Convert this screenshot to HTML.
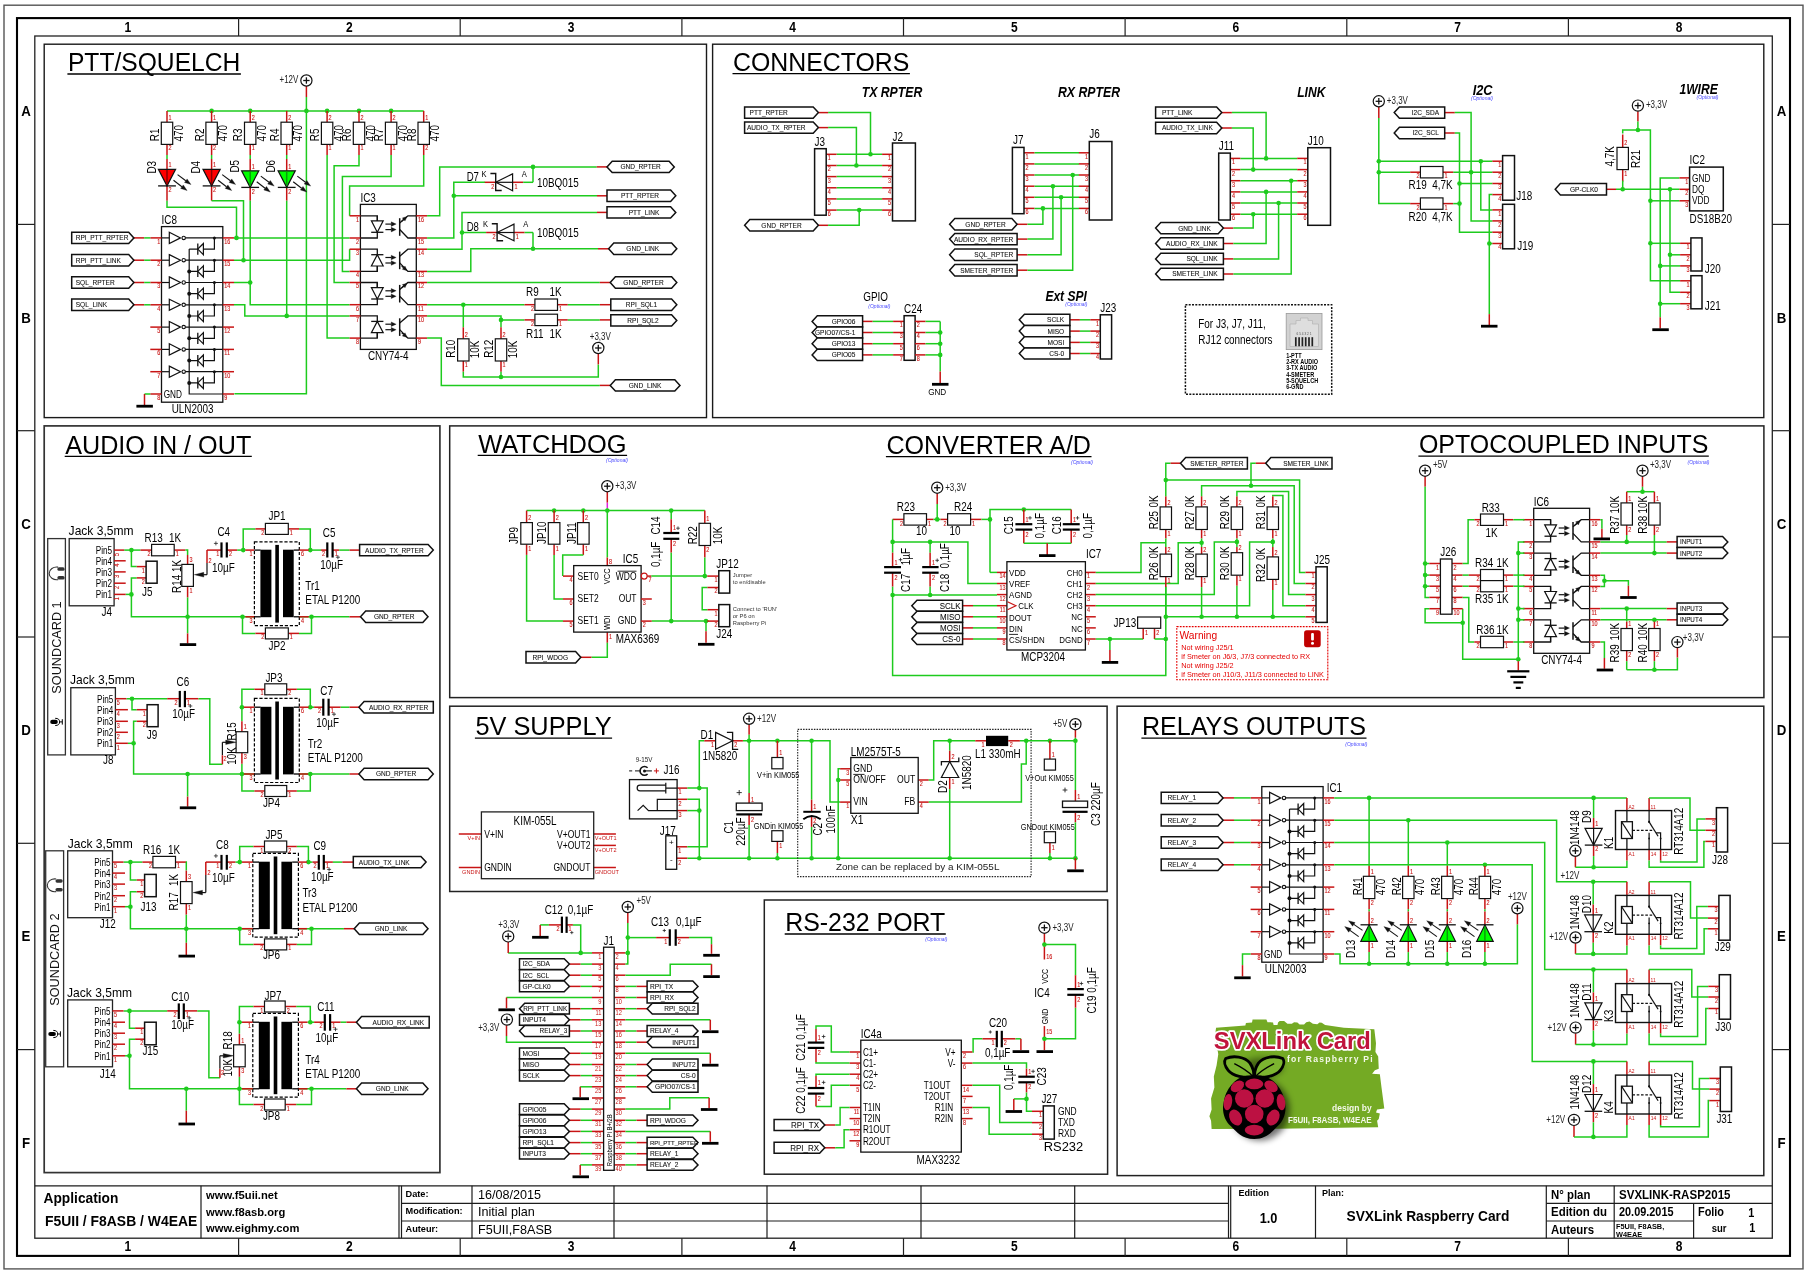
<!DOCTYPE html>
<html><head><meta charset="utf-8"><title>SVXLink Raspberry Card</title>
<style>
html,body{margin:0;padding:0;background:#fff}
body{width:1807px;height:1274px;overflow:hidden}
svg{display:block;will-change:transform}
svg text{font-family:"Liberation Sans",sans-serif;}
</style></head><body>
<svg width="1807" height="1274" viewBox="0 0 1807 1274" stroke-linecap="butt" stroke-linejoin="miter">
<rect x="4" y="5.2" width="1799" height="1263.7" stroke="#555" stroke-width="1.4" fill="none"/>
<rect x="17" y="18.1" width="1773" height="1237.8" stroke="#000" stroke-width="2.1" fill="none"/>
<rect x="34.8" y="36" width="1737.5" height="1202.2" stroke="#222" stroke-width="1.3" fill="none"/>
<path d="M238.6 18.1L238.6 36" stroke="#222" stroke-width="1.2"/>
<path d="M238.6 1238.2L238.6 1255.9" stroke="#222" stroke-width="1.2"/>
<path d="M460.2 18.1L460.2 36" stroke="#222" stroke-width="1.2"/>
<path d="M460.2 1238.2L460.2 1255.9" stroke="#222" stroke-width="1.2"/>
<path d="M681.9 18.1L681.9 36" stroke="#222" stroke-width="1.2"/>
<path d="M681.9 1238.2L681.9 1255.9" stroke="#222" stroke-width="1.2"/>
<path d="M903.5 18.1L903.5 36" stroke="#222" stroke-width="1.2"/>
<path d="M903.5 1238.2L903.5 1255.9" stroke="#222" stroke-width="1.2"/>
<path d="M1125.1 18.1L1125.1 36" stroke="#222" stroke-width="1.2"/>
<path d="M1125.1 1238.2L1125.1 1255.9" stroke="#222" stroke-width="1.2"/>
<path d="M1346.8 18.1L1346.8 36" stroke="#222" stroke-width="1.2"/>
<path d="M1346.8 1238.2L1346.8 1255.9" stroke="#222" stroke-width="1.2"/>
<path d="M1568.4 18.1L1568.4 36" stroke="#222" stroke-width="1.2"/>
<path d="M1568.4 1238.2L1568.4 1255.9" stroke="#222" stroke-width="1.2"/>
<text transform="translate(127.8 31.6) scale(0.8 1)" font-size="15" text-anchor="middle" font-weight="bold">1</text>
<text transform="translate(127.8 1250.8) scale(0.8 1)" font-size="15" text-anchor="middle" font-weight="bold">1</text>
<text transform="translate(349.4 31.6) scale(0.8 1)" font-size="15" text-anchor="middle" font-weight="bold">2</text>
<text transform="translate(349.4 1250.8) scale(0.8 1)" font-size="15" text-anchor="middle" font-weight="bold">2</text>
<text transform="translate(571.1 31.6) scale(0.8 1)" font-size="15" text-anchor="middle" font-weight="bold">3</text>
<text transform="translate(571.1 1250.8) scale(0.8 1)" font-size="15" text-anchor="middle" font-weight="bold">3</text>
<text transform="translate(792.7 31.6) scale(0.8 1)" font-size="15" text-anchor="middle" font-weight="bold">4</text>
<text transform="translate(792.7 1250.8) scale(0.8 1)" font-size="15" text-anchor="middle" font-weight="bold">4</text>
<text transform="translate(1014.3 31.6) scale(0.8 1)" font-size="15" text-anchor="middle" font-weight="bold">5</text>
<text transform="translate(1014.3 1250.8) scale(0.8 1)" font-size="15" text-anchor="middle" font-weight="bold">5</text>
<text transform="translate(1235.9 31.6) scale(0.8 1)" font-size="15" text-anchor="middle" font-weight="bold">6</text>
<text transform="translate(1235.9 1250.8) scale(0.8 1)" font-size="15" text-anchor="middle" font-weight="bold">6</text>
<text transform="translate(1457.6 31.6) scale(0.8 1)" font-size="15" text-anchor="middle" font-weight="bold">7</text>
<text transform="translate(1457.6 1250.8) scale(0.8 1)" font-size="15" text-anchor="middle" font-weight="bold">7</text>
<text transform="translate(1679.2 31.6) scale(0.8 1)" font-size="15" text-anchor="middle" font-weight="bold">8</text>
<text transform="translate(1679.2 1250.8) scale(0.8 1)" font-size="15" text-anchor="middle" font-weight="bold">8</text>
<path d="M17 224.4L34.8 224.4" stroke="#222" stroke-width="1.2"/>
<path d="M1772.2 224.4L1790 224.4" stroke="#222" stroke-width="1.2"/>
<path d="M17 430.7L34.8 430.7" stroke="#222" stroke-width="1.2"/>
<path d="M1772.2 430.7L1790 430.7" stroke="#222" stroke-width="1.2"/>
<path d="M17 637L34.8 637" stroke="#222" stroke-width="1.2"/>
<path d="M1772.2 637L1790 637" stroke="#222" stroke-width="1.2"/>
<path d="M17 843.3L34.8 843.3" stroke="#222" stroke-width="1.2"/>
<path d="M1772.2 843.3L1790 843.3" stroke="#222" stroke-width="1.2"/>
<path d="M17 1049.6L34.8 1049.6" stroke="#222" stroke-width="1.2"/>
<path d="M1772.2 1049.6L1790 1049.6" stroke="#222" stroke-width="1.2"/>
<text transform="translate(26 116.2) scale(0.95 1)" font-size="14" text-anchor="middle" font-weight="bold">A</text>
<text transform="translate(1781.5 116.2) scale(0.95 1)" font-size="14" text-anchor="middle" font-weight="bold">A</text>
<text transform="translate(26 322.5) scale(0.95 1)" font-size="14" text-anchor="middle" font-weight="bold">B</text>
<text transform="translate(1781.5 322.5) scale(0.95 1)" font-size="14" text-anchor="middle" font-weight="bold">B</text>
<text transform="translate(26 528.8) scale(0.95 1)" font-size="14" text-anchor="middle" font-weight="bold">C</text>
<text transform="translate(1781.5 528.8) scale(0.95 1)" font-size="14" text-anchor="middle" font-weight="bold">C</text>
<text transform="translate(26 735.1) scale(0.95 1)" font-size="14" text-anchor="middle" font-weight="bold">D</text>
<text transform="translate(1781.5 735.1) scale(0.95 1)" font-size="14" text-anchor="middle" font-weight="bold">D</text>
<text transform="translate(26 941.4) scale(0.95 1)" font-size="14" text-anchor="middle" font-weight="bold">E</text>
<text transform="translate(1781.5 941.4) scale(0.95 1)" font-size="14" text-anchor="middle" font-weight="bold">E</text>
<text transform="translate(26 1147.7) scale(0.95 1)" font-size="14" text-anchor="middle" font-weight="bold">F</text>
<text transform="translate(1781.5 1147.7) scale(0.95 1)" font-size="14" text-anchor="middle" font-weight="bold">F</text>
<rect x="44.2" y="44.2" width="662.3" height="373.4" stroke="#1a1a1a" stroke-width="1.4" fill="none"/>
<rect x="712.6" y="44.2" width="1051.2" height="373.4" stroke="#1a1a1a" stroke-width="1.4" fill="none"/>
<rect x="44.2" y="425.9" width="395.7" height="746.7" stroke="#333" stroke-width="1.7" fill="none"/>
<rect x="449.7" y="425.9" width="1314.2" height="271.7" stroke="#222" stroke-width="1.5" fill="none"/>
<rect x="449.7" y="706.2" width="657.4" height="185.3" stroke="#222" stroke-width="1.5" fill="none"/>
<rect x="764.3" y="900" width="343.3" height="274.2" stroke="#222" stroke-width="1.5" fill="none"/>
<rect x="1117.1" y="706.2" width="646.7" height="469.4" stroke="#222" stroke-width="1.5" fill="none"/>
<path d="M34.8 1185.8L1772.2 1185.8" stroke="#1c1c1c" stroke-width="1.2"/>
<path d="M201 1185.8L201 1238.2" stroke="#1c1c1c" stroke-width="1.2"/>
<path d="M399 1185.8L399 1238.2" stroke="#1c1c1c" stroke-width="1.2"/>
<path d="M401.5 1185.8L401.5 1238.2" stroke="#1c1c1c" stroke-width="1.2"/>
<path d="M472 1185.8L472 1238.2" stroke="#1c1c1c" stroke-width="1.2"/>
<path d="M614 1185.8L614 1238.2" stroke="#1c1c1c" stroke-width="1.2"/>
<path d="M767 1185.8L767 1238.2" stroke="#1c1c1c" stroke-width="1.2"/>
<path d="M921 1185.8L921 1238.2" stroke="#1c1c1c" stroke-width="1.2"/>
<path d="M1074.7 1185.8L1074.7 1238.2" stroke="#1c1c1c" stroke-width="1.2"/>
<path d="M401.5 1203.4L1228.5 1203.4" stroke="#1c1c1c" stroke-width="1.2"/>
<path d="M401.5 1221L1228.5 1221" stroke="#1c1c1c" stroke-width="1.2"/>
<path d="M1228.5 1185.8L1228.5 1238.2" stroke="#1c1c1c" stroke-width="1.2"/>
<path d="M1230.7 1185.8L1230.7 1238.2" stroke="#1c1c1c" stroke-width="1.2"/>
<path d="M1315.5 1185.8L1315.5 1238.2" stroke="#1c1c1c" stroke-width="1.2"/>
<path d="M1546.3 1185.8L1546.3 1238.2" stroke="#1c1c1c" stroke-width="1.2"/>
<path d="M1614.2 1185.8L1614.2 1238.2" stroke="#1c1c1c" stroke-width="1.2"/>
<path d="M1546.3 1203.4L1772.2 1203.4" stroke="#1c1c1c" stroke-width="1.2"/>
<path d="M1546.3 1221L1693.6 1221" stroke="#1c1c1c" stroke-width="1.2"/>
<path d="M1693.6 1203.4L1693.6 1238.2" stroke="#1c1c1c" stroke-width="1.2"/>
<text transform="translate(43.5 1203) scale(0.93 1)" font-size="14.8" font-weight="bold">Application</text>
<text transform="translate(45 1225.5) scale(0.94 1)" font-size="14.8" font-weight="bold">F5UII / F8ASB / W4EAE</text>
<text transform="translate(206 1199.3) scale(0.95 1)" font-size="11.8" font-weight="bold">www.f5uii.net</text>
<text transform="translate(206 1216) scale(0.95 1)" font-size="11.8" font-weight="bold">www.f8asb.org</text>
<text transform="translate(206 1232.2) scale(0.95 1)" font-size="11.8" font-weight="bold">www.eighmy.com</text>
<text transform="translate(405.5 1196.5)" font-size="9.2" font-weight="bold">Date:</text>
<text transform="translate(405.5 1214)" font-size="9.2" font-weight="bold">Modification:</text>
<text transform="translate(405.5 1231.5)" font-size="9.2" font-weight="bold">Auteur:</text>
<text transform="translate(478 1198.8)" font-size="12.6">16/08/2015</text>
<text transform="translate(478 1216)" font-size="12.6">Initial plan</text>
<text transform="translate(478 1233.6)" font-size="12.6">F5UII,F8ASB</text>
<text transform="translate(1238.5 1196.3)" font-size="9" font-weight="bold">Edition</text>
<text transform="translate(1268.5 1223) scale(0.88 1)" font-size="14.5" text-anchor="middle" font-weight="bold">1.0</text>
<text transform="translate(1322 1196.3)" font-size="9" font-weight="bold">Plan:</text>
<text transform="translate(1346.5 1221.2) scale(0.95 1)" font-size="14.5" font-weight="bold">SVXLink Raspberry Card</text>
<text transform="translate(1551 1198.8) scale(0.92 1)" font-size="12.4" font-weight="bold">N° plan</text>
<text transform="translate(1551 1216.3) scale(0.925 1)" font-size="12.4" font-weight="bold">Edition du</text>
<text transform="translate(1551 1233.7) scale(0.92 1)" font-size="12.4" font-weight="bold">Auteurs</text>
<text transform="translate(1619 1198.8) scale(0.93 1)" font-size="12.4" font-weight="bold">SVXLINK-RASP2015</text>
<text transform="translate(1619 1216.3) scale(0.88 1)" font-size="12.4" font-weight="bold">20.09.2015</text>
<text transform="translate(1616 1229) scale(0.97 1)" font-size="7.6" font-weight="bold">F5UII, F8ASB,</text>
<text transform="translate(1616 1236.6) scale(0.97 1)" font-size="7.6" font-weight="bold">W4EAE</text>
<text transform="translate(1698 1216.3) scale(0.88 1)" font-size="12.4" font-weight="bold">Folio</text>
<text transform="translate(1754.2 1216.6) scale(0.88 1)" font-size="12.4" text-anchor="end" font-weight="bold">1</text>
<text transform="translate(1711.7 1231.8) scale(0.88 1)" font-size="10.8" font-weight="bold">sur</text>
<text transform="translate(1755.4 1231.8) scale(0.88 1)" font-size="12.4" text-anchor="end" font-weight="bold">1</text>
<text x="67.9" y="71.2" font-size="26.2" textLength="172.5" lengthAdjust="spacingAndGlyphs">PTT/SQUELCH</text>
<path d="M67.4 74L240.9 74" stroke="#000" stroke-width="1.3"/>
<path d="M306.4 97L306.4 393.7L234.4 393.7" stroke="#1ecb1e" stroke-width="1.5" fill="none"/>
<path d="M306.4 86L306.4 97" stroke="#c81414" stroke-width="1.5"/>
<circle cx="306.4" cy="80.5" r="5.6" fill="#fff" stroke="#111" stroke-width="1.2"/>
<path d="M303.2 80.5L309.6 80.5" stroke="#111" stroke-width="1.3"/>
<path d="M306.4 77.3L306.4 83.7" stroke="#111" stroke-width="1.3"/>
<text transform="translate(298.4 83.3) scale(0.8 1)" font-size="10" text-anchor="end" fill="#222">+12V</text>
<path d="M167 110.9L423.7 110.9" stroke="#1ecb1e" stroke-width="1.5" fill="none"/>
<circle cx="211.6" cy="110.9" r="2.3" fill="#1ecb1e"/>
<circle cx="250.2" cy="110.9" r="2.3" fill="#1ecb1e"/>
<circle cx="306.4" cy="110.9" r="2.3" fill="#1ecb1e"/>
<circle cx="327.1" cy="110.9" r="2.3" fill="#1ecb1e"/>
<circle cx="359" cy="110.9" r="2.3" fill="#1ecb1e"/>
<circle cx="391.1" cy="110.9" r="2.3" fill="#1ecb1e"/>
<path d="M167 110.9L167 122.2" stroke="#c81414" stroke-width="1.5"/>
<path d="M167 144.4L167 155" stroke="#c81414" stroke-width="1.5"/>
<rect x="161.3" y="122.2" width="11.4" height="22.2" stroke="#111" stroke-width="1.2" fill="#fff"/>
<text transform="translate(168.5 120) scale(0.85 1)" font-size="6.4" fill="#c81414" stroke="#c81414" stroke-width="0.12">1</text>
<text transform="translate(168.5 150.4) scale(0.85 1)" font-size="6.4" fill="#c81414" stroke="#c81414" stroke-width="0.12">2</text>
<text transform="translate(159.1 141.2) rotate(-90) scale(0.78 1)" font-size="12.7">R1</text>
<text transform="translate(182.7 141.6) rotate(-90) scale(0.78 1)" font-size="12.7">470</text>
<path d="M211.6 110.9L211.6 122.2" stroke="#c81414" stroke-width="1.5"/>
<path d="M211.6 144.4L211.6 155" stroke="#c81414" stroke-width="1.5"/>
<rect x="205.9" y="122.2" width="11.4" height="22.2" stroke="#111" stroke-width="1.2" fill="#fff"/>
<text transform="translate(213.1 120) scale(0.85 1)" font-size="6.4" fill="#c81414" stroke="#c81414" stroke-width="0.12">1</text>
<text transform="translate(213.1 150.4) scale(0.85 1)" font-size="6.4" fill="#c81414" stroke="#c81414" stroke-width="0.12">2</text>
<text transform="translate(203.7 141.2) rotate(-90) scale(0.78 1)" font-size="12.7">R2</text>
<text transform="translate(227.3 141.6) rotate(-90) scale(0.78 1)" font-size="12.7">470</text>
<path d="M250.2 110.9L250.2 122.2" stroke="#c81414" stroke-width="1.5"/>
<path d="M250.2 144.4L250.2 155" stroke="#c81414" stroke-width="1.5"/>
<rect x="244.5" y="122.2" width="11.4" height="22.2" stroke="#111" stroke-width="1.2" fill="#fff"/>
<text transform="translate(251.7 120) scale(0.85 1)" font-size="6.4" fill="#c81414" stroke="#c81414" stroke-width="0.12">2</text>
<text transform="translate(251.7 150.4) scale(0.85 1)" font-size="6.4" fill="#c81414" stroke="#c81414" stroke-width="0.12">1</text>
<text transform="translate(242.3 141.2) rotate(-90) scale(0.78 1)" font-size="12.7">R3</text>
<text transform="translate(265.9 141.6) rotate(-90) scale(0.78 1)" font-size="12.7">470</text>
<path d="M286.7 110.9L286.7 122.2" stroke="#c81414" stroke-width="1.5"/>
<path d="M286.7 144.4L286.7 155" stroke="#c81414" stroke-width="1.5"/>
<rect x="281" y="122.2" width="11.4" height="22.2" stroke="#111" stroke-width="1.2" fill="#fff"/>
<text transform="translate(288.2 120) scale(0.85 1)" font-size="6.4" fill="#c81414" stroke="#c81414" stroke-width="0.12">2</text>
<text transform="translate(288.2 150.4) scale(0.85 1)" font-size="6.4" fill="#c81414" stroke="#c81414" stroke-width="0.12">1</text>
<text transform="translate(278.8 141.2) rotate(-90) scale(0.78 1)" font-size="12.7">R4</text>
<text transform="translate(302.4 141.6) rotate(-90) scale(0.78 1)" font-size="12.7">470</text>
<path d="M327.1 110.9L327.1 122.2" stroke="#c81414" stroke-width="1.5"/>
<path d="M327.1 144.4L327.1 155" stroke="#c81414" stroke-width="1.5"/>
<rect x="321.4" y="122.2" width="11.4" height="22.2" stroke="#111" stroke-width="1.2" fill="#fff"/>
<text transform="translate(328.6 120) scale(0.85 1)" font-size="6.4" fill="#c81414" stroke="#c81414" stroke-width="0.12">2</text>
<text transform="translate(328.6 150.4) scale(0.85 1)" font-size="6.4" fill="#c81414" stroke="#c81414" stroke-width="0.12">1</text>
<text transform="translate(319.2 141.2) rotate(-90) scale(0.78 1)" font-size="12.7">R5</text>
<text transform="translate(342.8 141.6) rotate(-90) scale(0.78 1)" font-size="12.7">470</text>
<path d="M359 110.9L359 122.2" stroke="#c81414" stroke-width="1.5"/>
<path d="M359 144.4L359 155" stroke="#c81414" stroke-width="1.5"/>
<rect x="353.3" y="122.2" width="11.4" height="22.2" stroke="#111" stroke-width="1.2" fill="#fff"/>
<text transform="translate(360.5 120) scale(0.85 1)" font-size="6.4" fill="#c81414" stroke="#c81414" stroke-width="0.12">2</text>
<text transform="translate(360.5 150.4) scale(0.85 1)" font-size="6.4" fill="#c81414" stroke="#c81414" stroke-width="0.12">1</text>
<text transform="translate(351.1 141.2) rotate(-90) scale(0.78 1)" font-size="12.7">R6</text>
<text transform="translate(374.7 141.6) rotate(-90) scale(0.78 1)" font-size="12.7">470</text>
<path d="M391.1 110.9L391.1 122.2" stroke="#c81414" stroke-width="1.5"/>
<path d="M391.1 144.4L391.1 155" stroke="#c81414" stroke-width="1.5"/>
<rect x="385.4" y="122.2" width="11.4" height="22.2" stroke="#111" stroke-width="1.2" fill="#fff"/>
<text transform="translate(392.6 120) scale(0.85 1)" font-size="6.4" fill="#c81414" stroke="#c81414" stroke-width="0.12">2</text>
<text transform="translate(392.6 150.4) scale(0.85 1)" font-size="6.4" fill="#c81414" stroke="#c81414" stroke-width="0.12">1</text>
<text transform="translate(383.2 141.2) rotate(-90) scale(0.78 1)" font-size="12.7">R7</text>
<text transform="translate(406.8 141.6) rotate(-90) scale(0.78 1)" font-size="12.7">470</text>
<path d="M423.7 110.9L423.7 122.2" stroke="#c81414" stroke-width="1.5"/>
<path d="M423.7 144.4L423.7 155" stroke="#c81414" stroke-width="1.5"/>
<rect x="418" y="122.2" width="11.4" height="22.2" stroke="#111" stroke-width="1.2" fill="#fff"/>
<text transform="translate(425.2 120) scale(0.85 1)" font-size="6.4" fill="#c81414" stroke="#c81414" stroke-width="0.12">1</text>
<text transform="translate(425.2 150.4) scale(0.85 1)" font-size="6.4" fill="#c81414" stroke="#c81414" stroke-width="0.12">2</text>
<text transform="translate(415.8 141.2) rotate(-90) scale(0.78 1)" font-size="12.7">R8</text>
<text transform="translate(439.4 141.6) rotate(-90) scale(0.78 1)" font-size="12.7">470</text>
<path d="M167 155L167 159" stroke="#1ecb1e" stroke-width="1.5" fill="none"/>
<path d="M167 159L167 169.3" stroke="#c81414" stroke-width="1.5"/>
<path d="M167 185.9L167 200.7" stroke="#c81414" stroke-width="1.5"/>
<path d="M158.4 169.3L175.6 169.3L167 185.9Z" stroke="#111" stroke-width="1.2" fill="#f00"/>
<path d="M167 169.9L167 184.4" stroke="#8a0000" stroke-width="1.5"/>
<path d="M158.1 185.9L175.9 185.9" stroke="#111" stroke-width="1.3"/>
<path d="M177.6 174.6L185.8 180.7" stroke="#111" stroke-width="1.1"/>
<path d="M191 184.6L184.5 182.5L187.1 178.9Z" stroke="#111" stroke-width="0.3" fill="#111"/>
<path d="M173.5 180.2L181.9 186.7" stroke="#111" stroke-width="1.1"/>
<path d="M187.1 190.6L180.6 188.4L183.3 184.9Z" stroke="#111" stroke-width="0.3" fill="#111"/>
<text transform="translate(168.5 167.1) scale(0.85 1)" font-size="6.4" fill="#c81414" stroke="#c81414" stroke-width="0.12">1</text>
<text transform="translate(168.5 192.3) scale(0.85 1)" font-size="6.4" fill="#c81414" stroke="#c81414" stroke-width="0.12">2</text>
<text transform="translate(155.5 167.3) rotate(-90) scale(0.78 1)" font-size="12.7" text-anchor="middle">D3</text>
<path d="M211.6 155L211.6 159" stroke="#1ecb1e" stroke-width="1.5" fill="none"/>
<path d="M211.6 159L211.6 169.3" stroke="#c81414" stroke-width="1.5"/>
<path d="M211.6 185.9L211.6 200.7" stroke="#c81414" stroke-width="1.5"/>
<path d="M203 169.3L220.2 169.3L211.6 185.9Z" stroke="#111" stroke-width="1.2" fill="#f00"/>
<path d="M211.6 169.9L211.6 184.4" stroke="#8a0000" stroke-width="1.5"/>
<path d="M202.7 185.9L220.5 185.9" stroke="#111" stroke-width="1.3"/>
<path d="M222.2 174.6L230.4 180.7" stroke="#111" stroke-width="1.1"/>
<path d="M235.6 184.6L229.1 182.5L231.7 178.9Z" stroke="#111" stroke-width="0.3" fill="#111"/>
<path d="M218.1 180.2L226.5 186.7" stroke="#111" stroke-width="1.1"/>
<path d="M231.7 190.6L225.2 188.4L227.9 184.9Z" stroke="#111" stroke-width="0.3" fill="#111"/>
<text transform="translate(213.1 167.1) scale(0.85 1)" font-size="6.4" fill="#c81414" stroke="#c81414" stroke-width="0.12">1</text>
<text transform="translate(213.1 192.3) scale(0.85 1)" font-size="6.4" fill="#c81414" stroke="#c81414" stroke-width="0.12">2</text>
<text transform="translate(200.1 167.3) rotate(-90) scale(0.78 1)" font-size="12.7" text-anchor="middle">D4</text>
<path d="M250.2 155L250.2 159" stroke="#1ecb1e" stroke-width="1.5" fill="none"/>
<path d="M250.2 159L250.2 170.8" stroke="#c81414" stroke-width="1.5"/>
<path d="M250.2 187.4L250.2 200.7" stroke="#c81414" stroke-width="1.5"/>
<path d="M241.6 170.8L258.8 170.8L250.2 187.4Z" stroke="#111" stroke-width="1.2" fill="#0f0"/>
<path d="M250.2 171.4L250.2 185.9" stroke="#0a9a0a" stroke-width="1.5"/>
<path d="M241.3 187.4L259.1 187.4" stroke="#111" stroke-width="1.3"/>
<path d="M260.8 176.1L269 182.2" stroke="#111" stroke-width="1.1"/>
<path d="M274.2 186.1L267.7 184L270.3 180.4Z" stroke="#111" stroke-width="0.3" fill="#111"/>
<path d="M256.7 181.7L265.1 188.2" stroke="#111" stroke-width="1.1"/>
<path d="M270.3 192.1L263.8 189.9L266.5 186.4Z" stroke="#111" stroke-width="0.3" fill="#111"/>
<text transform="translate(251.7 168.6) scale(0.85 1)" font-size="6.4" fill="#c81414" stroke="#c81414" stroke-width="0.12">1</text>
<text transform="translate(251.7 193.8) scale(0.85 1)" font-size="6.4" fill="#c81414" stroke="#c81414" stroke-width="0.12">2</text>
<text transform="translate(238.7 166.3) rotate(-90) scale(0.78 1)" font-size="12.7" text-anchor="middle">D5</text>
<path d="M286.7 155L286.7 159" stroke="#1ecb1e" stroke-width="1.5" fill="none"/>
<path d="M286.7 159L286.7 170.8" stroke="#c81414" stroke-width="1.5"/>
<path d="M286.7 187.4L286.7 200.7" stroke="#c81414" stroke-width="1.5"/>
<path d="M278.1 170.8L295.3 170.8L286.7 187.4Z" stroke="#111" stroke-width="1.2" fill="#0f0"/>
<path d="M286.7 171.4L286.7 185.9" stroke="#0a9a0a" stroke-width="1.5"/>
<path d="M277.8 187.4L295.6 187.4" stroke="#111" stroke-width="1.3"/>
<path d="M297.3 176.1L305.5 182.2" stroke="#111" stroke-width="1.1"/>
<path d="M310.7 186.1L304.2 184L306.8 180.4Z" stroke="#111" stroke-width="0.3" fill="#111"/>
<path d="M293.2 181.7L301.6 188.2" stroke="#111" stroke-width="1.1"/>
<path d="M306.8 192.1L300.3 189.9L303 186.4Z" stroke="#111" stroke-width="0.3" fill="#111"/>
<text transform="translate(288.2 168.6) scale(0.85 1)" font-size="6.4" fill="#c81414" stroke="#c81414" stroke-width="0.12">1</text>
<text transform="translate(288.2 193.8) scale(0.85 1)" font-size="6.4" fill="#c81414" stroke="#c81414" stroke-width="0.12">2</text>
<text transform="translate(275.2 166.3) rotate(-90) scale(0.78 1)" font-size="12.7" text-anchor="middle">D6</text>
<path d="M167 200.7L167 207.2L236.5 207.2L236.5 237.9" stroke="#1ecb1e" stroke-width="1.5" fill="none"/>
<path d="M211.6 200.7L243.5 200.7L243.5 260.2" stroke="#1ecb1e" stroke-width="1.5" fill="none"/>
<path d="M250.2 200.7L250.2 304.8L349.6 304.8" stroke="#1ecb1e" stroke-width="1.5" fill="none"/>
<path d="M286.7 200.7L286.7 315.9" stroke="#1ecb1e" stroke-width="1.5" fill="none"/>
<rect x="161.5" y="226.6" width="61.3" height="175.6" stroke="#111" stroke-width="1.3" fill="#fff"/>
<path d="M161.5 237.9L169.3 237.9" stroke="#111" stroke-width="1.2"/>
<path d="M169.3 232.3L180.5 237.9L169.3 243.5Z" stroke="#111" stroke-width="1.2" fill="#fff"/>
<circle cx="183.7" cy="237.9" r="1.7" fill="#fff" stroke="#111" stroke-width="1.1"/>
<path d="M185.4 237.9L222.8 237.9" stroke="#111" stroke-width="1.2"/>
<circle cx="214.4" cy="237.9" r="1.5" fill="#111"/>
<path d="M214.4 237.9L214.4 249.1L189.2 249.1" stroke="#111" stroke-width="1.2" fill="none"/>
<path d="M197.8 243.5L197.8 254.7" stroke="#111" stroke-width="1.3"/>
<path d="M203.4 243.5L197.8 249.1L203.4 254.7Z" stroke="#111" stroke-width="1.2" fill="#fff"/>
<path d="M161.5 260.2L169.3 260.2" stroke="#111" stroke-width="1.2"/>
<path d="M169.3 254.6L180.5 260.2L169.3 265.8Z" stroke="#111" stroke-width="1.2" fill="#fff"/>
<circle cx="183.7" cy="260.2" r="1.7" fill="#fff" stroke="#111" stroke-width="1.1"/>
<path d="M185.4 260.2L222.8 260.2" stroke="#111" stroke-width="1.2"/>
<circle cx="214.4" cy="260.2" r="1.5" fill="#111"/>
<path d="M214.4 260.2L214.4 271.4L189.2 271.4" stroke="#111" stroke-width="1.2" fill="none"/>
<path d="M197.8 265.8L197.8 277" stroke="#111" stroke-width="1.3"/>
<path d="M203.4 265.8L197.8 271.4L203.4 277Z" stroke="#111" stroke-width="1.2" fill="#fff"/>
<circle cx="189.2" cy="271.4" r="2.0" fill="#111"/>
<path d="M161.5 282.5L169.3 282.5" stroke="#111" stroke-width="1.2"/>
<path d="M169.3 276.9L180.5 282.5L169.3 288.1Z" stroke="#111" stroke-width="1.2" fill="#fff"/>
<circle cx="183.7" cy="282.5" r="1.7" fill="#fff" stroke="#111" stroke-width="1.1"/>
<path d="M185.4 282.5L222.8 282.5" stroke="#111" stroke-width="1.2"/>
<circle cx="214.4" cy="282.5" r="1.5" fill="#111"/>
<path d="M214.4 282.5L214.4 293.7L189.2 293.7" stroke="#111" stroke-width="1.2" fill="none"/>
<path d="M197.8 288.1L197.8 299.3" stroke="#111" stroke-width="1.3"/>
<path d="M203.4 288.1L197.8 293.7L203.4 299.3Z" stroke="#111" stroke-width="1.2" fill="#fff"/>
<circle cx="189.2" cy="293.7" r="2.0" fill="#111"/>
<path d="M161.5 304.8L169.3 304.8" stroke="#111" stroke-width="1.2"/>
<path d="M169.3 299.2L180.5 304.8L169.3 310.4Z" stroke="#111" stroke-width="1.2" fill="#fff"/>
<circle cx="183.7" cy="304.8" r="1.7" fill="#fff" stroke="#111" stroke-width="1.1"/>
<path d="M185.4 304.8L222.8 304.8" stroke="#111" stroke-width="1.2"/>
<circle cx="214.4" cy="304.8" r="1.5" fill="#111"/>
<path d="M214.4 304.8L214.4 316L189.2 316" stroke="#111" stroke-width="1.2" fill="none"/>
<path d="M197.8 310.4L197.8 321.6" stroke="#111" stroke-width="1.3"/>
<path d="M203.4 310.4L197.8 316L203.4 321.6Z" stroke="#111" stroke-width="1.2" fill="#fff"/>
<circle cx="189.2" cy="316" r="2.0" fill="#111"/>
<path d="M161.5 327.1L169.3 327.1" stroke="#111" stroke-width="1.2"/>
<path d="M169.3 321.5L180.5 327.1L169.3 332.7Z" stroke="#111" stroke-width="1.2" fill="#fff"/>
<circle cx="183.7" cy="327.1" r="1.7" fill="#fff" stroke="#111" stroke-width="1.1"/>
<path d="M185.4 327.1L222.8 327.1" stroke="#111" stroke-width="1.2"/>
<circle cx="214.4" cy="327.1" r="1.5" fill="#111"/>
<path d="M214.4 327.1L214.4 338.3L189.2 338.3" stroke="#111" stroke-width="1.2" fill="none"/>
<path d="M197.8 332.7L197.8 343.9" stroke="#111" stroke-width="1.3"/>
<path d="M203.4 332.7L197.8 338.3L203.4 343.9Z" stroke="#111" stroke-width="1.2" fill="#fff"/>
<circle cx="189.2" cy="338.3" r="2.0" fill="#111"/>
<path d="M161.5 349.4L169.3 349.4" stroke="#111" stroke-width="1.2"/>
<path d="M169.3 343.8L180.5 349.4L169.3 355Z" stroke="#111" stroke-width="1.2" fill="#fff"/>
<circle cx="183.7" cy="349.4" r="1.7" fill="#fff" stroke="#111" stroke-width="1.1"/>
<path d="M185.4 349.4L222.8 349.4" stroke="#111" stroke-width="1.2"/>
<circle cx="214.4" cy="349.4" r="1.5" fill="#111"/>
<path d="M214.4 349.4L214.4 360.6L189.2 360.6" stroke="#111" stroke-width="1.2" fill="none"/>
<path d="M197.8 355L197.8 366.2" stroke="#111" stroke-width="1.3"/>
<path d="M203.4 355L197.8 360.6L203.4 366.2Z" stroke="#111" stroke-width="1.2" fill="#fff"/>
<circle cx="189.2" cy="360.6" r="2.0" fill="#111"/>
<path d="M161.5 371.7L169.3 371.7" stroke="#111" stroke-width="1.2"/>
<path d="M169.3 366.1L180.5 371.7L169.3 377.3Z" stroke="#111" stroke-width="1.2" fill="#fff"/>
<circle cx="183.7" cy="371.7" r="1.7" fill="#fff" stroke="#111" stroke-width="1.1"/>
<path d="M185.4 371.7L222.8 371.7" stroke="#111" stroke-width="1.2"/>
<circle cx="214.4" cy="371.7" r="1.5" fill="#111"/>
<path d="M214.4 371.7L214.4 382.9L189.2 382.9" stroke="#111" stroke-width="1.2" fill="none"/>
<path d="M197.8 377.3L197.8 388.5" stroke="#111" stroke-width="1.3"/>
<path d="M203.4 377.3L197.8 382.9L203.4 388.5Z" stroke="#111" stroke-width="1.2" fill="#fff"/>
<circle cx="189.2" cy="382.9" r="2.0" fill="#111"/>
<path d="M189.2 249.1L189.2 394L222.8 394" stroke="#111" stroke-width="1.2" fill="none"/>
<path d="M150.3 237.9L161.5 237.9" stroke="#c81414" stroke-width="1.5"/>
<text transform="translate(160.3 243.7) scale(0.85 1)" font-size="6.4" text-anchor="end" fill="#c81414" stroke="#c81414" stroke-width="0.12">1</text>
<path d="M222.8 237.9L234 237.9" stroke="#c81414" stroke-width="1.5"/>
<text transform="translate(224.3 243.7) scale(0.85 1)" font-size="6.4" fill="#c81414" stroke="#c81414" stroke-width="0.12">16</text>
<path d="M150.3 260.2L161.5 260.2" stroke="#c81414" stroke-width="1.5"/>
<text transform="translate(160.3 266) scale(0.85 1)" font-size="6.4" text-anchor="end" fill="#c81414" stroke="#c81414" stroke-width="0.12">2</text>
<path d="M222.8 260.2L234 260.2" stroke="#c81414" stroke-width="1.5"/>
<text transform="translate(224.3 266) scale(0.85 1)" font-size="6.4" fill="#c81414" stroke="#c81414" stroke-width="0.12">15</text>
<path d="M150.3 282.5L161.5 282.5" stroke="#c81414" stroke-width="1.5"/>
<text transform="translate(160.3 288.3) scale(0.85 1)" font-size="6.4" text-anchor="end" fill="#c81414" stroke="#c81414" stroke-width="0.12">3</text>
<path d="M222.8 282.5L234 282.5" stroke="#c81414" stroke-width="1.5"/>
<text transform="translate(224.3 288.3) scale(0.85 1)" font-size="6.4" fill="#c81414" stroke="#c81414" stroke-width="0.12">14</text>
<path d="M150.3 304.8L161.5 304.8" stroke="#c81414" stroke-width="1.5"/>
<text transform="translate(160.3 310.6) scale(0.85 1)" font-size="6.4" text-anchor="end" fill="#c81414" stroke="#c81414" stroke-width="0.12">4</text>
<path d="M222.8 304.8L234 304.8" stroke="#c81414" stroke-width="1.5"/>
<text transform="translate(224.3 310.6) scale(0.85 1)" font-size="6.4" fill="#c81414" stroke="#c81414" stroke-width="0.12">13</text>
<path d="M150.3 327.1L161.5 327.1" stroke="#c81414" stroke-width="1.5"/>
<text transform="translate(160.3 332.9) scale(0.85 1)" font-size="6.4" text-anchor="end" fill="#c81414" stroke="#c81414" stroke-width="0.12">5</text>
<path d="M222.8 327.1L234 327.1" stroke="#c81414" stroke-width="1.5"/>
<text transform="translate(224.3 332.9) scale(0.85 1)" font-size="6.4" fill="#c81414" stroke="#c81414" stroke-width="0.12">12</text>
<path d="M150.3 349.4L161.5 349.4" stroke="#c81414" stroke-width="1.5"/>
<text transform="translate(160.3 355.2) scale(0.85 1)" font-size="6.4" text-anchor="end" fill="#c81414" stroke="#c81414" stroke-width="0.12">6</text>
<path d="M222.8 349.4L234 349.4" stroke="#c81414" stroke-width="1.5"/>
<text transform="translate(224.3 355.2) scale(0.85 1)" font-size="6.4" fill="#c81414" stroke="#c81414" stroke-width="0.12">11</text>
<path d="M150.3 371.7L161.5 371.7" stroke="#c81414" stroke-width="1.5"/>
<text transform="translate(160.3 377.5) scale(0.85 1)" font-size="6.4" text-anchor="end" fill="#c81414" stroke="#c81414" stroke-width="0.12">7</text>
<path d="M222.8 371.7L234 371.7" stroke="#c81414" stroke-width="1.5"/>
<text transform="translate(224.3 377.5) scale(0.85 1)" font-size="6.4" fill="#c81414" stroke="#c81414" stroke-width="0.12">10</text>
<path d="M150.3 394L161.5 394" stroke="#c81414" stroke-width="1.5"/>
<text transform="translate(160.3 399.8) scale(0.85 1)" font-size="6.4" text-anchor="end" fill="#c81414" stroke="#c81414" stroke-width="0.12">8</text>
<path d="M222.8 394L234 394" stroke="#c81414" stroke-width="1.5"/>
<text transform="translate(224.3 399.8) scale(0.85 1)" font-size="6.4" fill="#c81414" stroke="#c81414" stroke-width="0.12">9</text>
<text transform="translate(163.7 397.5) scale(0.8 1)" font-size="10.3">GND</text>
<text transform="translate(161.5 224) scale(0.78 1)" font-size="12.7">IC8</text>
<text transform="translate(171.7 413.2) scale(0.78 1)" font-size="12.7">ULN2003</text>
<path d="M133.9 237.9L144.2 237.9" stroke="#c81414" stroke-width="1.5"/>
<path d="M144.2 237.9L150.3 237.9" stroke="#1ecb1e" stroke-width="1.5" fill="none"/>
<path d="M71.7 232.2L128.7 232.2L133.9 237.9L128.7 243.6L71.7 243.6Z" stroke="#111" stroke-width="1.5" fill="#fff"/>
<text transform="translate(75.7 240.3)" font-size="6.55" fill="#111" stroke="#111" stroke-width="0.08">RPI_PTT_RPTER</text>
<path d="M133.9 260.2L144.2 260.2" stroke="#c81414" stroke-width="1.5"/>
<path d="M144.2 260.2L150.3 260.2" stroke="#1ecb1e" stroke-width="1.5" fill="none"/>
<path d="M71.7 254.5L128.7 254.5L133.9 260.2L128.7 265.9L71.7 265.9Z" stroke="#111" stroke-width="1.5" fill="#fff"/>
<text transform="translate(75.7 262.6)" font-size="6.55" fill="#111" stroke="#111" stroke-width="0.08">RPI_PTT_LINK</text>
<path d="M133.9 282.5L144.2 282.5" stroke="#c81414" stroke-width="1.5"/>
<path d="M144.2 282.5L150.3 282.5" stroke="#1ecb1e" stroke-width="1.5" fill="none"/>
<path d="M71.7 276.8L128.7 276.8L133.9 282.5L128.7 288.2L71.7 288.2Z" stroke="#111" stroke-width="1.5" fill="#fff"/>
<text transform="translate(75.7 284.9)" font-size="6.55" fill="#111" stroke="#111" stroke-width="0.08">SQL_RPTER</text>
<path d="M133.9 304.8L144.2 304.8" stroke="#c81414" stroke-width="1.5"/>
<path d="M144.2 304.8L150.3 304.8" stroke="#1ecb1e" stroke-width="1.5" fill="none"/>
<path d="M71.7 299.1L128.7 299.1L133.9 304.8L128.7 310.5L71.7 310.5Z" stroke="#111" stroke-width="1.5" fill="#fff"/>
<text transform="translate(75.7 307.2)" font-size="6.55" fill="#111" stroke="#111" stroke-width="0.08">SQL_LINK</text>
<path d="M144.5 394L150.3 394" stroke="#1ecb1e" stroke-width="1.5" fill="none"/>
<path d="M144.5 394L144.5 405.5" stroke="#c81414" stroke-width="1.5"/>
<path d="M136.4 406.2L152.9 406.2" stroke="#000" stroke-width="2.8"/>
<path d="M234 237.9L349.6 237.9" stroke="#1ecb1e" stroke-width="1.5" fill="none"/>
<circle cx="236.5" cy="237.9" r="2.3" fill="#1ecb1e"/>
<path d="M234 260.2L349.6 260.2L349.6 249.2" stroke="#1ecb1e" stroke-width="1.5" fill="none"/>
<circle cx="243.5" cy="260.2" r="2.3" fill="#1ecb1e"/>
<path d="M234 282.5L250.2 282.5" stroke="#1ecb1e" stroke-width="1.5" fill="none"/>
<circle cx="250.2" cy="282.5" r="2.3" fill="#1ecb1e"/>
<path d="M234 304.8L244.8 304.8L244.8 315.9L349.6 315.9" stroke="#1ecb1e" stroke-width="1.5" fill="none"/>
<circle cx="286.7" cy="315.9" r="2.3" fill="#1ecb1e"/>
<path d="M327.1 155L327.1 338.1L349.6 338.1" stroke="#1ecb1e" stroke-width="1.5" fill="none"/>
<path d="M359 155L359 165.8L334.1 165.8L334.1 282.5L349.6 282.5" stroke="#1ecb1e" stroke-width="1.5" fill="none"/>
<path d="M391.1 155L391.1 176.6L342.4 176.6L342.4 271.4L349.6 271.4" stroke="#1ecb1e" stroke-width="1.5" fill="none"/>
<path d="M423.7 155L423.7 186L349.6 186L349.6 215.8" stroke="#1ecb1e" stroke-width="1.5" fill="none"/>
<rect x="360.4" y="204.4" width="55.9" height="145" stroke="#111" stroke-width="1.3" fill="#fff"/>
<path d="M360.4 215.8L377.3 215.8L377.3 238L360.4 238" stroke="#111" stroke-width="1.3" fill="none"/>
<path d="M371.4 220.9L383.2 220.9L377.3 232.3Z" stroke="#111" stroke-width="1.2" fill="#fff"/>
<path d="M371.2 232.3L383.4 232.3" stroke="#111" stroke-width="1.3"/>
<path d="M377.3 215.8L377.3 220.9" stroke="#111" stroke-width="1.3"/>
<path d="M385.4 224.1L391.2 224.1" stroke="#111" stroke-width="1.2"/>
<path d="M396.2 224.1L391.2 226.4L391.2 221.8Z" stroke="#111" stroke-width="0.3" fill="#111"/>
<path d="M385.4 229.6L391.2 229.6" stroke="#111" stroke-width="1.2"/>
<path d="M396.2 229.6L391.2 231.9L391.2 227.3Z" stroke="#111" stroke-width="0.3" fill="#111"/>
<path d="M399.7 218.2L399.7 235.8" stroke="#111" stroke-width="1.5"/>
<path d="M399.7 222.9L407.9 215.8L416.3 215.8" stroke="#111" stroke-width="1.3" fill="none"/>
<path d="M399.7 229.5L407.9 238L416.3 238" stroke="#111" stroke-width="1.3" fill="none"/>
<path d="M401.7 221.2L403.6 219.5" stroke="#111" stroke-width="1.2"/>
<path d="M407.1 216.5L405 221.1L402.3 217.9Z" stroke="#111" stroke-width="0.3" fill="#111"/>
<path d="M360.4 249.2L377.3 249.2L377.3 271.4L360.4 271.4" stroke="#111" stroke-width="1.3" fill="none"/>
<path d="M371.4 266L383.2 266L377.3 254.7Z" stroke="#111" stroke-width="1.2" fill="#fff"/>
<path d="M371.2 254.7L383.4 254.7" stroke="#111" stroke-width="1.3"/>
<path d="M377.3 266L377.3 271.4" stroke="#111" stroke-width="1.3"/>
<path d="M385.4 257.5L391.2 257.5" stroke="#111" stroke-width="1.2"/>
<path d="M396.2 257.5L391.2 259.8L391.2 255.2Z" stroke="#111" stroke-width="0.3" fill="#111"/>
<path d="M385.4 263L391.2 263" stroke="#111" stroke-width="1.2"/>
<path d="M396.2 263L391.2 265.3L391.2 260.7Z" stroke="#111" stroke-width="0.3" fill="#111"/>
<path d="M399.7 251.6L399.7 269.2" stroke="#111" stroke-width="1.5"/>
<path d="M399.7 256.3L407.9 249.2L416.3 249.2" stroke="#111" stroke-width="1.3" fill="none"/>
<path d="M399.7 262.9L407.9 271.4L416.3 271.4" stroke="#111" stroke-width="1.3" fill="none"/>
<path d="M401.7 266L403.6 267.7" stroke="#111" stroke-width="1.2"/>
<path d="M407.1 270.7L402.3 269.3L405 266.1Z" stroke="#111" stroke-width="0.3" fill="#111"/>
<path d="M360.4 282.5L377.3 282.5L377.3 304.7L360.4 304.7" stroke="#111" stroke-width="1.3" fill="none"/>
<path d="M371.4 287.6L383.2 287.6L377.3 299Z" stroke="#111" stroke-width="1.2" fill="#fff"/>
<path d="M371.2 299L383.4 299" stroke="#111" stroke-width="1.3"/>
<path d="M377.3 282.5L377.3 287.6" stroke="#111" stroke-width="1.3"/>
<path d="M385.4 290.8L391.2 290.8" stroke="#111" stroke-width="1.2"/>
<path d="M396.2 290.8L391.2 293.1L391.2 288.5Z" stroke="#111" stroke-width="0.3" fill="#111"/>
<path d="M385.4 296.3L391.2 296.3" stroke="#111" stroke-width="1.2"/>
<path d="M396.2 296.3L391.2 298.6L391.2 294Z" stroke="#111" stroke-width="0.3" fill="#111"/>
<path d="M399.7 284.9L399.7 302.5" stroke="#111" stroke-width="1.5"/>
<path d="M399.7 289.6L407.9 282.5L416.3 282.5" stroke="#111" stroke-width="1.3" fill="none"/>
<path d="M399.7 296.2L407.9 304.7L416.3 304.7" stroke="#111" stroke-width="1.3" fill="none"/>
<path d="M401.7 287.9L403.6 286.2" stroke="#111" stroke-width="1.2"/>
<path d="M407.1 283.2L405 287.8L402.3 284.6Z" stroke="#111" stroke-width="0.3" fill="#111"/>
<path d="M360.4 315.9L377.3 315.9L377.3 338.1L360.4 338.1" stroke="#111" stroke-width="1.3" fill="none"/>
<path d="M371.4 332.7L383.2 332.7L377.3 321.4Z" stroke="#111" stroke-width="1.2" fill="#fff"/>
<path d="M371.2 321.4L383.4 321.4" stroke="#111" stroke-width="1.3"/>
<path d="M377.3 332.7L377.3 338.1" stroke="#111" stroke-width="1.3"/>
<path d="M385.4 324.2L391.2 324.2" stroke="#111" stroke-width="1.2"/>
<path d="M396.2 324.2L391.2 326.5L391.2 321.9Z" stroke="#111" stroke-width="0.3" fill="#111"/>
<path d="M385.4 329.7L391.2 329.7" stroke="#111" stroke-width="1.2"/>
<path d="M396.2 329.7L391.2 332L391.2 327.4Z" stroke="#111" stroke-width="0.3" fill="#111"/>
<path d="M399.7 318.3L399.7 335.9" stroke="#111" stroke-width="1.5"/>
<path d="M399.7 323L407.9 315.9L416.3 315.9" stroke="#111" stroke-width="1.3" fill="none"/>
<path d="M399.7 329.6L407.9 338.1L416.3 338.1" stroke="#111" stroke-width="1.3" fill="none"/>
<path d="M401.7 332.7L403.6 334.4" stroke="#111" stroke-width="1.2"/>
<path d="M407.1 337.4L402.3 336L405 332.8Z" stroke="#111" stroke-width="0.3" fill="#111"/>
<path d="M349.6 215.8L360.4 215.8" stroke="#c81414" stroke-width="1.5"/>
<text transform="translate(358.9 221.7) scale(0.85 1)" font-size="6.4" text-anchor="end" fill="#c81414" stroke="#c81414" stroke-width="0.12">1</text>
<path d="M416.3 215.8L427.1 215.8" stroke="#c81414" stroke-width="1.5"/>
<text transform="translate(418.1 221.7) scale(0.85 1)" font-size="6.4" fill="#c81414" stroke="#c81414" stroke-width="0.12">16</text>
<path d="M349.6 238L360.4 238" stroke="#c81414" stroke-width="1.5"/>
<text transform="translate(358.9 243.9) scale(0.85 1)" font-size="6.4" text-anchor="end" fill="#c81414" stroke="#c81414" stroke-width="0.12">2</text>
<path d="M416.3 238L427.1 238" stroke="#c81414" stroke-width="1.5"/>
<text transform="translate(418.1 243.9) scale(0.85 1)" font-size="6.4" fill="#c81414" stroke="#c81414" stroke-width="0.12">15</text>
<path d="M349.6 249.2L360.4 249.2" stroke="#c81414" stroke-width="1.5"/>
<text transform="translate(358.9 255.1) scale(0.85 1)" font-size="6.4" text-anchor="end" fill="#c81414" stroke="#c81414" stroke-width="0.12">3</text>
<path d="M416.3 249.2L427.1 249.2" stroke="#c81414" stroke-width="1.5"/>
<text transform="translate(418.1 255.1) scale(0.85 1)" font-size="6.4" fill="#c81414" stroke="#c81414" stroke-width="0.12">14</text>
<path d="M349.6 271.4L360.4 271.4" stroke="#c81414" stroke-width="1.5"/>
<text transform="translate(358.9 277.3) scale(0.85 1)" font-size="6.4" text-anchor="end" fill="#c81414" stroke="#c81414" stroke-width="0.12">4</text>
<path d="M416.3 271.4L427.1 271.4" stroke="#c81414" stroke-width="1.5"/>
<text transform="translate(418.1 277.3) scale(0.85 1)" font-size="6.4" fill="#c81414" stroke="#c81414" stroke-width="0.12">13</text>
<path d="M349.6 282.5L360.4 282.5" stroke="#c81414" stroke-width="1.5"/>
<text transform="translate(358.9 288.4) scale(0.85 1)" font-size="6.4" text-anchor="end" fill="#c81414" stroke="#c81414" stroke-width="0.12">5</text>
<path d="M416.3 282.5L427.1 282.5" stroke="#c81414" stroke-width="1.5"/>
<text transform="translate(418.1 288.4) scale(0.85 1)" font-size="6.4" fill="#c81414" stroke="#c81414" stroke-width="0.12">12</text>
<path d="M349.6 304.7L360.4 304.7" stroke="#c81414" stroke-width="1.5"/>
<text transform="translate(358.9 310.6) scale(0.85 1)" font-size="6.4" text-anchor="end" fill="#c81414" stroke="#c81414" stroke-width="0.12">6</text>
<path d="M416.3 304.7L427.1 304.7" stroke="#c81414" stroke-width="1.5"/>
<text transform="translate(418.1 310.6) scale(0.85 1)" font-size="6.4" fill="#c81414" stroke="#c81414" stroke-width="0.12">11</text>
<path d="M349.6 315.9L360.4 315.9" stroke="#c81414" stroke-width="1.5"/>
<text transform="translate(358.9 321.8) scale(0.85 1)" font-size="6.4" text-anchor="end" fill="#c81414" stroke="#c81414" stroke-width="0.12">7</text>
<path d="M416.3 315.9L427.1 315.9" stroke="#c81414" stroke-width="1.5"/>
<text transform="translate(418.1 321.8) scale(0.85 1)" font-size="6.4" fill="#c81414" stroke="#c81414" stroke-width="0.12">10</text>
<path d="M349.6 338.1L360.4 338.1" stroke="#c81414" stroke-width="1.5"/>
<text transform="translate(358.9 344) scale(0.85 1)" font-size="6.4" text-anchor="end" fill="#c81414" stroke="#c81414" stroke-width="0.12">8</text>
<path d="M416.3 338.1L427.1 338.1" stroke="#c81414" stroke-width="1.5"/>
<text transform="translate(418.1 344) scale(0.85 1)" font-size="6.4" fill="#c81414" stroke="#c81414" stroke-width="0.12">9</text>
<text transform="translate(360.4 201.6) scale(0.78 1)" font-size="12.7">IC3</text>
<text transform="translate(367.9 360.4) scale(0.78 1)" font-size="12.7">CNY74-4</text>
<path d="M427.1 215.8L439.7 215.8L439.7 166.9L596.7 166.9" stroke="#1ecb1e" stroke-width="1.5" fill="none"/>
<path d="M596.7 166.9L607 166.9" stroke="#c81414" stroke-width="1.5"/>
<path d="M612.2 161.2L669.1 161.2L674.3 166.9L669.1 172.6L612.2 172.6L607 166.9Z" stroke="#111" stroke-width="1.5" fill="#fff"/>
<text transform="translate(640.6 169.3)" font-size="6.55" text-anchor="middle" fill="#111" stroke="#111" stroke-width="0.08">GND_RPTER</text>
<path d="M427.1 238L453.8 238L453.8 182.3L485 182.3" stroke="#1ecb1e" stroke-width="1.5" fill="none"/>
<path d="M453.8 195.8L597 195.8" stroke="#1ecb1e" stroke-width="1.5" fill="none"/>
<circle cx="453.8" cy="195.8" r="2.3" fill="#1ecb1e"/>
<path d="M597 195.8L607 195.8" stroke="#c81414" stroke-width="1.5"/>
<path d="M607 190.1L670.6 190.1L675.8 195.8L670.6 201.5L607 201.5Z" stroke="#111" stroke-width="1.5" fill="#fff"/>
<text transform="translate(640 198.2)" font-size="6.55" text-anchor="middle" fill="#111" stroke="#111" stroke-width="0.08">PTT_RPTER</text>
<path d="M427.1 249.2L462 249.2L462 212.4L597 212.4" stroke="#1ecb1e" stroke-width="1.5" fill="none"/>
<path d="M597 212.4L607 212.4" stroke="#c81414" stroke-width="1.5"/>
<path d="M607 206.7L670.6 206.7L675.8 212.4L670.6 218.1L607 218.1Z" stroke="#111" stroke-width="1.5" fill="#fff"/>
<text transform="translate(644 214.8)" font-size="6.55" text-anchor="middle" fill="#111" stroke="#111" stroke-width="0.08">PTT_LINK</text>
<path d="M462 232.5L486.1 232.5" stroke="#1ecb1e" stroke-width="1.5" fill="none"/>
<circle cx="462" cy="232.5" r="2.3" fill="#1ecb1e"/>
<path d="M427.1 271.4L470.8 271.4L470.8 248.8L598 248.8" stroke="#1ecb1e" stroke-width="1.5" fill="none"/>
<path d="M598 248.8L608.6 248.8" stroke="#c81414" stroke-width="1.5"/>
<path d="M613.8 243.1L671.6 243.1L676.8 248.8L671.6 254.5L613.8 254.5L608.6 248.8Z" stroke="#111" stroke-width="1.5" fill="#fff"/>
<text transform="translate(642.7 251.2)" font-size="6.55" text-anchor="middle" fill="#111" stroke="#111" stroke-width="0.08">GND_LINK</text>
<path d="M427.1 282.5L599.8 282.5" stroke="#1ecb1e" stroke-width="1.5" fill="none"/>
<path d="M599.8 282.5L610.2 282.5" stroke="#c81414" stroke-width="1.5"/>
<path d="M615.4 276.8L671.6 276.8L676.8 282.5L671.6 288.2L615.4 288.2L610.2 282.5Z" stroke="#111" stroke-width="1.5" fill="#fff"/>
<text transform="translate(643.5 284.9)" font-size="6.55" text-anchor="middle" fill="#111" stroke="#111" stroke-width="0.08">GND_RPTER</text>
<path d="M484.7 182.3L495.7 182.3" stroke="#c81414" stroke-width="1.5"/>
<path d="M512.6 182.3L523.2 182.3" stroke="#c81414" stroke-width="1.5"/>
<path d="M523.2 182.3L533 182.3" stroke="#1ecb1e" stroke-width="1.5" fill="none"/>
<path d="M512.6 173.9L495.7 182.3L512.6 190.7Z" stroke="#111" stroke-width="1.2" fill="#fff"/>
<path d="M495.7 182.3L512.6 182.3" stroke="#111" stroke-width="1.2"/>
<path d="M490.4 173.5L495.7 173.5L495.7 190.5L501.7 190.5" stroke="#111" stroke-width="1.4" fill="none"/>
<text transform="translate(494.2 188.6) scale(0.85 1)" font-size="6.4" text-anchor="end" fill="#c81414" stroke="#c81414" stroke-width="0.12">2</text>
<text transform="translate(514.4 188.6) scale(0.85 1)" font-size="6.4" fill="#c81414" stroke="#c81414" stroke-width="0.12">1</text>
<text transform="translate(466.7 180.9) scale(0.78 1)" font-size="12.3">D7</text>
<text transform="translate(481.5 176.9) scale(0.8 1)" font-size="9.4">K</text>
<text transform="translate(521.8 176.9) scale(0.8 1)" font-size="9.4">A</text>
<text transform="translate(537 186.9) scale(0.78 1)" font-size="12.7">10BQ015</text>
<path d="M486.1 232.5L497.1 232.5" stroke="#c81414" stroke-width="1.5"/>
<path d="M514 232.5L524.6 232.5" stroke="#c81414" stroke-width="1.5"/>
<path d="M524.6 232.5L533 232.5" stroke="#1ecb1e" stroke-width="1.5" fill="none"/>
<path d="M514 224.1L497.1 232.5L514 240.9Z" stroke="#111" stroke-width="1.2" fill="#fff"/>
<path d="M497.1 232.5L514 232.5" stroke="#111" stroke-width="1.2"/>
<path d="M491.8 223.7L497.1 223.7L497.1 240.7L503.1 240.7" stroke="#111" stroke-width="1.4" fill="none"/>
<text transform="translate(495.6 238.8) scale(0.85 1)" font-size="6.4" text-anchor="end" fill="#c81414" stroke="#c81414" stroke-width="0.12">2</text>
<text transform="translate(515.8 238.8) scale(0.85 1)" font-size="6.4" fill="#c81414" stroke="#c81414" stroke-width="0.12">1</text>
<text transform="translate(466.7 231.1) scale(0.78 1)" font-size="12.3">D8</text>
<text transform="translate(482.9 227.1) scale(0.8 1)" font-size="9.4">K</text>
<text transform="translate(523.2 227.1) scale(0.8 1)" font-size="9.4">A</text>
<text transform="translate(537 237.1) scale(0.78 1)" font-size="12.7">10BQ015</text>
<path d="M533 182.3L533 166.9" stroke="#1ecb1e" stroke-width="1.5" fill="none"/>
<circle cx="533" cy="166.9" r="2.3" fill="#1ecb1e"/>
<path d="M533 232.5L533 248.8" stroke="#1ecb1e" stroke-width="1.5" fill="none"/>
<circle cx="533" cy="248.8" r="2.3" fill="#1ecb1e"/>
<path d="M427.1 304.7L524.5 304.7" stroke="#1ecb1e" stroke-width="1.5" fill="none"/>
<circle cx="463.3" cy="304.7" r="2.3" fill="#1ecb1e"/>
<path d="M524.5 304.7L534.9 304.7" stroke="#c81414" stroke-width="1.5"/>
<path d="M557.5 304.7L567.8 304.7" stroke="#c81414" stroke-width="1.5"/>
<rect x="534.9" y="299" width="22.6" height="11.4" stroke="#111" stroke-width="1.2" fill="#fff"/>
<text transform="translate(533.9 310.9) scale(0.85 1)" font-size="6.4" text-anchor="end" fill="#c81414" stroke="#c81414" stroke-width="0.12">2</text>
<text transform="translate(559 310.9) scale(0.85 1)" font-size="6.4" fill="#c81414" stroke="#c81414" stroke-width="0.12">1</text>
<path d="M567.8 304.7L599.8 304.7" stroke="#1ecb1e" stroke-width="1.5" fill="none"/>
<path d="M599.8 304.7L610.8 304.7" stroke="#c81414" stroke-width="1.5"/>
<path d="M610.8 299L671.6 299L676.8 304.7L671.6 310.4L610.8 310.4Z" stroke="#111" stroke-width="1.5" fill="#fff"/>
<text transform="translate(641.5 307.1)" font-size="6.55" text-anchor="middle" fill="#111" stroke="#111" stroke-width="0.08">RPI_SQL1</text>
<text transform="translate(526 296) scale(0.78 1)" font-size="12.7">R9</text>
<text transform="translate(549.5 296) scale(0.78 1)" font-size="12.7">1K</text>
<path d="M427.1 315.9L501 315.9L501 319.9L524.5 319.9" stroke="#1ecb1e" stroke-width="1.5" fill="none"/>
<circle cx="501" cy="319.9" r="2.3" fill="#1ecb1e"/>
<path d="M524.5 319.9L534.9 319.9" stroke="#c81414" stroke-width="1.5"/>
<path d="M557.5 319.9L567.8 319.9" stroke="#c81414" stroke-width="1.5"/>
<rect x="534.9" y="314.2" width="22.6" height="11.4" stroke="#111" stroke-width="1.2" fill="#fff"/>
<text transform="translate(533.9 326.1) scale(0.85 1)" font-size="6.4" text-anchor="end" fill="#c81414" stroke="#c81414" stroke-width="0.12">2</text>
<text transform="translate(559 326.1) scale(0.85 1)" font-size="6.4" fill="#c81414" stroke="#c81414" stroke-width="0.12">1</text>
<path d="M567.8 319.9L599.8 319.9" stroke="#1ecb1e" stroke-width="1.5" fill="none"/>
<path d="M599.8 319.9L610.8 319.9" stroke="#c81414" stroke-width="1.5"/>
<path d="M610.8 314.7L671.6 314.7L676.8 320.4L671.6 326.1L610.8 326.1Z" stroke="#111" stroke-width="1.5" fill="#fff"/>
<text transform="translate(643 322.8)" font-size="6.55" text-anchor="middle" fill="#111" stroke="#111" stroke-width="0.08">RPI_SQL2</text>
<text transform="translate(526 337.5) scale(0.78 1)" font-size="12.7">R11</text>
<text transform="translate(549.5 337.5) scale(0.78 1)" font-size="12.7">1K</text>
<path d="M463.3 304.7L463.3 327.3" stroke="#1ecb1e" stroke-width="1.5" fill="none"/>
<path d="M501 319.9L501 327.3" stroke="#1ecb1e" stroke-width="1.5" fill="none"/>
<path d="M463.3 327.3L463.3 338.8" stroke="#c81414" stroke-width="1.5"/>
<path d="M463.3 361L463.3 371.7" stroke="#c81414" stroke-width="1.5"/>
<rect x="457.6" y="338.8" width="11.4" height="22.2" stroke="#111" stroke-width="1.2" fill="#fff"/>
<text transform="translate(464.8 336.6) scale(0.85 1)" font-size="6.4" fill="#c81414" stroke="#c81414" stroke-width="0.12">2</text>
<text transform="translate(464.8 367) scale(0.85 1)" font-size="6.4" fill="#c81414" stroke="#c81414" stroke-width="0.12">1</text>
<text transform="translate(455.4 357.8) rotate(-90) scale(0.78 1)" font-size="12.7">R10</text>
<text transform="translate(479 358.2) rotate(-90) scale(0.78 1)" font-size="12.7">10K</text>
<path d="M501 327.3L501 338.8" stroke="#c81414" stroke-width="1.5"/>
<path d="M501 361L501 371.7" stroke="#c81414" stroke-width="1.5"/>
<rect x="495.3" y="338.8" width="11.4" height="22.2" stroke="#111" stroke-width="1.2" fill="#fff"/>
<text transform="translate(502.5 336.6) scale(0.85 1)" font-size="6.4" fill="#c81414" stroke="#c81414" stroke-width="0.12">2</text>
<text transform="translate(502.5 367) scale(0.85 1)" font-size="6.4" fill="#c81414" stroke="#c81414" stroke-width="0.12">1</text>
<text transform="translate(493.1 357.8) rotate(-90) scale(0.78 1)" font-size="12.7">R12</text>
<text transform="translate(516.7 358.2) rotate(-90) scale(0.78 1)" font-size="12.7">10K</text>
<path d="M463.3 371.7L463.3 377L598.3 377L598.3 364.4" stroke="#1ecb1e" stroke-width="1.5" fill="none"/>
<circle cx="501" cy="377" r="2.3" fill="#1ecb1e"/>
<path d="M501 371.7L501 377" stroke="#1ecb1e" stroke-width="1.5" fill="none"/>
<path d="M598.3 353.6L598.3 364.4" stroke="#c81414" stroke-width="1.5"/>
<circle cx="598.3" cy="348" r="5.6" fill="#fff" stroke="#111" stroke-width="1.2"/>
<path d="M595.1 348L601.5 348" stroke="#111" stroke-width="1.3"/>
<path d="M598.3 344.8L598.3 351.2" stroke="#111" stroke-width="1.3"/>
<text transform="translate(600.3 339.5) scale(0.8 1)" font-size="10" text-anchor="middle" fill="#222">+3,3V</text>
<path d="M427.1 338.1L441.3 338.1L441.3 385.4L599.8 385.4" stroke="#1ecb1e" stroke-width="1.5" fill="none"/>
<path d="M599.8 385.4L610.2 385.4" stroke="#c81414" stroke-width="1.5"/>
<path d="M615.4 379.7L674.8 379.7L680 385.4L674.8 391.1L615.4 391.1L610.2 385.4Z" stroke="#111" stroke-width="1.5" fill="#fff"/>
<text transform="translate(645.1 387.8)" font-size="6.55" text-anchor="middle" fill="#111" stroke="#111" stroke-width="0.08">GND_LINK</text>
<text x="733" y="70.8" font-size="26.2" textLength="176.4" lengthAdjust="spacingAndGlyphs">CONNECTORS</text>
<path d="M732.5 73.6L909.9 73.6" stroke="#000" stroke-width="1.3"/>
<text x="861.7" y="96.6" font-size="14.2" font-weight="bold" font-style="italic" textLength="60.6" lengthAdjust="spacingAndGlyphs">TX RPTER</text>
<text x="1057.9" y="96.6" font-size="14.2" font-weight="bold" font-style="italic" textLength="62.2" lengthAdjust="spacingAndGlyphs">RX RPTER</text>
<text x="1297.2" y="96.6" font-size="14.2" font-weight="bold" font-style="italic" textLength="28.2" lengthAdjust="spacingAndGlyphs">LINK</text>
<text x="1472.7" y="95" font-size="14.2" font-weight="bold" font-style="italic" textLength="19.8" lengthAdjust="spacingAndGlyphs">I2C</text>
<text transform="translate(1493 99.8) scale(0.85 1)" font-size="5.9" text-anchor="end" fill="#4a4aff" font-style="italic">(Optional)</text>
<text x="1679.4" y="93.5" font-size="14.2" font-weight="bold" font-style="italic" textLength="38.5" lengthAdjust="spacingAndGlyphs">1WIRE</text>
<text transform="translate(1718.5 98.6) scale(0.85 1)" font-size="5.9" text-anchor="end" fill="#4a4aff" font-style="italic">(Optional)</text>
<path d="M836.6 154.3L882.1 154.3" stroke="#1ecb1e" stroke-width="1.5" fill="none"/>
<path d="M836.6 165.5L882.1 165.5" stroke="#1ecb1e" stroke-width="1.5" fill="none"/>
<path d="M836.6 176.6L882.1 176.6" stroke="#1ecb1e" stroke-width="1.5" fill="none"/>
<path d="M836.6 187.8L882.1 187.8" stroke="#1ecb1e" stroke-width="1.5" fill="none"/>
<path d="M836.6 198.9L882.1 198.9" stroke="#1ecb1e" stroke-width="1.5" fill="none"/>
<path d="M836.6 210.1L882.1 210.1" stroke="#1ecb1e" stroke-width="1.5" fill="none"/>
<path d="M828.1 112.6L870.5 112.6L870.5 154.3" stroke="#1ecb1e" stroke-width="1.5" fill="none"/>
<circle cx="870.5" cy="154.3" r="2.3" fill="#1ecb1e"/>
<path d="M828.1 127.6L856.4 127.6L856.4 165.5" stroke="#1ecb1e" stroke-width="1.5" fill="none"/>
<circle cx="856.4" cy="165.5" r="2.3" fill="#1ecb1e"/>
<path d="M818.4 112.6L828.1 112.6" stroke="#c81414" stroke-width="1.5"/>
<path d="M818.4 127.6L828.1 127.6" stroke="#c81414" stroke-width="1.5"/>
<path d="M744.6 106.9L813.2 106.9L818.4 112.6L813.2 118.3L744.6 118.3Z" stroke="#111" stroke-width="1.5" fill="#fff"/>
<text transform="translate(749.6 115)" font-size="6.55" fill="#111" stroke="#111" stroke-width="0.08">PTT_RPTER</text>
<path d="M744.6 121.9L813.2 121.9L818.4 127.6L813.2 133.3L744.6 133.3Z" stroke="#111" stroke-width="1.5" fill="#fff"/>
<text transform="translate(747 130)" font-size="6.55" fill="#111" stroke="#111" stroke-width="0.08">AUDIO_TX_RPTER</text>
<path d="M826.2 154.3L836.6 154.3" stroke="#c81414" stroke-width="1.5"/>
<text transform="translate(827.8 160.2) scale(0.85 1)" font-size="6.4" fill="#c81414" stroke="#c81414" stroke-width="0.12">1</text>
<path d="M826.2 165.5L836.6 165.5" stroke="#c81414" stroke-width="1.5"/>
<text transform="translate(827.8 171.4) scale(0.85 1)" font-size="6.4" fill="#c81414" stroke="#c81414" stroke-width="0.12">2</text>
<path d="M826.2 176.6L836.6 176.6" stroke="#c81414" stroke-width="1.5"/>
<text transform="translate(827.8 182.5) scale(0.85 1)" font-size="6.4" fill="#c81414" stroke="#c81414" stroke-width="0.12">3</text>
<path d="M826.2 187.8L836.6 187.8" stroke="#c81414" stroke-width="1.5"/>
<text transform="translate(827.8 193.7) scale(0.85 1)" font-size="6.4" fill="#c81414" stroke="#c81414" stroke-width="0.12">4</text>
<path d="M826.2 198.9L836.6 198.9" stroke="#c81414" stroke-width="1.5"/>
<text transform="translate(827.8 204.8) scale(0.85 1)" font-size="6.4" fill="#c81414" stroke="#c81414" stroke-width="0.12">5</text>
<path d="M826.2 210.1L836.6 210.1" stroke="#c81414" stroke-width="1.5"/>
<text transform="translate(827.8 216) scale(0.85 1)" font-size="6.4" fill="#c81414" stroke="#c81414" stroke-width="0.12">6</text>
<rect x="814.6" y="148.7" width="11.6" height="66.5" stroke="#111" stroke-width="1.5" fill="#fff"/>
<path d="M882.1 154.3L892.5 154.3" stroke="#c81414" stroke-width="1.5"/>
<text transform="translate(891.1 160.2) scale(0.85 1)" font-size="6.4" text-anchor="end" fill="#c81414" stroke="#c81414" stroke-width="0.12">1</text>
<path d="M882.1 165.5L892.5 165.5" stroke="#c81414" stroke-width="1.5"/>
<text transform="translate(891.1 171.4) scale(0.85 1)" font-size="6.4" text-anchor="end" fill="#c81414" stroke="#c81414" stroke-width="0.12">2</text>
<path d="M882.1 176.6L892.5 176.6" stroke="#c81414" stroke-width="1.5"/>
<text transform="translate(891.1 182.5) scale(0.85 1)" font-size="6.4" text-anchor="end" fill="#c81414" stroke="#c81414" stroke-width="0.12">3</text>
<path d="M882.1 187.8L892.5 187.8" stroke="#c81414" stroke-width="1.5"/>
<text transform="translate(891.1 193.7) scale(0.85 1)" font-size="6.4" text-anchor="end" fill="#c81414" stroke="#c81414" stroke-width="0.12">4</text>
<path d="M882.1 198.9L892.5 198.9" stroke="#c81414" stroke-width="1.5"/>
<text transform="translate(891.1 204.8) scale(0.85 1)" font-size="6.4" text-anchor="end" fill="#c81414" stroke="#c81414" stroke-width="0.12">5</text>
<path d="M882.1 210.1L892.5 210.1" stroke="#c81414" stroke-width="1.5"/>
<text transform="translate(891.1 216) scale(0.85 1)" font-size="6.4" text-anchor="end" fill="#c81414" stroke="#c81414" stroke-width="0.12">6</text>
<rect x="892.5" y="143" width="22.9" height="77.9" stroke="#111" stroke-width="1.5" fill="#fff"/>
<text transform="translate(814.6 145.5) scale(0.78 1)" font-size="12.7">J3</text>
<text transform="translate(892.5 140.5) scale(0.78 1)" font-size="12.7">J2</text>
<path d="M818.4 225.3L828.1 225.3" stroke="#c81414" stroke-width="1.5"/>
<path d="M828.1 225.3L859.2 225.3L859.2 210.1" stroke="#1ecb1e" stroke-width="1.5" fill="none"/>
<circle cx="859.2" cy="210.1" r="2.3" fill="#1ecb1e"/>
<path d="M749.8 219.6L813.2 219.6L818.4 225.3L813.2 231L749.8 231L744.6 225.3Z" stroke="#111" stroke-width="1.5" fill="#fff"/>
<text transform="translate(781.5 227.7)" font-size="6.55" text-anchor="middle" fill="#111" stroke="#111" stroke-width="0.08">GND_RPTER</text>
<path d="M1034.4 152.8L1079 152.8" stroke="#1ecb1e" stroke-width="1.5" fill="none"/>
<path d="M1034.4 163.9L1079 163.9" stroke="#1ecb1e" stroke-width="1.5" fill="none"/>
<path d="M1034.4 175L1079 175" stroke="#1ecb1e" stroke-width="1.5" fill="none"/>
<path d="M1034.4 186.2L1079 186.2" stroke="#1ecb1e" stroke-width="1.5" fill="none"/>
<path d="M1034.4 197.3L1079 197.3" stroke="#1ecb1e" stroke-width="1.5" fill="none"/>
<path d="M1034.4 208.4L1079 208.4" stroke="#1ecb1e" stroke-width="1.5" fill="none"/>
<path d="M1024 152.8L1034.4 152.8" stroke="#c81414" stroke-width="1.5"/>
<text transform="translate(1025.6 158.7) scale(0.85 1)" font-size="6.4" fill="#c81414" stroke="#c81414" stroke-width="0.12">1</text>
<path d="M1024 163.9L1034.4 163.9" stroke="#c81414" stroke-width="1.5"/>
<text transform="translate(1025.6 169.8) scale(0.85 1)" font-size="6.4" fill="#c81414" stroke="#c81414" stroke-width="0.12">2</text>
<path d="M1024 175L1034.4 175" stroke="#c81414" stroke-width="1.5"/>
<text transform="translate(1025.6 180.9) scale(0.85 1)" font-size="6.4" fill="#c81414" stroke="#c81414" stroke-width="0.12">3</text>
<path d="M1024 186.2L1034.4 186.2" stroke="#c81414" stroke-width="1.5"/>
<text transform="translate(1025.6 192.1) scale(0.85 1)" font-size="6.4" fill="#c81414" stroke="#c81414" stroke-width="0.12">4</text>
<path d="M1024 197.3L1034.4 197.3" stroke="#c81414" stroke-width="1.5"/>
<text transform="translate(1025.6 203.2) scale(0.85 1)" font-size="6.4" fill="#c81414" stroke="#c81414" stroke-width="0.12">5</text>
<path d="M1024 208.4L1034.4 208.4" stroke="#c81414" stroke-width="1.5"/>
<text transform="translate(1025.6 214.3) scale(0.85 1)" font-size="6.4" fill="#c81414" stroke="#c81414" stroke-width="0.12">6</text>
<rect x="1012.4" y="147.4" width="11.6" height="66.3" stroke="#111" stroke-width="1.5" fill="#fff"/>
<path d="M1078.9 152.8L1089.3 152.8" stroke="#c81414" stroke-width="1.5"/>
<text transform="translate(1087.9 158.7) scale(0.85 1)" font-size="6.4" text-anchor="end" fill="#c81414" stroke="#c81414" stroke-width="0.12">1</text>
<path d="M1078.9 163.9L1089.3 163.9" stroke="#c81414" stroke-width="1.5"/>
<text transform="translate(1087.9 169.8) scale(0.85 1)" font-size="6.4" text-anchor="end" fill="#c81414" stroke="#c81414" stroke-width="0.12">2</text>
<path d="M1078.9 175L1089.3 175" stroke="#c81414" stroke-width="1.5"/>
<text transform="translate(1087.9 180.9) scale(0.85 1)" font-size="6.4" text-anchor="end" fill="#c81414" stroke="#c81414" stroke-width="0.12">3</text>
<path d="M1078.9 186.2L1089.3 186.2" stroke="#c81414" stroke-width="1.5"/>
<text transform="translate(1087.9 192.1) scale(0.85 1)" font-size="6.4" text-anchor="end" fill="#c81414" stroke="#c81414" stroke-width="0.12">4</text>
<path d="M1078.9 197.3L1089.3 197.3" stroke="#c81414" stroke-width="1.5"/>
<text transform="translate(1087.9 203.2) scale(0.85 1)" font-size="6.4" text-anchor="end" fill="#c81414" stroke="#c81414" stroke-width="0.12">5</text>
<path d="M1078.9 208.4L1089.3 208.4" stroke="#c81414" stroke-width="1.5"/>
<text transform="translate(1087.9 214.3) scale(0.85 1)" font-size="6.4" text-anchor="end" fill="#c81414" stroke="#c81414" stroke-width="0.12">6</text>
<rect x="1089.3" y="141.5" width="22.6" height="78.5" stroke="#111" stroke-width="1.5" fill="#fff"/>
<text transform="translate(1013 143.7) scale(0.78 1)" font-size="12.7">J7</text>
<text transform="translate(1089.3 138.3) scale(0.78 1)" font-size="12.7">J6</text>
<path d="M1017.1 224.3L1027.5 224.3" stroke="#c81414" stroke-width="1.5"/>
<path d="M1027.5 224.3L1042.9 224.3L1042.9 208.4" stroke="#1ecb1e" stroke-width="1.5" fill="none"/>
<circle cx="1042.9" cy="208.4" r="2.3" fill="#1ecb1e"/>
<path d="M954.8 218.6L1011.9 218.6L1017.1 224.3L1011.9 230L954.8 230L949.6 224.3Z" stroke="#111" stroke-width="1.5" fill="#fff"/>
<text transform="translate(985.5 226.7)" font-size="6.55" text-anchor="middle" fill="#111" stroke="#111" stroke-width="0.08">GND_RPTER</text>
<path d="M1017.1 239.1L1027.5 239.1" stroke="#c81414" stroke-width="1.5"/>
<path d="M1027.5 239.1L1052.9 239.1L1052.9 186.2" stroke="#1ecb1e" stroke-width="1.5" fill="none"/>
<circle cx="1052.9" cy="186.2" r="2.3" fill="#1ecb1e"/>
<path d="M1017.1 233.4L954.8 233.4L949.6 239.1L954.8 244.8L1017.1 244.8Z" stroke="#111" stroke-width="1.5" fill="#fff"/>
<text transform="translate(1013.3 241.5)" font-size="6.55" text-anchor="end" fill="#111" stroke="#111" stroke-width="0.08">AUDIO_RX_RPTER</text>
<path d="M1017.1 254.8L1027.5 254.8" stroke="#c81414" stroke-width="1.5"/>
<path d="M1027.5 254.8L1061.1 254.8L1061.1 197.3" stroke="#1ecb1e" stroke-width="1.5" fill="none"/>
<circle cx="1061.1" cy="197.3" r="2.3" fill="#1ecb1e"/>
<path d="M1017.1 249.1L954.8 249.1L949.6 254.8L954.8 260.5L1017.1 260.5Z" stroke="#111" stroke-width="1.5" fill="#fff"/>
<text transform="translate(1013.3 257.2)" font-size="6.55" text-anchor="end" fill="#111" stroke="#111" stroke-width="0.08">SQL_RPTER</text>
<path d="M1017.1 270.2L1027.5 270.2" stroke="#c81414" stroke-width="1.5"/>
<path d="M1027.5 270.2L1072.7 270.2L1072.7 175" stroke="#1ecb1e" stroke-width="1.5" fill="none"/>
<circle cx="1072.7" cy="175" r="2.3" fill="#1ecb1e"/>
<path d="M1017.1 264.5L954.8 264.5L949.6 270.2L954.8 275.9L1017.1 275.9Z" stroke="#111" stroke-width="1.5" fill="#fff"/>
<text transform="translate(1013.3 272.6)" font-size="6.55" text-anchor="end" fill="#111" stroke="#111" stroke-width="0.08">SMETER_RPTER</text>
<text transform="translate(863.3 300.6) scale(0.78 1)" font-size="12.7">GPIO</text>
<text transform="translate(890.3 308) scale(0.85 1)" font-size="5.9" text-anchor="end" fill="#4a4aff" font-style="italic">(Optional)</text>
<text transform="translate(904 312.6) scale(0.78 1)" font-size="12.7">C24</text>
<path d="M862.6 321.4L872.7 321.4" stroke="#c81414" stroke-width="1.5"/>
<path d="M872.7 321.4L893.1 321.4" stroke="#1ecb1e" stroke-width="1.5" fill="none"/>
<path d="M925.4 321.4L940.2 321.4" stroke="#1ecb1e" stroke-width="1.5" fill="none"/>
<path d="M862.6 315.8L817.3 315.8L812.1 321.4L817.3 326.9L862.6 326.9Z" stroke="#111" stroke-width="1.5" fill="#fff"/>
<text transform="translate(855.4 323.8)" font-size="6.55" text-anchor="end" fill="#111" stroke="#111" stroke-width="0.08">GPIO06</text>
<path d="M862.6 332.5L872.7 332.5" stroke="#c81414" stroke-width="1.5"/>
<path d="M872.7 332.5L893.1 332.5" stroke="#1ecb1e" stroke-width="1.5" fill="none"/>
<path d="M925.4 332.5L940.2 332.5" stroke="#1ecb1e" stroke-width="1.5" fill="none"/>
<path d="M862.6 326.9L817.3 326.9L812.1 332.5L817.3 338.1L862.6 338.1Z" stroke="#111" stroke-width="1.5" fill="#fff"/>
<text transform="translate(855.4 334.9)" font-size="6.55" text-anchor="end" fill="#111" stroke="#111" stroke-width="0.08">GPIO07/CS-1</text>
<path d="M862.6 343.7L872.7 343.7" stroke="#c81414" stroke-width="1.5"/>
<path d="M872.7 343.7L893.1 343.7" stroke="#1ecb1e" stroke-width="1.5" fill="none"/>
<path d="M925.4 343.7L940.2 343.7" stroke="#1ecb1e" stroke-width="1.5" fill="none"/>
<path d="M862.6 338.1L817.3 338.1L812.1 343.7L817.3 349.2L862.6 349.2Z" stroke="#111" stroke-width="1.5" fill="#fff"/>
<text transform="translate(855.4 346.1)" font-size="6.55" text-anchor="end" fill="#111" stroke="#111" stroke-width="0.08">GPIO13</text>
<path d="M862.6 354.9L872.7 354.9" stroke="#c81414" stroke-width="1.5"/>
<path d="M872.7 354.9L893.1 354.9" stroke="#1ecb1e" stroke-width="1.5" fill="none"/>
<path d="M925.4 354.9L940.2 354.9" stroke="#1ecb1e" stroke-width="1.5" fill="none"/>
<path d="M862.6 349.3L817.3 349.3L812.1 354.9L817.3 360.4L862.6 360.4Z" stroke="#111" stroke-width="1.5" fill="#fff"/>
<text transform="translate(855.4 357.3)" font-size="6.55" text-anchor="end" fill="#111" stroke="#111" stroke-width="0.08">GPIO05</text>
<path d="M893.1 321.4L904.1 321.4" stroke="#c81414" stroke-width="1.5"/>
<text transform="translate(902.7 327.3) scale(0.85 1)" font-size="6.4" text-anchor="end" fill="#c81414" stroke="#c81414" stroke-width="0.12">1</text>
<path d="M893.1 332.5L904.1 332.5" stroke="#c81414" stroke-width="1.5"/>
<text transform="translate(902.7 338.4) scale(0.85 1)" font-size="6.4" text-anchor="end" fill="#c81414" stroke="#c81414" stroke-width="0.12">3</text>
<path d="M893.1 343.7L904.1 343.7" stroke="#c81414" stroke-width="1.5"/>
<text transform="translate(902.7 349.6) scale(0.85 1)" font-size="6.4" text-anchor="end" fill="#c81414" stroke="#c81414" stroke-width="0.12">5</text>
<path d="M893.1 354.9L904.1 354.9" stroke="#c81414" stroke-width="1.5"/>
<text transform="translate(902.7 360.8) scale(0.85 1)" font-size="6.4" text-anchor="end" fill="#c81414" stroke="#c81414" stroke-width="0.12">7</text>
<rect x="904.1" y="315.7" width="11" height="44.6" stroke="#111" stroke-width="1.5" fill="#fff"/>
<path d="M915.1 321.4L925.4 321.4" stroke="#c81414" stroke-width="1.5"/>
<text transform="translate(916.8 327.3) scale(0.85 1)" font-size="6.4" fill="#c81414" stroke="#c81414" stroke-width="0.12">2</text>
<path d="M915.1 332.5L925.4 332.5" stroke="#c81414" stroke-width="1.5"/>
<text transform="translate(916.8 338.4) scale(0.85 1)" font-size="6.4" fill="#c81414" stroke="#c81414" stroke-width="0.12">4</text>
<path d="M915.1 343.7L925.4 343.7" stroke="#c81414" stroke-width="1.5"/>
<text transform="translate(916.8 349.6) scale(0.85 1)" font-size="6.4" fill="#c81414" stroke="#c81414" stroke-width="0.12">6</text>
<path d="M915.1 354.9L925.4 354.9" stroke="#c81414" stroke-width="1.5"/>
<text transform="translate(916.8 360.8) scale(0.85 1)" font-size="6.4" fill="#c81414" stroke="#c81414" stroke-width="0.12">8</text>
<path d="M940.2 321.4L940.2 371.6" stroke="#1ecb1e" stroke-width="1.5" fill="none"/>
<path d="M940.2 371.6L940.2 383.2" stroke="#c81414" stroke-width="1.5"/>
<path d="M932 384.3L948.5 384.3" stroke="#000" stroke-width="2.8"/>
<circle cx="940.2" cy="332.5" r="2.3" fill="#1ecb1e"/>
<circle cx="940.2" cy="343.7" r="2.3" fill="#1ecb1e"/>
<circle cx="940.2" cy="354.9" r="2.3" fill="#1ecb1e"/>
<text transform="translate(937.2 394.8) scale(0.85 1)" font-size="9.6" text-anchor="middle">GND</text>
<text x="1045.4" y="300.6" font-size="14.2" font-weight="bold" font-style="italic" textLength="41.4" lengthAdjust="spacingAndGlyphs">Ext SPI</text>
<text transform="translate(1087.3 306.4) scale(0.85 1)" font-size="5.9" text-anchor="end" fill="#4a4aff" font-style="italic">(Optional)</text>
<text transform="translate(1100.3 311.6) scale(0.78 1)" font-size="12.7">J23</text>
<path d="M1069.9 319.8L1079.9 319.8" stroke="#c81414" stroke-width="1.5"/>
<path d="M1079.9 319.8L1090.3 319.8" stroke="#1ecb1e" stroke-width="1.5" fill="none"/>
<path d="M1069.9 314.2L1024.5 314.2L1019.3 319.8L1024.5 325.4L1069.9 325.4Z" stroke="#111" stroke-width="1.5" fill="#fff"/>
<text transform="translate(1064.2 322.2)" font-size="6.55" text-anchor="end" fill="#111" stroke="#111" stroke-width="0.08">SCLK</text>
<path d="M1069.9 331.1L1079.9 331.1" stroke="#c81414" stroke-width="1.5"/>
<path d="M1079.9 331.1L1090.3 331.1" stroke="#1ecb1e" stroke-width="1.5" fill="none"/>
<path d="M1069.9 325.6L1024.5 325.6L1019.3 331.1L1024.5 336.7L1069.9 336.7Z" stroke="#111" stroke-width="1.5" fill="#fff"/>
<text transform="translate(1064.2 333.5)" font-size="6.55" text-anchor="end" fill="#111" stroke="#111" stroke-width="0.08">MISO</text>
<path d="M1069.9 342.4L1079.9 342.4" stroke="#c81414" stroke-width="1.5"/>
<path d="M1079.9 342.4L1090.3 342.4" stroke="#1ecb1e" stroke-width="1.5" fill="none"/>
<path d="M1069.9 336.8L1024.5 336.8L1019.3 342.4L1024.5 347.9L1069.9 347.9Z" stroke="#111" stroke-width="1.5" fill="#fff"/>
<text transform="translate(1064.2 344.8)" font-size="6.55" text-anchor="end" fill="#111" stroke="#111" stroke-width="0.08">MOSI</text>
<path d="M1069.9 353.5L1079.9 353.5" stroke="#c81414" stroke-width="1.5"/>
<path d="M1079.9 353.5L1090.3 353.5" stroke="#1ecb1e" stroke-width="1.5" fill="none"/>
<path d="M1069.9 347.9L1024.5 347.9L1019.3 353.5L1024.5 359.1L1069.9 359.1Z" stroke="#111" stroke-width="1.5" fill="#fff"/>
<text transform="translate(1064.2 355.9)" font-size="6.55" text-anchor="end" fill="#111" stroke="#111" stroke-width="0.08">CS-0</text>
<path d="M1090.3 319.8L1100.3 319.8" stroke="#c81414" stroke-width="1.5"/>
<text transform="translate(1098.9 325.7) scale(0.85 1)" font-size="6.4" text-anchor="end" fill="#c81414" stroke="#c81414" stroke-width="0.12">1</text>
<path d="M1090.3 331.1L1100.3 331.1" stroke="#c81414" stroke-width="1.5"/>
<text transform="translate(1098.9 337) scale(0.85 1)" font-size="6.4" text-anchor="end" fill="#c81414" stroke="#c81414" stroke-width="0.12">2</text>
<path d="M1090.3 342.4L1100.3 342.4" stroke="#c81414" stroke-width="1.5"/>
<text transform="translate(1098.9 348.3) scale(0.85 1)" font-size="6.4" text-anchor="end" fill="#c81414" stroke="#c81414" stroke-width="0.12">3</text>
<path d="M1090.3 353.5L1100.3 353.5" stroke="#c81414" stroke-width="1.5"/>
<text transform="translate(1098.9 359.4) scale(0.85 1)" font-size="6.4" text-anchor="end" fill="#c81414" stroke="#c81414" stroke-width="0.12">4</text>
<rect x="1100.3" y="314.8" width="11.3" height="44.2" stroke="#111" stroke-width="1.5" fill="#fff"/>
<path d="M1240.3 158.4L1297.2 158.4" stroke="#1ecb1e" stroke-width="1.5" fill="none"/>
<path d="M1240.3 169.6L1297.2 169.6" stroke="#1ecb1e" stroke-width="1.5" fill="none"/>
<path d="M1240.3 180.7L1297.2 180.7" stroke="#1ecb1e" stroke-width="1.5" fill="none"/>
<path d="M1240.3 191.9L1297.2 191.9" stroke="#1ecb1e" stroke-width="1.5" fill="none"/>
<path d="M1240.3 203L1297.2 203" stroke="#1ecb1e" stroke-width="1.5" fill="none"/>
<path d="M1240.3 214.2L1297.2 214.2" stroke="#1ecb1e" stroke-width="1.5" fill="none"/>
<path d="M1221.8 112.6L1231.9 112.6" stroke="#c81414" stroke-width="1.5"/>
<path d="M1221.8 128L1231.9 128" stroke="#c81414" stroke-width="1.5"/>
<path d="M1231.9 112.6L1266.1 112.6L1266.1 158.4" stroke="#1ecb1e" stroke-width="1.5" fill="none"/>
<circle cx="1266.1" cy="158.4" r="2.3" fill="#1ecb1e"/>
<path d="M1231.9 128L1253.2 128L1253.2 169.6" stroke="#1ecb1e" stroke-width="1.5" fill="none"/>
<circle cx="1253.2" cy="169.6" r="2.3" fill="#1ecb1e"/>
<path d="M1155.6 106.9L1216.6 106.9L1221.8 112.6L1216.6 118.3L1155.6 118.3Z" stroke="#111" stroke-width="1.5" fill="#fff"/>
<text transform="translate(1161.9 115)" font-size="6.55" fill="#111" stroke="#111" stroke-width="0.08">PTT_LINK</text>
<path d="M1155.6 122.3L1216.6 122.3L1221.8 128L1216.6 133.7L1155.6 133.7Z" stroke="#111" stroke-width="1.5" fill="#fff"/>
<text transform="translate(1161.9 130.4)" font-size="6.55" fill="#111" stroke="#111" stroke-width="0.08">AUDIO_TX_LINK</text>
<path d="M1230.3 158.4L1240.3 158.4" stroke="#c81414" stroke-width="1.5"/>
<text transform="translate(1231.9 164.3) scale(0.85 1)" font-size="6.4" fill="#c81414" stroke="#c81414" stroke-width="0.12">1</text>
<path d="M1230.3 169.6L1240.3 169.6" stroke="#c81414" stroke-width="1.5"/>
<text transform="translate(1231.9 175.5) scale(0.85 1)" font-size="6.4" fill="#c81414" stroke="#c81414" stroke-width="0.12">2</text>
<path d="M1230.3 180.7L1240.3 180.7" stroke="#c81414" stroke-width="1.5"/>
<text transform="translate(1231.9 186.6) scale(0.85 1)" font-size="6.4" fill="#c81414" stroke="#c81414" stroke-width="0.12">3</text>
<path d="M1230.3 191.9L1240.3 191.9" stroke="#c81414" stroke-width="1.5"/>
<text transform="translate(1231.9 197.8) scale(0.85 1)" font-size="6.4" fill="#c81414" stroke="#c81414" stroke-width="0.12">4</text>
<path d="M1230.3 203L1240.3 203" stroke="#c81414" stroke-width="1.5"/>
<text transform="translate(1231.9 208.9) scale(0.85 1)" font-size="6.4" fill="#c81414" stroke="#c81414" stroke-width="0.12">5</text>
<path d="M1230.3 214.2L1240.3 214.2" stroke="#c81414" stroke-width="1.5"/>
<text transform="translate(1231.9 220.1) scale(0.85 1)" font-size="6.4" fill="#c81414" stroke="#c81414" stroke-width="0.12">6</text>
<rect x="1218.7" y="153.1" width="11.6" height="66.9" stroke="#111" stroke-width="1.5" fill="#fff"/>
<path d="M1297.2 158.4L1307.8 158.4" stroke="#c81414" stroke-width="1.5"/>
<text transform="translate(1306.4 164.3) scale(0.85 1)" font-size="6.4" text-anchor="end" fill="#c81414" stroke="#c81414" stroke-width="0.12">1</text>
<path d="M1297.2 169.6L1307.8 169.6" stroke="#c81414" stroke-width="1.5"/>
<text transform="translate(1306.4 175.5) scale(0.85 1)" font-size="6.4" text-anchor="end" fill="#c81414" stroke="#c81414" stroke-width="0.12">2</text>
<path d="M1297.2 180.7L1307.8 180.7" stroke="#c81414" stroke-width="1.5"/>
<text transform="translate(1306.4 186.6) scale(0.85 1)" font-size="6.4" text-anchor="end" fill="#c81414" stroke="#c81414" stroke-width="0.12">3</text>
<path d="M1297.2 191.9L1307.8 191.9" stroke="#c81414" stroke-width="1.5"/>
<text transform="translate(1306.4 197.8) scale(0.85 1)" font-size="6.4" text-anchor="end" fill="#c81414" stroke="#c81414" stroke-width="0.12">4</text>
<path d="M1297.2 203L1307.8 203" stroke="#c81414" stroke-width="1.5"/>
<text transform="translate(1306.4 208.9) scale(0.85 1)" font-size="6.4" text-anchor="end" fill="#c81414" stroke="#c81414" stroke-width="0.12">5</text>
<path d="M1297.2 214.2L1307.8 214.2" stroke="#c81414" stroke-width="1.5"/>
<text transform="translate(1306.4 220.1) scale(0.85 1)" font-size="6.4" text-anchor="end" fill="#c81414" stroke="#c81414" stroke-width="0.12">6</text>
<rect x="1307.8" y="147.7" width="22.7" height="77.6" stroke="#111" stroke-width="1.5" fill="#fff"/>
<text transform="translate(1218.7 150.3) scale(0.78 1)" font-size="12.7">J11</text>
<text transform="translate(1307.8 144.6) scale(0.78 1)" font-size="12.7">J10</text>
<path d="M1223.4 228.1L1233.4 228.1" stroke="#c81414" stroke-width="1.5"/>
<path d="M1233.4 228.1L1253.2 228.1L1253.2 214.2" stroke="#1ecb1e" stroke-width="1.5" fill="none"/>
<circle cx="1253.2" cy="214.2" r="2.3" fill="#1ecb1e"/>
<path d="M1160.8 222.4L1218.2 222.4L1223.4 228.1L1218.2 233.8L1160.8 233.8L1155.6 228.1Z" stroke="#111" stroke-width="1.5" fill="#fff"/>
<text transform="translate(1194.5 230.5)" font-size="6.55" text-anchor="middle" fill="#111" stroke="#111" stroke-width="0.08">GND_LINK</text>
<path d="M1223.4 243.5L1233.4 243.5" stroke="#c81414" stroke-width="1.5"/>
<path d="M1233.4 243.5L1266.1 243.5L1266.1 191.9" stroke="#1ecb1e" stroke-width="1.5" fill="none"/>
<circle cx="1266.1" cy="191.9" r="2.3" fill="#1ecb1e"/>
<path d="M1223.4 237.8L1160.8 237.8L1155.6 243.5L1160.8 249.2L1223.4 249.2Z" stroke="#111" stroke-width="1.5" fill="#fff"/>
<text transform="translate(1217.7 245.9)" font-size="6.55" text-anchor="end" fill="#111" stroke="#111" stroke-width="0.08">AUDIO_RX_LINK</text>
<path d="M1223.4 258.9L1233.4 258.9" stroke="#c81414" stroke-width="1.5"/>
<path d="M1233.4 258.9L1278.6 258.9L1278.6 203" stroke="#1ecb1e" stroke-width="1.5" fill="none"/>
<circle cx="1278.6" cy="203" r="2.3" fill="#1ecb1e"/>
<path d="M1223.4 253.2L1160.8 253.2L1155.6 258.9L1160.8 264.6L1223.4 264.6Z" stroke="#111" stroke-width="1.5" fill="#fff"/>
<text transform="translate(1217.7 261.3)" font-size="6.55" text-anchor="end" fill="#111" stroke="#111" stroke-width="0.08">SQL_LINK</text>
<path d="M1223.4 274L1233.4 274" stroke="#c81414" stroke-width="1.5"/>
<path d="M1233.4 274L1291.2 274L1291.2 180.7" stroke="#1ecb1e" stroke-width="1.5" fill="none"/>
<circle cx="1291.2" cy="180.7" r="2.3" fill="#1ecb1e"/>
<path d="M1223.4 268.3L1160.8 268.3L1155.6 274L1160.8 279.7L1223.4 279.7Z" stroke="#111" stroke-width="1.5" fill="#fff"/>
<text transform="translate(1217.7 276.4)" font-size="6.55" text-anchor="end" fill="#111" stroke="#111" stroke-width="0.08">SMETER_LINK</text>
<rect x="1185.4" y="304.7" width="146.3" height="89.5" stroke="#111" stroke-width="1.5" fill="none" stroke-dasharray="2 1.3"/>
<text transform="translate(1198.3 327.7) scale(0.78 1)" font-size="12.7">For J3, J7, J11,</text>
<text transform="translate(1198.3 344) scale(0.78 1)" font-size="12.7">RJ12 connectors</text>
<rect x="1286.2" y="313.5" width="35.8" height="36.1" stroke="#9a9a9a" stroke-width="0.8" fill="#d2d2d2"/>
<path d="M1290 346.5L1290 324L1296 324L1296 320.5L1300.5 320.5L1300.5 318L1308 318L1308 320.5L1312.5 320.5L1312.5 324L1318.5 324L1318.5 346.5Z" stroke="#b4b4b4" stroke-width="0.7" fill="#dedede"/>
<path d="M1295.8 337.2L1295.8 346.2" stroke="#222" stroke-width="1.7"/>
<path d="M1299.1 337.2L1299.1 346.2" stroke="#222" stroke-width="1.7"/>
<path d="M1302.4 337.2L1302.4 346.2" stroke="#222" stroke-width="1.7"/>
<path d="M1305.7 337.2L1305.7 346.2" stroke="#222" stroke-width="1.7"/>
<path d="M1309 337.2L1309 346.2" stroke="#222" stroke-width="1.7"/>
<path d="M1312.3 337.2L1312.3 346.2" stroke="#222" stroke-width="1.7"/>
<text transform="translate(1304 334.6)" font-size="3.2" text-anchor="middle" fill="#555">6 5 4 3 2 1</text>
<text transform="translate(1286.2 357.7) scale(0.76 1)" font-size="7.3" font-weight="bold">1-PTT</text>
<text transform="translate(1286.2 364) scale(0.76 1)" font-size="7.3" font-weight="bold">2-RX AUDIO</text>
<text transform="translate(1286.2 370.3) scale(0.76 1)" font-size="7.3" font-weight="bold">3-TX AUDIO</text>
<text transform="translate(1286.2 376.6) scale(0.76 1)" font-size="7.3" font-weight="bold">4-SMETER</text>
<text transform="translate(1286.2 382.9) scale(0.76 1)" font-size="7.3" font-weight="bold">5-SQUELCH</text>
<text transform="translate(1286.2 389.2) scale(0.76 1)" font-size="7.3" font-weight="bold">6-GND</text>
<path d="M1378.8 107L1378.8 117.9" stroke="#c81414" stroke-width="1.5"/>
<path d="M1378.8 117.9L1378.8 203.6L1410.2 203.6" stroke="#1ecb1e" stroke-width="1.5" fill="none"/>
<circle cx="1378.8" cy="101.3" r="5.6" fill="#fff" stroke="#111" stroke-width="1.2"/>
<path d="M1375.6 101.3L1382 101.3" stroke="#111" stroke-width="1.3"/>
<path d="M1378.8 98.1L1378.8 104.5" stroke="#111" stroke-width="1.3"/>
<text transform="translate(1386.8 104.1) scale(0.8 1)" font-size="10" fill="#222">+3,3V</text>
<path d="M1378.8 161.2L1492.5 161.2" stroke="#1ecb1e" stroke-width="1.5" fill="none"/>
<circle cx="1378.8" cy="161.2" r="2.3" fill="#1ecb1e"/>
<circle cx="1378.8" cy="172.2" r="2.3" fill="#1ecb1e"/>
<path d="M1378.8 172.2L1410.2 172.2" stroke="#1ecb1e" stroke-width="1.5" fill="none"/>
<path d="M1453.2 172.2L1492.5 172.2" stroke="#1ecb1e" stroke-width="1.5" fill="none"/>
<path d="M1410.2 172.2L1420.4 172.2" stroke="#c81414" stroke-width="1.5"/>
<path d="M1443 172.2L1453.2 172.2" stroke="#c81414" stroke-width="1.5"/>
<rect x="1420.4" y="166.5" width="22.6" height="11.4" stroke="#111" stroke-width="1.2" fill="#fff"/>
<text transform="translate(1419.4 178.4) scale(0.85 1)" font-size="6.4" text-anchor="end" fill="#c81414" stroke="#c81414" stroke-width="0.12">2</text>
<text transform="translate(1444.5 178.4) scale(0.85 1)" font-size="6.4" fill="#c81414" stroke="#c81414" stroke-width="0.12">1</text>
<path d="M1410.2 203.6L1420.4 203.6" stroke="#c81414" stroke-width="1.5"/>
<path d="M1443 203.6L1453.2 203.6" stroke="#c81414" stroke-width="1.5"/>
<rect x="1420.4" y="197.9" width="22.6" height="11.4" stroke="#111" stroke-width="1.2" fill="#fff"/>
<text transform="translate(1419.4 209.8) scale(0.85 1)" font-size="6.4" text-anchor="end" fill="#c81414" stroke="#c81414" stroke-width="0.12">2</text>
<text transform="translate(1444.5 209.8) scale(0.85 1)" font-size="6.4" fill="#c81414" stroke="#c81414" stroke-width="0.12">1</text>
<text transform="translate(1408.6 188.6) scale(0.78 1)" font-size="12.7">R19</text>
<text transform="translate(1432.2 188.6) scale(0.78 1)" font-size="12.7">4,7K</text>
<text transform="translate(1408.6 220.9) scale(0.78 1)" font-size="12.7">R20</text>
<text transform="translate(1432.2 220.9) scale(0.78 1)" font-size="12.7">4,7K</text>
<path d="M1453.2 203.6L1459.5 203.6" stroke="#1ecb1e" stroke-width="1.5" fill="none"/>
<path d="M1444.7 112.6L1454.8 112.6" stroke="#c81414" stroke-width="1.5"/>
<path d="M1444.7 133L1454.8 133" stroke="#c81414" stroke-width="1.5"/>
<path d="M1454.8 112.6L1471.1 112.6L1471.1 220.9L1492.5 220.9" stroke="#1ecb1e" stroke-width="1.5" fill="none"/>
<circle cx="1471.1" cy="172.2" r="2.3" fill="#1ecb1e"/>
<path d="M1454.8 133L1459.5 133L1459.5 232.2L1492.5 232.2" stroke="#1ecb1e" stroke-width="1.5" fill="none"/>
<circle cx="1459.5" cy="183.5" r="2.3" fill="#1ecb1e"/>
<circle cx="1459.5" cy="203.6" r="2.3" fill="#1ecb1e"/>
<path d="M1459.5 183.5L1492.5 183.5" stroke="#1ecb1e" stroke-width="1.5" fill="none"/>
<path d="M1480.8 161.2L1480.8 209.9L1492.5 209.9" stroke="#1ecb1e" stroke-width="1.5" fill="none"/>
<circle cx="1480.8" cy="161.2" r="2.3" fill="#1ecb1e"/>
<path d="M1492.5 194.6L1489.3 194.6L1489.3 314.1" stroke="#1ecb1e" stroke-width="1.5" fill="none"/>
<path d="M1489.3 314.1L1489.3 325.2" stroke="#c81414" stroke-width="1.5"/>
<path d="M1481 326.2L1497.5 326.2" stroke="#000" stroke-width="2.8"/>
<path d="M1489.3 243.5L1492.5 243.5" stroke="#1ecb1e" stroke-width="1.5" fill="none"/>
<circle cx="1489.3" cy="243.5" r="2.3" fill="#1ecb1e"/>
<path d="M1444.7 106.9L1399.4 106.9L1394.2 112.6L1399.4 118.3L1444.7 118.3Z" stroke="#111" stroke-width="1.5" fill="#fff"/>
<text transform="translate(1439 115)" font-size="6.55" text-anchor="end" fill="#111" stroke="#111" stroke-width="0.08">I2C_SDA</text>
<path d="M1444.7 127.3L1399.4 127.3L1394.2 133L1399.4 138.7L1444.7 138.7Z" stroke="#111" stroke-width="1.5" fill="#fff"/>
<text transform="translate(1439 135.4)" font-size="6.55" text-anchor="end" fill="#111" stroke="#111" stroke-width="0.08">I2C_SCL</text>
<path d="M1492.4 161.2L1502.6 161.2" stroke="#c81414" stroke-width="1.5"/>
<text transform="translate(1501.2 167.1) scale(0.85 1)" font-size="6.4" text-anchor="end" fill="#c81414" stroke="#c81414" stroke-width="0.12">1</text>
<path d="M1492.4 172.2L1502.6 172.2" stroke="#c81414" stroke-width="1.5"/>
<text transform="translate(1501.2 178.1) scale(0.85 1)" font-size="6.4" text-anchor="end" fill="#c81414" stroke="#c81414" stroke-width="0.12">2</text>
<path d="M1492.4 183.5L1502.6 183.5" stroke="#c81414" stroke-width="1.5"/>
<text transform="translate(1501.2 189.4) scale(0.85 1)" font-size="6.4" text-anchor="end" fill="#c81414" stroke="#c81414" stroke-width="0.12">3</text>
<path d="M1492.4 194.6L1502.6 194.6" stroke="#c81414" stroke-width="1.5"/>
<text transform="translate(1501.2 200.5) scale(0.85 1)" font-size="6.4" text-anchor="end" fill="#c81414" stroke="#c81414" stroke-width="0.12">4</text>
<rect x="1502.6" y="155.6" width="11.9" height="44.6" stroke="#111" stroke-width="1.5" fill="#fff"/>
<path d="M1492.4 209.9L1502.6 209.9" stroke="#c81414" stroke-width="1.5"/>
<text transform="translate(1501.2 215.8) scale(0.85 1)" font-size="6.4" text-anchor="end" fill="#c81414" stroke="#c81414" stroke-width="0.12">1</text>
<path d="M1492.4 220.9L1502.6 220.9" stroke="#c81414" stroke-width="1.5"/>
<text transform="translate(1501.2 226.8) scale(0.85 1)" font-size="6.4" text-anchor="end" fill="#c81414" stroke="#c81414" stroke-width="0.12">2</text>
<path d="M1492.4 232.2L1502.6 232.2" stroke="#c81414" stroke-width="1.5"/>
<text transform="translate(1501.2 238.1) scale(0.85 1)" font-size="6.4" text-anchor="end" fill="#c81414" stroke="#c81414" stroke-width="0.12">3</text>
<path d="M1492.4 243.5L1502.6 243.5" stroke="#c81414" stroke-width="1.5"/>
<text transform="translate(1501.2 249.4) scale(0.85 1)" font-size="6.4" text-anchor="end" fill="#c81414" stroke="#c81414" stroke-width="0.12">4</text>
<rect x="1502.6" y="204.3" width="11.9" height="44.5" stroke="#111" stroke-width="1.5" fill="#fff"/>
<text transform="translate(1516.3 200.2) scale(0.78 1)" font-size="12.7">J18</text>
<text transform="translate(1517.3 249.8) scale(0.78 1)" font-size="12.7">J19</text>
<path d="M1637.9 111.3L1637.9 121.5" stroke="#c81414" stroke-width="1.5"/>
<path d="M1637.9 121.5L1637.9 130" stroke="#1ecb1e" stroke-width="1.5" fill="none"/>
<circle cx="1637.9" cy="105.6" r="5.6" fill="#fff" stroke="#111" stroke-width="1.2"/>
<path d="M1634.7 105.6L1641.1 105.6" stroke="#111" stroke-width="1.3"/>
<path d="M1637.9 102.4L1637.9 108.8" stroke="#111" stroke-width="1.3"/>
<text transform="translate(1645.9 108.4) scale(0.8 1)" font-size="10" fill="#222">+3,3V</text>
<path d="M1622.7 133.5L1622.7 130L1650.4 130L1650.4 280.8L1680 280.8" stroke="#1ecb1e" stroke-width="1.5" fill="none"/>
<circle cx="1637.9" cy="130" r="2.3" fill="#1ecb1e"/>
<path d="M1622.7 134.5L1622.7 147.4" stroke="#c81414" stroke-width="1.5"/>
<path d="M1622.7 169.6L1622.7 181.6" stroke="#c81414" stroke-width="1.5"/>
<rect x="1617" y="147.4" width="11.4" height="22.2" stroke="#111" stroke-width="1.2" fill="#fff"/>
<text transform="translate(1624.2 145.2) scale(0.85 1)" font-size="6.4" fill="#c81414" stroke="#c81414" stroke-width="0.12">2</text>
<text transform="translate(1624.2 175.6) scale(0.85 1)" font-size="6.4" fill="#c81414" stroke="#c81414" stroke-width="0.12">1</text>
<text transform="translate(1614.3 166.5) rotate(-90) scale(0.78 1)" font-size="12.7">4,7K</text>
<text transform="translate(1639.8 168) rotate(-90) scale(0.78 1)" font-size="12.7">R21</text>
<path d="M1622.7 180.6L1622.7 189.3" stroke="#1ecb1e" stroke-width="1.5" fill="none"/>
<circle cx="1622.7" cy="189.3" r="2.3" fill="#1ecb1e"/>
<path d="M1606.5 189.3L1616 189.3" stroke="#c81414" stroke-width="1.5"/>
<path d="M1616 189.3L1679.4 189.3" stroke="#1ecb1e" stroke-width="1.5" fill="none"/>
<path d="M1606.5 183.6L1560.4 183.6L1555.2 189.3L1560.4 195L1606.5 195Z" stroke="#111" stroke-width="1.5" fill="#fff"/>
<text transform="translate(1584 191.7)" font-size="6.55" text-anchor="middle" fill="#111" stroke="#111" stroke-width="0.08">GP-CLK0</text>
<path d="M1679.4 177.9L1660.2 177.9L1660.2 317.2" stroke="#1ecb1e" stroke-width="1.5" fill="none"/>
<path d="M1660.2 317.2L1660.2 328.5" stroke="#c81414" stroke-width="1.5"/>
<path d="M1652.3 329.7L1668.8 329.7" stroke="#000" stroke-width="2.8"/>
<path d="M1650.4 200.8L1679.4 200.8" stroke="#1ecb1e" stroke-width="1.5" fill="none"/>
<circle cx="1650.4" cy="200.8" r="2.3" fill="#1ecb1e"/>
<path d="M1650.4 243.3L1680 243.3" stroke="#1ecb1e" stroke-width="1.5" fill="none"/>
<circle cx="1650.4" cy="243.3" r="2.3" fill="#1ecb1e"/>
<path d="M1670 189.3L1670 292.3L1680 292.3" stroke="#1ecb1e" stroke-width="1.5" fill="none"/>
<circle cx="1670" cy="189.3" r="2.3" fill="#1ecb1e"/>
<path d="M1670 254.8L1680 254.8" stroke="#1ecb1e" stroke-width="1.5" fill="none"/>
<circle cx="1670" cy="254.8" r="2.3" fill="#1ecb1e"/>
<path d="M1660.2 265.9L1680 265.9" stroke="#1ecb1e" stroke-width="1.5" fill="none"/>
<circle cx="1660.2" cy="265.9" r="2.3" fill="#1ecb1e"/>
<path d="M1660.2 303.7L1680 303.7" stroke="#1ecb1e" stroke-width="1.5" fill="none"/>
<circle cx="1660.2" cy="303.7" r="2.3" fill="#1ecb1e"/>
<path d="M1679.4 177.9L1689.6 177.9" stroke="#c81414" stroke-width="1.5"/>
<text transform="translate(1688.2 183.8) scale(0.85 1)" font-size="6.4" text-anchor="end" fill="#c81414" stroke="#c81414" stroke-width="0.12">1</text>
<path d="M1679.4 189.3L1689.6 189.3" stroke="#c81414" stroke-width="1.5"/>
<text transform="translate(1688.2 195.2) scale(0.85 1)" font-size="6.4" text-anchor="end" fill="#c81414" stroke="#c81414" stroke-width="0.12">2</text>
<path d="M1679.4 200.8L1689.6 200.8" stroke="#c81414" stroke-width="1.5"/>
<text transform="translate(1688.2 206.7) scale(0.85 1)" font-size="6.4" text-anchor="end" fill="#c81414" stroke="#c81414" stroke-width="0.12">3</text>
<rect x="1689.6" y="167.1" width="33.7" height="43.8" stroke="#111" stroke-width="1.5" fill="#fff"/>
<text transform="translate(1692 181.5) scale(0.8 1)" font-size="10.4">GND</text>
<text transform="translate(1692 192.9) scale(0.8 1)" font-size="10.4">DQ</text>
<text transform="translate(1692 204.4) scale(0.8 1)" font-size="10.4">VDD</text>
<text transform="translate(1689.6 163.7) scale(0.78 1)" font-size="12.7">IC2</text>
<text transform="translate(1689.6 222.7) scale(0.78 1)" font-size="12.7">DS18B20</text>
<path d="M1680.1 243.3L1690.9 243.3" stroke="#c81414" stroke-width="1.5"/>
<text transform="translate(1689.5 249.2) scale(0.85 1)" font-size="6.4" text-anchor="end" fill="#c81414" stroke="#c81414" stroke-width="0.12">1</text>
<path d="M1680.1 254.8L1690.9 254.8" stroke="#c81414" stroke-width="1.5"/>
<text transform="translate(1689.5 260.7) scale(0.85 1)" font-size="6.4" text-anchor="end" fill="#c81414" stroke="#c81414" stroke-width="0.12">2</text>
<path d="M1680.1 265.9L1690.9 265.9" stroke="#c81414" stroke-width="1.5"/>
<text transform="translate(1689.5 271.8) scale(0.85 1)" font-size="6.4" text-anchor="end" fill="#c81414" stroke="#c81414" stroke-width="0.12">3</text>
<rect x="1690.9" y="237.9" width="11.1" height="33.1" stroke="#111" stroke-width="1.5" fill="#fff"/>
<path d="M1680.1 280.8L1690.9 280.8" stroke="#c81414" stroke-width="1.5"/>
<text transform="translate(1689.5 286.7) scale(0.85 1)" font-size="6.4" text-anchor="end" fill="#c81414" stroke="#c81414" stroke-width="0.12">1</text>
<path d="M1680.1 292.3L1690.9 292.3" stroke="#c81414" stroke-width="1.5"/>
<text transform="translate(1689.5 298.2) scale(0.85 1)" font-size="6.4" text-anchor="end" fill="#c81414" stroke="#c81414" stroke-width="0.12">2</text>
<path d="M1680.1 303.7L1690.9 303.7" stroke="#c81414" stroke-width="1.5"/>
<text transform="translate(1689.5 309.6) scale(0.85 1)" font-size="6.4" text-anchor="end" fill="#c81414" stroke="#c81414" stroke-width="0.12">3</text>
<rect x="1690.9" y="275.7" width="11.1" height="33.1" stroke="#111" stroke-width="1.5" fill="#fff"/>
<text transform="translate(1704.8 272.7) scale(0.78 1)" font-size="12.7">J20</text>
<text transform="translate(1704.8 309.8) scale(0.78 1)" font-size="12.7">J21</text>
<text x="65.2" y="453.6" font-size="26.2" textLength="186.1" lengthAdjust="spacingAndGlyphs">AUDIO IN / OUT</text>
<path d="M64.7 456.4L251.8 456.4" stroke="#000" stroke-width="1.3"/>
<rect x="47.7" y="538.6" width="17.7" height="216.3" stroke="#333" stroke-width="1.3" fill="#fff"/>
<text transform="translate(61.2 647.5) rotate(-90)" font-size="12.7" text-anchor="middle" fill="#111">SOUNDCARD 1</text>
<path d="M58.1 567.1A7.6 6.4 0 1 0 58.1 579.7" stroke="#333" stroke-width="1.1" fill="none"/>
<rect x="57.4" y="567.3" width="7.2" height="3.5" rx="1.6" fill="#333"/>
<rect x="57.4" y="576" width="7.2" height="3.5" rx="1.6" fill="#333"/>
<rect x="50.2" y="719.8" width="7.6" height="4.2" rx="2.1" fill="#000"/>
<path d="M55.2 718.3A4.4 3.6 0 0 1 55.2 725.5M59.6 721.9h2.6M62.3 719.2v5.4" stroke="#000" stroke-width="1" fill="none"/>
<rect x="45.7" y="850.8" width="17.9" height="216" stroke="#333" stroke-width="1.3" fill="#fff"/>
<text transform="translate(59.3 959.6) rotate(-90)" font-size="12.7" text-anchor="middle" fill="#111">SOUNDCARD 2</text>
<path d="M56.2 879A7.6 6.4 0 1 0 56.2 891.6" stroke="#333" stroke-width="1.1" fill="none"/>
<rect x="55.5" y="879.2" width="7.2" height="3.5" rx="1.6" fill="#333"/>
<rect x="55.5" y="887.9" width="7.2" height="3.5" rx="1.6" fill="#333"/>
<rect x="48.3" y="1031.9" width="7.6" height="4.2" rx="2.1" fill="#000"/>
<path d="M53.3 1030.4A4.4 3.6 0 0 1 53.3 1037.6M57.7 1034h2.6M60.4 1031.3v5.4" stroke="#000" stroke-width="1" fill="none"/>
<path d="M124.2 550.1L140.5 550.1" stroke="#1ecb1e" stroke-width="1.5" fill="none"/>
<circle cx="131.4" cy="550.1" r="2.3" fill="#1ecb1e"/>
<path d="M131.4 550.1L131.4 566.6L136.7 566.6" stroke="#1ecb1e" stroke-width="1.5" fill="none"/>
<path d="M136.7 577.9L131.4 577.9L131.4 616.8L349.5 616.8" stroke="#1ecb1e" stroke-width="1.5" fill="none"/>
<path d="M125.7 594.4L131.4 594.4" stroke="#1ecb1e" stroke-width="1.5" fill="none"/>
<circle cx="131.4" cy="594.4" r="2.3" fill="#1ecb1e"/>
<path d="M349.5 616.8L360.5 616.8" stroke="#c81414" stroke-width="1.5"/>
<path d="M365.7 611.1L422.8 611.1L428 616.8L422.8 622.5L365.7 622.5L360.5 616.8Z" stroke="#111" stroke-width="1.5" fill="#fff"/>
<text transform="translate(394.2 619.2)" font-size="6.55" text-anchor="middle" fill="#111" stroke="#111" stroke-width="0.08">GND_RPTER</text>
<rect x="69.2" y="538.6" width="44.9" height="67.2" stroke="#222" stroke-width="1.3" fill="#fff"/>
<text transform="translate(68.6 535.1) scale(0.95 1)" font-size="12.7">Jack 3,5mm</text>
<path d="M114.1 550.1L124.2 550.1" stroke="#c81414" stroke-width="1.5"/>
<text transform="translate(112.1 553.9) scale(0.8 1)" font-size="10.2" text-anchor="end">Pin5</text>
<text transform="translate(118.5 555.9) rotate(-90) scale(0.85 1)" font-size="6.4" fill="#c81414" stroke="#c81414" stroke-width="0.12">5</text>
<path d="M114.1 560.8L125.7 560.8" stroke="#c81414" stroke-width="1.5"/>
<text transform="translate(112.1 564.6) scale(0.8 1)" font-size="10.2" text-anchor="end">Pin4</text>
<text transform="translate(118.5 566.6) rotate(-90) scale(0.85 1)" font-size="6.4" fill="#c81414" stroke="#c81414" stroke-width="0.12">4</text>
<path d="M114.1 571.9L125.7 571.9" stroke="#c81414" stroke-width="1.5"/>
<text transform="translate(112.1 575.7) scale(0.8 1)" font-size="10.2" text-anchor="end">Pin3</text>
<text transform="translate(118.5 577.7) rotate(-90) scale(0.85 1)" font-size="6.4" fill="#c81414" stroke="#c81414" stroke-width="0.12">3</text>
<path d="M114.1 583.2L125.7 583.2" stroke="#c81414" stroke-width="1.5"/>
<text transform="translate(112.1 587) scale(0.8 1)" font-size="10.2" text-anchor="end">Pin2</text>
<text transform="translate(118.5 589) rotate(-90) scale(0.85 1)" font-size="6.4" fill="#c81414" stroke="#c81414" stroke-width="0.12">2</text>
<path d="M114.1 594.4L125.7 594.4" stroke="#c81414" stroke-width="1.5"/>
<text transform="translate(112.1 598.2) scale(0.8 1)" font-size="10.2" text-anchor="end">Pin1</text>
<text transform="translate(118.5 600.2) rotate(-90) scale(0.85 1)" font-size="6.4" fill="#c81414" stroke="#c81414" stroke-width="0.12">1</text>
<text transform="translate(101.6 616.2) scale(0.78 1)" font-size="12.7">J4</text>
<path d="M136.7 566.6L146.1 566.6" stroke="#c81414" stroke-width="1.5"/>
<text transform="translate(144.7 572.5) scale(0.85 1)" font-size="6.4" text-anchor="end" fill="#c81414" stroke="#c81414" stroke-width="0.12">1</text>
<path d="M136.7 577.9L146.1 577.9" stroke="#c81414" stroke-width="1.5"/>
<text transform="translate(144.7 583.8) scale(0.85 1)" font-size="6.4" text-anchor="end" fill="#c81414" stroke="#c81414" stroke-width="0.12">2</text>
<rect x="146.1" y="561.2" width="11" height="22" stroke="#111" stroke-width="1.5" fill="#fff"/>
<text transform="translate(142 595.8) scale(0.78 1)" font-size="12.7">J5</text>
<path d="M140.5 550.1L151.6 550.1" stroke="#c81414" stroke-width="1.5"/>
<path d="M174.2 550.1L185.4 550.1" stroke="#c81414" stroke-width="1.5"/>
<rect x="151.6" y="544.4" width="22.6" height="11.4" stroke="#111" stroke-width="1.2" fill="#fff"/>
<text transform="translate(150.6 556.3) scale(0.85 1)" font-size="6.4" text-anchor="end" fill="#c81414" stroke="#c81414" stroke-width="0.12">2</text>
<text transform="translate(175.7 556.3) scale(0.85 1)" font-size="6.4" fill="#c81414" stroke="#c81414" stroke-width="0.12">1</text>
<text transform="translate(144.6 541.8) scale(0.78 1)" font-size="12.7">R13</text>
<text transform="translate(169 541.8) scale(0.78 1)" font-size="12.7">1K</text>
<path d="M185.4 550.1L187.6 550.1L187.6 555" stroke="#1ecb1e" stroke-width="1.5" fill="none"/>
<path d="M187.6 597.3L187.6 633.4" stroke="#1ecb1e" stroke-width="1.5" fill="none"/>
<circle cx="187.6" cy="616.8" r="2.3" fill="#1ecb1e"/>
<path d="M187.6 633.4L187.6 643.5" stroke="#c81414" stroke-width="1.5"/>
<path d="M179.8 644.6L196.2 644.6" stroke="#000" stroke-width="2.8"/>
<path d="M187.6 555L187.6 564.4" stroke="#c81414" stroke-width="1.5"/>
<path d="M187.6 586.4L187.6 597.3" stroke="#c81414" stroke-width="1.5"/>
<rect x="181.8" y="564.4" width="11.6" height="22" stroke="#111" stroke-width="1.2" fill="#fff"/>
<text transform="translate(189.4 562.1) scale(0.85 1)" font-size="6.4" fill="#c81414" stroke="#c81414" stroke-width="0.12">3</text>
<text transform="translate(189.4 592.6) scale(0.85 1)" font-size="6.4" fill="#c81414" stroke="#c81414" stroke-width="0.12">1</text>
<path d="M194.2 574.7L203.8 572.3L203.8 577.1Z" stroke="#111" stroke-width="0.3" fill="#111"/>
<path d="M203.3 574.7L207 574.7" stroke="#111" stroke-width="1.2"/>
<text transform="translate(181.2 593) rotate(-90) scale(0.78 1)" font-size="12.7">R14 1K</text>
<path d="M207 574.7L207 563.1" stroke="#111" stroke-width="1.2"/>
<path d="M207 563.1L207 550.1" stroke="#c81414" stroke-width="1.5"/>
<text transform="translate(208.6 562.7) scale(0.85 1)" font-size="6.4" fill="#c81414" stroke="#c81414" stroke-width="0.12">2</text>
<path d="M207 550.1L221.5 550.1" stroke="#c81414" stroke-width="1.5"/>
<path d="M226.8 550.1L237.2 550.1" stroke="#c81414" stroke-width="1.5"/>
<path d="M221.5 542.4L221.5 557.5" stroke="#000" stroke-width="2.2"/>
<path d="M226.8 542.4L226.8 557.5" stroke="#000" stroke-width="2.2"/>
<text transform="translate(219.3 556.3) scale(0.85 1)" font-size="6.4" text-anchor="end" fill="#c81414" stroke="#c81414" stroke-width="0.12">1</text>
<text transform="translate(229 556.3) scale(0.85 1)" font-size="6.4" fill="#c81414" stroke="#c81414" stroke-width="0.12">2</text>
<path d="M213.9 543.4L217.9 543.4" stroke="#222" stroke-width="0.8"/>
<path d="M215.9 541.4L215.9 545.4" stroke="#222" stroke-width="0.8"/>
<text transform="translate(217.4 536.1) scale(0.78 1)" font-size="12.7">C4</text>
<text transform="translate(212 571.6) scale(0.78 1)" font-size="12.7">10µF</text>
<path d="M237.2 550.1L245.4 550.1" stroke="#1ecb1e" stroke-width="1.5" fill="none"/>
<circle cx="243.2" cy="550.1" r="2.3" fill="#1ecb1e"/>
<path d="M243.2 550.1L243.2 528.9L255.4 528.9" stroke="#1ecb1e" stroke-width="1.5" fill="none"/>
<path d="M299 528.9L310.3 528.9L310.3 550.1" stroke="#1ecb1e" stroke-width="1.5" fill="none"/>
<path d="M308.7 550.1L321 550.1" stroke="#1ecb1e" stroke-width="1.5" fill="none"/>
<circle cx="310.3" cy="550.1" r="2.3" fill="#1ecb1e"/>
<path d="M255.4 528.9L265.4 528.9" stroke="#c81414" stroke-width="1.5"/>
<path d="M288.3 528.9L299 528.9" stroke="#c81414" stroke-width="1.5"/>
<rect x="265.4" y="523.4" width="22.9" height="11" stroke="#111" stroke-width="1.2" fill="#fff"/>
<text transform="translate(264.2 534.9) scale(0.85 1)" font-size="6.4" text-anchor="end" fill="#c81414" stroke="#c81414" stroke-width="0.12">2</text>
<text transform="translate(289.8 534.9) scale(0.85 1)" font-size="6.4" fill="#c81414" stroke="#c81414" stroke-width="0.12">1</text>
<text transform="translate(268.5 520.4) scale(0.78 1)" font-size="12.7">JP1</text>
<rect x="254.4" y="541.8" width="44.9" height="83.8" stroke="#000" stroke-width="1.2" fill="#fff" stroke-dasharray="3.2 1.8"/>
<rect x="260.4" y="549.7" width="11" height="67.5" fill="#000"/>
<rect x="283" y="549.7" width="10.7" height="67.5" fill="#000"/>
<rect x="275.3" y="544.9" width="3.6" height="77.7" fill="#000"/>
<text transform="translate(305.3 589.5) scale(0.78 1)" font-size="12.7">Tr1</text>
<text transform="translate(305.3 603.8) scale(0.78 1)" font-size="12.7">ETAL P1200</text>
<path d="M245.4 550.1L254.4 550.1" stroke="#c81414" stroke-width="1.5"/>
<path d="M299.3 550.1L308.7 550.1" stroke="#c81414" stroke-width="1.5"/>
<path d="M254.4 550.1L260.6 550.1" stroke="#000" stroke-width="1.3"/>
<path d="M293.8 550.1L299.3 550.1" stroke="#000" stroke-width="1.3"/>
<path d="M245.4 616.8L254.4 616.8" stroke="#c81414" stroke-width="1.5"/>
<path d="M299.3 616.8L308.7 616.8" stroke="#c81414" stroke-width="1.5"/>
<path d="M254.4 616.8L260.6 616.8" stroke="#000" stroke-width="1.3"/>
<path d="M293.8 616.8L299.3 616.8" stroke="#000" stroke-width="1.3"/>
<text transform="translate(252.6 556.3) scale(0.85 1)" font-size="6.4" text-anchor="end" fill="#c81414" stroke="#c81414" stroke-width="0.12">1</text>
<text transform="translate(301.1 556.3) scale(0.85 1)" font-size="6.4" fill="#c81414" stroke="#c81414" stroke-width="0.12">6</text>
<text transform="translate(252.6 623) scale(0.85 1)" font-size="6.4" text-anchor="end" fill="#c81414" stroke="#c81414" stroke-width="0.12">3</text>
<text transform="translate(301.1 623) scale(0.85 1)" font-size="6.4" fill="#c81414" stroke="#c81414" stroke-width="0.12">4</text>
<circle cx="242.5" cy="616.8" r="2.3" fill="#1ecb1e"/>
<circle cx="311.5" cy="616.8" r="2.3" fill="#1ecb1e"/>
<path d="M242.5 616.8L242.5 633.4L255.4 633.4" stroke="#1ecb1e" stroke-width="1.5" fill="none"/>
<path d="M299 633.4L311.5 633.4L311.5 616.8" stroke="#1ecb1e" stroke-width="1.5" fill="none"/>
<path d="M255.4 633.4L265.4 633.4" stroke="#c81414" stroke-width="1.5"/>
<path d="M288.3 633.4L299 633.4" stroke="#c81414" stroke-width="1.5"/>
<rect x="265.4" y="627.9" width="22.9" height="11" stroke="#111" stroke-width="1.2" fill="#fff"/>
<text transform="translate(264.2 639.4) scale(0.85 1)" font-size="6.4" text-anchor="end" fill="#c81414" stroke="#c81414" stroke-width="0.12">2</text>
<text transform="translate(289.8 639.4) scale(0.85 1)" font-size="6.4" fill="#c81414" stroke="#c81414" stroke-width="0.12">1</text>
<text transform="translate(268.5 650.1) scale(0.78 1)" font-size="12.7">JP2</text>
<path d="M321 550.1L327.3 550.1" stroke="#c81414" stroke-width="1.5"/>
<path d="M332.6 550.1L339.2 550.1" stroke="#c81414" stroke-width="1.5"/>
<path d="M327.3 542.4L327.3 557.5" stroke="#000" stroke-width="2.2"/>
<path d="M332.6 542.4L332.6 557.5" stroke="#000" stroke-width="2.2"/>
<text transform="translate(325.1 556.3) scale(0.85 1)" font-size="6.4" text-anchor="end" fill="#c81414" stroke="#c81414" stroke-width="0.12">2</text>
<text transform="translate(334.8 556.3) scale(0.85 1)" font-size="6.4" fill="#c81414" stroke="#c81414" stroke-width="0.12">1</text>
<path d="M335.9 557.2L339.9 557.2" stroke="#222" stroke-width="0.8"/>
<path d="M337.9 555.2L337.9 559.2" stroke="#222" stroke-width="0.8"/>
<text transform="translate(322.8 536.8) scale(0.78 1)" font-size="12.7">C5</text>
<text transform="translate(320.3 569.1) scale(0.78 1)" font-size="12.7">10µF</text>
<path d="M339.2 550.1L349.5 550.1" stroke="#1ecb1e" stroke-width="1.5" fill="none"/>
<path d="M349.5 550.1L359.6 550.1" stroke="#c81414" stroke-width="1.5"/>
<path d="M359.6 544.4L428.1 544.4L433.3 550.1L428.1 555.8L359.6 555.8Z" stroke="#111" stroke-width="1.5" fill="#fff"/>
<text transform="translate(365.1 552.5)" font-size="6.55" fill="#111" stroke="#111" stroke-width="0.08">AUDIO_TX_RPTER</text>
<path d="M123.5 862.1L142.4 862.1" stroke="#1ecb1e" stroke-width="1.5" fill="none"/>
<circle cx="130.4" cy="862.1" r="2.3" fill="#1ecb1e"/>
<path d="M130.4 862.1L130.4 880L136.7 880" stroke="#1ecb1e" stroke-width="1.5" fill="none"/>
<path d="M136.7 891.7L130.4 891.7L130.4 928.7L343.9 928.7" stroke="#1ecb1e" stroke-width="1.5" fill="none"/>
<path d="M125 906.7L130.4 906.7" stroke="#1ecb1e" stroke-width="1.5" fill="none"/>
<circle cx="130.4" cy="906.7" r="2.3" fill="#1ecb1e"/>
<path d="M343.9 928.7L354.2 928.7" stroke="#c81414" stroke-width="1.5"/>
<path d="M359.4 923L422.8 923L428 928.7L422.8 934.4L359.4 934.4L354.2 928.7Z" stroke="#111" stroke-width="1.5" fill="#fff"/>
<text transform="translate(391.1 931.1)" font-size="6.55" text-anchor="middle" fill="#111" stroke="#111" stroke-width="0.08">GND_LINK</text>
<rect x="67.7" y="850.8" width="44.8" height="66.9" stroke="#222" stroke-width="1.3" fill="#fff"/>
<text transform="translate(67.7 847.6) scale(0.95 1)" font-size="12.7">Jack 3,5mm</text>
<path d="M112.5 862.1L123.5 862.1" stroke="#c81414" stroke-width="1.5"/>
<text transform="translate(110.5 865.9) scale(0.8 1)" font-size="10.2" text-anchor="end">Pin5</text>
<text transform="translate(113.9 868.3) scale(0.85 1)" font-size="6.4" fill="#c81414" stroke="#c81414" stroke-width="0.12">5</text>
<path d="M112.5 873.1L125 873.1" stroke="#c81414" stroke-width="1.5"/>
<text transform="translate(110.5 876.9) scale(0.8 1)" font-size="10.2" text-anchor="end">Pin4</text>
<text transform="translate(113.9 879.3) scale(0.85 1)" font-size="6.4" fill="#c81414" stroke="#c81414" stroke-width="0.12">4</text>
<path d="M112.5 884.1L125 884.1" stroke="#c81414" stroke-width="1.5"/>
<text transform="translate(110.5 887.9) scale(0.8 1)" font-size="10.2" text-anchor="end">Pin3</text>
<text transform="translate(113.9 890.3) scale(0.85 1)" font-size="6.4" fill="#c81414" stroke="#c81414" stroke-width="0.12">3</text>
<path d="M112.5 895.7L125 895.7" stroke="#c81414" stroke-width="1.5"/>
<text transform="translate(110.5 899.5) scale(0.8 1)" font-size="10.2" text-anchor="end">Pin2</text>
<text transform="translate(113.9 901.9) scale(0.85 1)" font-size="6.4" fill="#c81414" stroke="#c81414" stroke-width="0.12">2</text>
<path d="M112.5 906.7L125 906.7" stroke="#c81414" stroke-width="1.5"/>
<text transform="translate(110.5 910.5) scale(0.8 1)" font-size="10.2" text-anchor="end">Pin1</text>
<text transform="translate(113.9 912.9) scale(0.85 1)" font-size="6.4" fill="#c81414" stroke="#c81414" stroke-width="0.12">1</text>
<text transform="translate(99.7 928.1) scale(0.78 1)" font-size="12.7">J12</text>
<path d="M136.7 880L144.6 880" stroke="#c81414" stroke-width="1.5"/>
<text transform="translate(143.2 885.9) scale(0.85 1)" font-size="6.4" text-anchor="end" fill="#c81414" stroke="#c81414" stroke-width="0.12">1</text>
<path d="M136.7 891.7L144.6 891.7" stroke="#c81414" stroke-width="1.5"/>
<text transform="translate(143.2 897.6) scale(0.85 1)" font-size="6.4" text-anchor="end" fill="#c81414" stroke="#c81414" stroke-width="0.12">2</text>
<rect x="144.6" y="874.4" width="11.6" height="22.3" stroke="#111" stroke-width="1.5" fill="#fff"/>
<text transform="translate(140.5 910.5) scale(0.78 1)" font-size="12.7">J13</text>
<path d="M142.4 862.1L152.9 862.1" stroke="#c81414" stroke-width="1.5"/>
<path d="M175.5 862.1L186 862.1" stroke="#c81414" stroke-width="1.5"/>
<rect x="152.9" y="856.4" width="22.6" height="11.4" stroke="#111" stroke-width="1.2" fill="#fff"/>
<text transform="translate(151.9 868.3) scale(0.85 1)" font-size="6.4" text-anchor="end" fill="#c81414" stroke="#c81414" stroke-width="0.12">2</text>
<text transform="translate(177 868.3) scale(0.85 1)" font-size="6.4" fill="#c81414" stroke="#c81414" stroke-width="0.12">1</text>
<text transform="translate(143 854) scale(0.78 1)" font-size="12.7">R16</text>
<text transform="translate(168.1 854) scale(0.78 1)" font-size="12.7">1K</text>
<path d="M186 862.1L186.3 862.1L186.3 870.6" stroke="#1ecb1e" stroke-width="1.5" fill="none"/>
<path d="M186.3 914.6L186.3 942.8" stroke="#1ecb1e" stroke-width="1.5" fill="none"/>
<circle cx="186.3" cy="928.7" r="2.3" fill="#1ecb1e"/>
<path d="M186.3 942.8L186.3 955" stroke="#c81414" stroke-width="1.5"/>
<path d="M178.5 956.1L195 956.1" stroke="#000" stroke-width="2.8"/>
<path d="M186.3 870.6L186.3 881.6" stroke="#c81414" stroke-width="1.5"/>
<path d="M186.3 903.6L186.3 914.6" stroke="#c81414" stroke-width="1.5"/>
<rect x="180.5" y="881.6" width="11.6" height="22" stroke="#111" stroke-width="1.2" fill="#fff"/>
<text transform="translate(188.1 879.3) scale(0.85 1)" font-size="6.4" fill="#c81414" stroke="#c81414" stroke-width="0.12">3</text>
<text transform="translate(188.1 909.8) scale(0.85 1)" font-size="6.4" fill="#c81414" stroke="#c81414" stroke-width="0.12">1</text>
<path d="M192.9 892.6L202.5 890.2L202.5 895Z" stroke="#111" stroke-width="0.3" fill="#111"/>
<path d="M202 892.6L205.8 892.6" stroke="#111" stroke-width="1.2"/>
<text transform="translate(177.5 910.5) rotate(-90) scale(0.78 1)" font-size="12.7">R17</text>
<text transform="translate(177.5 886) rotate(-90) scale(0.78 1)" font-size="12.7">1K</text>
<path d="M205.8 892.6L205.8 875.1" stroke="#111" stroke-width="1.2"/>
<path d="M205.8 875.1L205.8 862.1" stroke="#c81414" stroke-width="1.5"/>
<text transform="translate(207.4 874.7) scale(0.85 1)" font-size="6.4" fill="#c81414" stroke="#c81414" stroke-width="0.12">2</text>
<path d="M205.8 862.1L221.5 862.1" stroke="#c81414" stroke-width="1.5"/>
<path d="M226.8 862.1L235.6 862.1" stroke="#c81414" stroke-width="1.5"/>
<path d="M221.5 854.9L221.5 869.7" stroke="#000" stroke-width="2.2"/>
<path d="M226.8 854.9L226.8 869.7" stroke="#000" stroke-width="2.2"/>
<text transform="translate(219.3 868.3) scale(0.85 1)" font-size="6.4" text-anchor="end" fill="#c81414" stroke="#c81414" stroke-width="0.12">1</text>
<text transform="translate(229 868.3) scale(0.85 1)" font-size="6.4" fill="#c81414" stroke="#c81414" stroke-width="0.12">2</text>
<path d="M213.9 855.9L217.9 855.9" stroke="#222" stroke-width="0.8"/>
<path d="M215.9 853.9L215.9 857.9" stroke="#222" stroke-width="0.8"/>
<text transform="translate(216.1 849.3) scale(0.78 1)" font-size="12.7">C8</text>
<text transform="translate(212 882.2) scale(0.78 1)" font-size="12.7">10µF</text>
<path d="M235.6 862.1L242 862.1" stroke="#1ecb1e" stroke-width="1.5" fill="none"/>
<circle cx="239.7" cy="862.1" r="2.3" fill="#1ecb1e"/>
<path d="M239.7 862.1L239.7 846.5L253.5 846.5" stroke="#1ecb1e" stroke-width="1.5" fill="none"/>
<path d="M296.8 846.5L308.4 846.5L308.4 862.1" stroke="#1ecb1e" stroke-width="1.5" fill="none"/>
<path d="M306.9 862.1L312.5 862.1" stroke="#1ecb1e" stroke-width="1.5" fill="none"/>
<circle cx="308.4" cy="862.1" r="2.3" fill="#1ecb1e"/>
<path d="M253.5 846.5L264.5 846.5" stroke="#c81414" stroke-width="1.5"/>
<path d="M286.7 846.5L296.8 846.5" stroke="#c81414" stroke-width="1.5"/>
<rect x="264.5" y="841" width="22.2" height="11" stroke="#111" stroke-width="1.2" fill="#fff"/>
<text transform="translate(263.3 852.5) scale(0.85 1)" font-size="6.4" text-anchor="end" fill="#c81414" stroke="#c81414" stroke-width="0.12">1</text>
<text transform="translate(288.2 852.5) scale(0.85 1)" font-size="6.4" fill="#c81414" stroke="#c81414" stroke-width="0.12">2</text>
<text transform="translate(265.4 839.2) scale(0.78 1)" font-size="12.7">JP5</text>
<rect x="252.8" y="853.4" width="45.6" height="83.8" stroke="#000" stroke-width="1.2" fill="#fff" stroke-dasharray="3.2 1.8"/>
<rect x="258.8" y="861.7" width="11" height="67.4" fill="#000"/>
<rect x="281.4" y="861.7" width="10.7" height="67.4" fill="#000"/>
<rect x="273.7" y="856.5" width="3.6" height="77.7" fill="#000"/>
<text transform="translate(302.4 897.3) scale(0.78 1)" font-size="12.7">Tr3</text>
<text transform="translate(302.4 911.6) scale(0.78 1)" font-size="12.7">ETAL P1200</text>
<path d="M242 862.1L252.8 862.1" stroke="#c81414" stroke-width="1.5"/>
<path d="M298.4 862.1L306.9 862.1" stroke="#c81414" stroke-width="1.5"/>
<path d="M252.8 862.1L259 862.1" stroke="#000" stroke-width="1.3"/>
<path d="M292.2 862.1L298.4 862.1" stroke="#000" stroke-width="1.3"/>
<path d="M242 928.7L252.8 928.7" stroke="#c81414" stroke-width="1.5"/>
<path d="M298.4 928.7L306.9 928.7" stroke="#c81414" stroke-width="1.5"/>
<path d="M252.8 928.7L259 928.7" stroke="#000" stroke-width="1.3"/>
<path d="M292.2 928.7L298.4 928.7" stroke="#000" stroke-width="1.3"/>
<text transform="translate(251 868.3) scale(0.85 1)" font-size="6.4" text-anchor="end" fill="#c81414" stroke="#c81414" stroke-width="0.12">1</text>
<text transform="translate(300.2 868.3) scale(0.85 1)" font-size="6.4" fill="#c81414" stroke="#c81414" stroke-width="0.12">6</text>
<text transform="translate(251 934.9) scale(0.85 1)" font-size="6.4" text-anchor="end" fill="#c81414" stroke="#c81414" stroke-width="0.12">3</text>
<text transform="translate(300.2 934.9) scale(0.85 1)" font-size="6.4" fill="#c81414" stroke="#c81414" stroke-width="0.12">4</text>
<circle cx="239.7" cy="928.7" r="2.3" fill="#1ecb1e"/>
<circle cx="311.5" cy="928.7" r="2.3" fill="#1ecb1e"/>
<path d="M239.7 928.7L239.7 944.4L253.5 944.4" stroke="#1ecb1e" stroke-width="1.5" fill="none"/>
<path d="M296.8 944.4L311.5 944.4L311.5 928.7" stroke="#1ecb1e" stroke-width="1.5" fill="none"/>
<path d="M253.5 944.4L264.5 944.4" stroke="#c81414" stroke-width="1.5"/>
<path d="M286.7 944.4L296.8 944.4" stroke="#c81414" stroke-width="1.5"/>
<rect x="264.5" y="938.9" width="22.2" height="11" stroke="#111" stroke-width="1.2" fill="#fff"/>
<text transform="translate(263.3 950.4) scale(0.85 1)" font-size="6.4" text-anchor="end" fill="#c81414" stroke="#c81414" stroke-width="0.12">2</text>
<text transform="translate(288.2 950.4) scale(0.85 1)" font-size="6.4" fill="#c81414" stroke="#c81414" stroke-width="0.12">1</text>
<text transform="translate(262.9 959.4) scale(0.78 1)" font-size="12.7">JP6</text>
<path d="M312.5 862.1L318.8 862.1" stroke="#c81414" stroke-width="1.5"/>
<path d="M323.8 862.1L332.9 862.1" stroke="#c81414" stroke-width="1.5"/>
<path d="M318.8 854.9L318.8 869.7" stroke="#000" stroke-width="2.2"/>
<path d="M323.8 854.9L323.8 869.7" stroke="#000" stroke-width="2.2"/>
<text transform="translate(316.6 868.3) scale(0.85 1)" font-size="6.4" text-anchor="end" fill="#c81414" stroke="#c81414" stroke-width="0.12">2</text>
<text transform="translate(326 868.3) scale(0.85 1)" font-size="6.4" fill="#c81414" stroke="#c81414" stroke-width="0.12">1</text>
<path d="M327.1 869.4L331.1 869.4" stroke="#222" stroke-width="0.8"/>
<path d="M329.1 867.4L329.1 871.4" stroke="#222" stroke-width="0.8"/>
<text transform="translate(313.4 850.2) scale(0.78 1)" font-size="12.7">C9</text>
<text transform="translate(310.9 881) scale(0.78 1)" font-size="12.7">10µF</text>
<path d="M332.9 862.1L342.3 862.1" stroke="#1ecb1e" stroke-width="1.5" fill="none"/>
<path d="M342.3 862.1L353.3 862.1" stroke="#c81414" stroke-width="1.5"/>
<path d="M353.3 856.4L420.9 856.4L426.1 862.1L420.9 867.8L353.3 867.8Z" stroke="#111" stroke-width="1.5" fill="#fff"/>
<text transform="translate(358.8 864.5)" font-size="6.55" fill="#111" stroke="#111" stroke-width="0.08">AUDIO_TX_LINK</text>
<path d="M126.4 698.7L167.2 698.7" stroke="#1ecb1e" stroke-width="1.5" fill="none"/>
<circle cx="132" cy="698.7" r="2.3" fill="#1ecb1e"/>
<path d="M132 698.7L132 709.7L136.7 709.7" stroke="#1ecb1e" stroke-width="1.5" fill="none"/>
<path d="M136.7 721.3L133.6 721.3L133.6 774L349.5 774" stroke="#1ecb1e" stroke-width="1.5" fill="none"/>
<path d="M127.9 743.3L133.6 743.3" stroke="#1ecb1e" stroke-width="1.5" fill="none"/>
<circle cx="133.6" cy="743.3" r="2.3" fill="#1ecb1e"/>
<path d="M349.5 774L358.9 774" stroke="#c81414" stroke-width="1.5"/>
<path d="M364.1 768.3L428.1 768.3L433.3 774L428.1 779.7L364.1 779.7L358.9 774Z" stroke="#111" stroke-width="1.5" fill="#fff"/>
<text transform="translate(396.1 776.4)" font-size="6.55" text-anchor="middle" fill="#111" stroke="#111" stroke-width="0.08">GND_RPTER</text>
<rect x="70.8" y="687.7" width="44.6" height="67.2" stroke="#222" stroke-width="1.3" fill="#fff"/>
<text transform="translate(69.9 684.2) scale(0.95 1)" font-size="12.7">Jack 3,5mm</text>
<path d="M115.4 698.7L126.4 698.7" stroke="#c81414" stroke-width="1.5"/>
<text transform="translate(113.4 702.5) scale(0.8 1)" font-size="10.2" text-anchor="end">Pin5</text>
<text transform="translate(116.8 704.9) scale(0.85 1)" font-size="6.4" fill="#c81414" stroke="#c81414" stroke-width="0.12">5</text>
<path d="M115.4 709.7L127.9 709.7" stroke="#c81414" stroke-width="1.5"/>
<text transform="translate(113.4 713.5) scale(0.8 1)" font-size="10.2" text-anchor="end">Pin4</text>
<text transform="translate(116.8 715.9) scale(0.85 1)" font-size="6.4" fill="#c81414" stroke="#c81414" stroke-width="0.12">4</text>
<path d="M115.4 721.3L127.9 721.3" stroke="#c81414" stroke-width="1.5"/>
<text transform="translate(113.4 725.1) scale(0.8 1)" font-size="10.2" text-anchor="end">Pin3</text>
<text transform="translate(116.8 727.5) scale(0.85 1)" font-size="6.4" fill="#c81414" stroke="#c81414" stroke-width="0.12">3</text>
<path d="M115.4 732.3L127.9 732.3" stroke="#c81414" stroke-width="1.5"/>
<text transform="translate(113.4 736.1) scale(0.8 1)" font-size="10.2" text-anchor="end">Pin2</text>
<text transform="translate(116.8 738.5) scale(0.85 1)" font-size="6.4" fill="#c81414" stroke="#c81414" stroke-width="0.12">2</text>
<path d="M115.4 743.3L127.9 743.3" stroke="#c81414" stroke-width="1.5"/>
<text transform="translate(113.4 747.1) scale(0.8 1)" font-size="10.2" text-anchor="end">Pin1</text>
<text transform="translate(116.8 749.5) scale(0.85 1)" font-size="6.4" fill="#c81414" stroke="#c81414" stroke-width="0.12">1</text>
<text transform="translate(103.1 764.3) scale(0.78 1)" font-size="12.7">J8</text>
<path d="M136.7 709.7L147.1 709.7" stroke="#c81414" stroke-width="1.5"/>
<text transform="translate(145.7 715.6) scale(0.85 1)" font-size="6.4" text-anchor="end" fill="#c81414" stroke="#c81414" stroke-width="0.12">1</text>
<path d="M136.7 721.3L147.1 721.3" stroke="#c81414" stroke-width="1.5"/>
<text transform="translate(145.7 727.2) scale(0.85 1)" font-size="6.4" text-anchor="end" fill="#c81414" stroke="#c81414" stroke-width="0.12">2</text>
<rect x="147.1" y="704.7" width="11" height="22" stroke="#111" stroke-width="1.5" fill="#fff"/>
<text transform="translate(146.8 738.6) scale(0.78 1)" font-size="12.7">J9</text>
<path d="M167.2 698.7L179.8 698.7" stroke="#c81414" stroke-width="1.5"/>
<path d="M184.9 698.7L198.5 698.7" stroke="#c81414" stroke-width="1.5"/>
<path d="M179.8 690.9L179.8 707.2" stroke="#000" stroke-width="2.2"/>
<path d="M184.9 690.9L184.9 707.2" stroke="#000" stroke-width="2.2"/>
<text transform="translate(177.6 704.9) scale(0.85 1)" font-size="6.4" text-anchor="end" fill="#c81414" stroke="#c81414" stroke-width="0.12">2</text>
<text transform="translate(187.1 704.9) scale(0.85 1)" font-size="6.4" fill="#c81414" stroke="#c81414" stroke-width="0.12">1</text>
<path d="M188.3 706L192.3 706" stroke="#222" stroke-width="0.8"/>
<path d="M190.3 704L190.3 708" stroke="#222" stroke-width="0.8"/>
<text transform="translate(176.6 685.9) scale(0.78 1)" font-size="12.7">C6</text>
<text transform="translate(172.2 718.2) scale(0.78 1)" font-size="12.7">10µF</text>
<path d="M198.5 698.7L209.8 698.7L209.8 764.3L222.4 764.3" stroke="#1ecb1e" stroke-width="1.5" fill="none"/>
<path d="M241.9 721.3L241.9 689.3L254.4 689.3" stroke="#1ecb1e" stroke-width="1.5" fill="none"/>
<circle cx="241.9" cy="707.2" r="2.3" fill="#1ecb1e"/>
<path d="M241.9 763.7L241.9 791L254.4 791" stroke="#1ecb1e" stroke-width="1.5" fill="none"/>
<circle cx="241.9" cy="774" r="2.3" fill="#1ecb1e"/>
<path d="M241.9 707.2L243.8 707.2" stroke="#1ecb1e" stroke-width="1.5" fill="none"/>
<path d="M241.9 721.3L241.9 731.7" stroke="#c81414" stroke-width="1.5"/>
<path d="M241.9 752.7L241.9 763.7" stroke="#c81414" stroke-width="1.5"/>
<rect x="236.1" y="731.7" width="11.6" height="21" stroke="#111" stroke-width="1.2" fill="#fff"/>
<text transform="translate(243.7 729.4) scale(0.85 1)" font-size="6.4" fill="#c81414" stroke="#c81414" stroke-width="0.12">1</text>
<text transform="translate(243.7 758.9) scale(0.85 1)" font-size="6.4" fill="#c81414" stroke="#c81414" stroke-width="0.12">3</text>
<path d="M236.3 742.3L225.7 740L225.7 744.6Z" stroke="#111" stroke-width="0.3" fill="#111"/>
<path d="M226.2 742.3L222.4 742.3" stroke="#111" stroke-width="1.2"/>
<path d="M222.4 742.3L222.4 755.3" stroke="#111" stroke-width="1.2"/>
<path d="M222.4 755.3L222.4 764.3" stroke="#c81414" stroke-width="1.5"/>
<text transform="translate(223.6 761.3) scale(0.85 1)" font-size="6.4" fill="#c81414" stroke="#c81414" stroke-width="0.12">2</text>
<text transform="translate(235.9 740.4) rotate(-90) scale(0.78 1)" font-size="12.7">R15</text>
<text transform="translate(235.9 764.7) rotate(-90) scale(0.78 1)" font-size="12.7">10K</text>
<path d="M296.8 689.3L310.3 689.3L310.3 707.2" stroke="#1ecb1e" stroke-width="1.5" fill="none"/>
<path d="M308.7 707.2L314.1 707.2" stroke="#1ecb1e" stroke-width="1.5" fill="none"/>
<circle cx="310.3" cy="707.2" r="2.3" fill="#1ecb1e"/>
<path d="M254.4 689.3L264.8 689.3" stroke="#c81414" stroke-width="1.5"/>
<path d="M286.7 689.3L296.8 689.3" stroke="#c81414" stroke-width="1.5"/>
<rect x="264.8" y="683.8" width="21.9" height="11" stroke="#111" stroke-width="1.2" fill="#fff"/>
<text transform="translate(263.6 695.3) scale(0.85 1)" font-size="6.4" text-anchor="end" fill="#c81414" stroke="#c81414" stroke-width="0.12">1</text>
<text transform="translate(288.2 695.3) scale(0.85 1)" font-size="6.4" fill="#c81414" stroke="#c81414" stroke-width="0.12">2</text>
<text transform="translate(265.4 682.1) scale(0.78 1)" font-size="12.7">JP3</text>
<rect x="254.4" y="698.4" width="44.9" height="84.1" stroke="#000" stroke-width="1.2" fill="#fff" stroke-dasharray="3.2 1.8"/>
<rect x="260.4" y="706.8" width="11" height="67.6" fill="#000"/>
<rect x="283" y="706.8" width="10.7" height="67.6" fill="#000"/>
<rect x="275.3" y="701.5" width="3.6" height="78" fill="#000"/>
<text transform="translate(307.8 748) scale(0.78 1)" font-size="12.7">Tr2</text>
<text transform="translate(307.8 762.3) scale(0.78 1)" font-size="12.7">ETAL P1200</text>
<path d="M243.8 707.2L254.4 707.2" stroke="#c81414" stroke-width="1.5"/>
<path d="M299.3 707.2L308.7 707.2" stroke="#c81414" stroke-width="1.5"/>
<path d="M254.4 707.2L260.6 707.2" stroke="#000" stroke-width="1.3"/>
<path d="M293.8 707.2L299.3 707.2" stroke="#000" stroke-width="1.3"/>
<path d="M243.8 774L254.4 774" stroke="#c81414" stroke-width="1.5"/>
<path d="M299.3 774L308.7 774" stroke="#c81414" stroke-width="1.5"/>
<path d="M254.4 774L260.6 774" stroke="#000" stroke-width="1.3"/>
<path d="M293.8 774L299.3 774" stroke="#000" stroke-width="1.3"/>
<text transform="translate(252.6 713.4) scale(0.85 1)" font-size="6.4" text-anchor="end" fill="#c81414" stroke="#c81414" stroke-width="0.12">1</text>
<text transform="translate(301.1 713.4) scale(0.85 1)" font-size="6.4" fill="#c81414" stroke="#c81414" stroke-width="0.12">6</text>
<text transform="translate(252.6 780.2) scale(0.85 1)" font-size="6.4" text-anchor="end" fill="#c81414" stroke="#c81414" stroke-width="0.12">3</text>
<text transform="translate(301.1 780.2) scale(0.85 1)" font-size="6.4" fill="#c81414" stroke="#c81414" stroke-width="0.12">4</text>
<circle cx="310.3" cy="774" r="2.3" fill="#1ecb1e"/>
<path d="M296.8 791L310.3 791L310.3 774" stroke="#1ecb1e" stroke-width="1.5" fill="none"/>
<path d="M254.4 791L264.8 791" stroke="#c81414" stroke-width="1.5"/>
<path d="M286.7 791L296.8 791" stroke="#c81414" stroke-width="1.5"/>
<rect x="264.8" y="785.5" width="21.9" height="11" stroke="#111" stroke-width="1.2" fill="#fff"/>
<text transform="translate(263.6 797) scale(0.85 1)" font-size="6.4" text-anchor="end" fill="#c81414" stroke="#c81414" stroke-width="0.12">2</text>
<text transform="translate(288.2 797) scale(0.85 1)" font-size="6.4" fill="#c81414" stroke="#c81414" stroke-width="0.12">1</text>
<text transform="translate(262.9 806.7) scale(0.78 1)" font-size="12.7">JP4</text>
<path d="M314.1 707.2L323.3 707.2" stroke="#c81414" stroke-width="1.5"/>
<path d="M328.6 707.2L340.7 707.2" stroke="#c81414" stroke-width="1.5"/>
<path d="M323.3 698.7L323.3 715.7" stroke="#000" stroke-width="2.2"/>
<path d="M328.6 698.7L328.6 715.7" stroke="#000" stroke-width="2.2"/>
<text transform="translate(321.1 713.4) scale(0.85 1)" font-size="6.4" text-anchor="end" fill="#c81414" stroke="#c81414" stroke-width="0.12">2</text>
<text transform="translate(330.8 713.4) scale(0.85 1)" font-size="6.4" fill="#c81414" stroke="#c81414" stroke-width="0.12">1</text>
<path d="M332 714.2L336 714.2" stroke="#222" stroke-width="0.8"/>
<path d="M334 712.2L334 716.2" stroke="#222" stroke-width="0.8"/>
<text transform="translate(320.3 694.6) scale(0.78 1)" font-size="12.7">C7</text>
<text transform="translate(316.3 727) scale(0.78 1)" font-size="12.7">10µF</text>
<path d="M340.7 707.2L349.5 707.2" stroke="#1ecb1e" stroke-width="1.5" fill="none"/>
<path d="M349.5 707.2L358.9 707.2" stroke="#c81414" stroke-width="1.5"/>
<path d="M433.3 701.5L364.1 701.5L358.9 707.2L364.1 712.9L433.3 712.9Z" stroke="#111" stroke-width="1.5" fill="#fff"/>
<text transform="translate(428.3 709.6)" font-size="6.55" text-anchor="end" fill="#111" stroke="#111" stroke-width="0.08">AUDIO_RX_RPTER</text>
<circle cx="187.6" cy="774" r="2.3" fill="#1ecb1e"/>
<path d="M187.6 774L187.6 796.6" stroke="#1ecb1e" stroke-width="1.5" fill="none"/>
<path d="M187.6 796.6L187.6 806.7" stroke="#c81414" stroke-width="1.5"/>
<path d="M179.8 807.8L196.2 807.8" stroke="#000" stroke-width="2.8"/>
<path d="M123.5 1010.9L167.2 1010.9" stroke="#1ecb1e" stroke-width="1.5" fill="none"/>
<circle cx="129.5" cy="1010.9" r="2.3" fill="#1ecb1e"/>
<path d="M129.5 1010.9L129.5 1028.2L135.1 1028.2" stroke="#1ecb1e" stroke-width="1.5" fill="none"/>
<path d="M135.1 1039.2L129.5 1039.2L129.5 1088.8L346.4 1088.8" stroke="#1ecb1e" stroke-width="1.5" fill="none"/>
<path d="M125 1055.8L129.5 1055.8" stroke="#1ecb1e" stroke-width="1.5" fill="none"/>
<circle cx="129.5" cy="1055.8" r="2.3" fill="#1ecb1e"/>
<path d="M346.4 1088.8L356.4 1088.8" stroke="#c81414" stroke-width="1.5"/>
<path d="M361.6 1083.1L422.8 1083.1L428 1088.8L422.8 1094.5L361.6 1094.5L356.4 1088.8Z" stroke="#111" stroke-width="1.5" fill="#fff"/>
<text transform="translate(392.2 1091.2)" font-size="6.55" text-anchor="middle" fill="#111" stroke="#111" stroke-width="0.08">GND_LINK</text>
<rect x="67.7" y="999.9" width="44.8" height="66.9" stroke="#222" stroke-width="1.3" fill="#fff"/>
<text transform="translate(67 996.7) scale(0.95 1)" font-size="12.7">Jack 3,5mm</text>
<path d="M112.5 1010.9L123.5 1010.9" stroke="#c81414" stroke-width="1.5"/>
<text transform="translate(110.5 1014.7) scale(0.8 1)" font-size="10.2" text-anchor="end">Pin5</text>
<text transform="translate(113.9 1017.1) scale(0.85 1)" font-size="6.4" fill="#c81414" stroke="#c81414" stroke-width="0.12">5</text>
<path d="M112.5 1022.2L125 1022.2" stroke="#c81414" stroke-width="1.5"/>
<text transform="translate(110.5 1026) scale(0.8 1)" font-size="10.2" text-anchor="end">Pin4</text>
<text transform="translate(113.9 1028.4) scale(0.85 1)" font-size="6.4" fill="#c81414" stroke="#c81414" stroke-width="0.12">4</text>
<path d="M112.5 1033.2L125 1033.2" stroke="#c81414" stroke-width="1.5"/>
<text transform="translate(110.5 1037) scale(0.8 1)" font-size="10.2" text-anchor="end">Pin3</text>
<text transform="translate(113.9 1039.4) scale(0.85 1)" font-size="6.4" fill="#c81414" stroke="#c81414" stroke-width="0.12">3</text>
<path d="M112.5 1044.2L125 1044.2" stroke="#c81414" stroke-width="1.5"/>
<text transform="translate(110.5 1048) scale(0.8 1)" font-size="10.2" text-anchor="end">Pin2</text>
<text transform="translate(113.9 1050.4) scale(0.85 1)" font-size="6.4" fill="#c81414" stroke="#c81414" stroke-width="0.12">2</text>
<path d="M112.5 1055.8L125 1055.8" stroke="#c81414" stroke-width="1.5"/>
<text transform="translate(110.5 1059.6) scale(0.8 1)" font-size="10.2" text-anchor="end">Pin1</text>
<text transform="translate(113.9 1062) scale(0.85 1)" font-size="6.4" fill="#c81414" stroke="#c81414" stroke-width="0.12">1</text>
<text transform="translate(99.7 1077.8) scale(0.78 1)" font-size="12.7">J14</text>
<path d="M135.1 1028.2L144.6 1028.2" stroke="#c81414" stroke-width="1.5"/>
<text transform="translate(143.2 1034.1) scale(0.85 1)" font-size="6.4" text-anchor="end" fill="#c81414" stroke="#c81414" stroke-width="0.12">1</text>
<path d="M135.1 1039.2L144.6 1039.2" stroke="#c81414" stroke-width="1.5"/>
<text transform="translate(143.2 1045.1) scale(0.85 1)" font-size="6.4" text-anchor="end" fill="#c81414" stroke="#c81414" stroke-width="0.12">2</text>
<rect x="144.6" y="1022.2" width="11.6" height="22.6" stroke="#111" stroke-width="1.5" fill="#fff"/>
<text transform="translate(142.4 1054.9) scale(0.78 1)" font-size="12.7">J15</text>
<path d="M167.2 1010.9L178.8 1010.9" stroke="#c81414" stroke-width="1.5"/>
<path d="M183.8 1010.9L197.3 1010.9" stroke="#c81414" stroke-width="1.5"/>
<path d="M178.8 1003.4L178.8 1019.1" stroke="#000" stroke-width="2.2"/>
<path d="M183.8 1003.4L183.8 1019.1" stroke="#000" stroke-width="2.2"/>
<text transform="translate(176.6 1017.1) scale(0.85 1)" font-size="6.4" text-anchor="end" fill="#c81414" stroke="#c81414" stroke-width="0.12">2</text>
<text transform="translate(186 1017.1) scale(0.85 1)" font-size="6.4" fill="#c81414" stroke="#c81414" stroke-width="0.12">1</text>
<path d="M187.2 1017.9L191.2 1017.9" stroke="#222" stroke-width="0.8"/>
<path d="M189.2 1015.9L189.2 1019.9" stroke="#222" stroke-width="0.8"/>
<text transform="translate(171.2 1000.9) scale(0.78 1)" font-size="12.7">C10</text>
<text transform="translate(171.2 1029.1) scale(0.78 1)" font-size="12.7">10µF</text>
<path d="M197.3 1010.9L208.9 1010.9L208.9 1077.8L219.9 1077.8" stroke="#1ecb1e" stroke-width="1.5" fill="none"/>
<path d="M239.4 1033.8L239.4 1006.5L253.5 1006.5" stroke="#1ecb1e" stroke-width="1.5" fill="none"/>
<circle cx="239.4" cy="1022.2" r="2.3" fill="#1ecb1e"/>
<path d="M239.4 1076.8L239.4 1104.5L253.5 1104.5" stroke="#1ecb1e" stroke-width="1.5" fill="none"/>
<circle cx="239.4" cy="1088.8" r="2.3" fill="#1ecb1e"/>
<path d="M239.4 1022.2L242 1022.2" stroke="#1ecb1e" stroke-width="1.5" fill="none"/>
<path d="M239.4 1033.8L239.4 1044.8" stroke="#c81414" stroke-width="1.5"/>
<path d="M239.4 1066.8L239.4 1076.8" stroke="#c81414" stroke-width="1.5"/>
<rect x="233.6" y="1044.8" width="11.6" height="22" stroke="#111" stroke-width="1.2" fill="#fff"/>
<text transform="translate(241.2 1042.5) scale(0.85 1)" font-size="6.4" fill="#c81414" stroke="#c81414" stroke-width="0.12">1</text>
<text transform="translate(241.2 1073) scale(0.85 1)" font-size="6.4" fill="#c81414" stroke="#c81414" stroke-width="0.12">3</text>
<path d="M233.8 1055.8L223.2 1053.5L223.2 1058.1Z" stroke="#111" stroke-width="0.3" fill="#111"/>
<path d="M223.7 1055.8L219.9 1055.8" stroke="#111" stroke-width="1.2"/>
<path d="M219.9 1055.8L219.9 1068.8" stroke="#111" stroke-width="1.2"/>
<path d="M219.9 1068.8L219.9 1077.8" stroke="#c81414" stroke-width="1.5"/>
<text transform="translate(221.1 1074.8) scale(0.85 1)" font-size="6.4" fill="#c81414" stroke="#c81414" stroke-width="0.12">2</text>
<text transform="translate(231.5 1049.5) rotate(-90) scale(0.78 1)" font-size="12.7">R18</text>
<text transform="translate(231.5 1076.4) rotate(-90) scale(0.78 1)" font-size="12.7">10K</text>
<path d="M296.2 1006.5L310.3 1006.5L310.3 1022.2" stroke="#1ecb1e" stroke-width="1.5" fill="none"/>
<path d="M307.5 1022.2L314.1 1022.2" stroke="#1ecb1e" stroke-width="1.5" fill="none"/>
<circle cx="310.3" cy="1022.2" r="2.3" fill="#1ecb1e"/>
<path d="M253.5 1006.5L264.5 1006.5" stroke="#c81414" stroke-width="1.5"/>
<path d="M285.2 1006.5L296.2 1006.5" stroke="#c81414" stroke-width="1.5"/>
<rect x="264.5" y="1001" width="20.7" height="11" stroke="#111" stroke-width="1.2" fill="#fff"/>
<text transform="translate(263.3 1012.5) scale(0.85 1)" font-size="6.4" text-anchor="end" fill="#c81414" stroke="#c81414" stroke-width="0.12">1</text>
<text transform="translate(286.7 1012.5) scale(0.85 1)" font-size="6.4" fill="#c81414" stroke="#c81414" stroke-width="0.12">2</text>
<text transform="translate(264.5 999.9) scale(0.78 1)" font-size="12.7">JP7</text>
<rect x="252.8" y="1013.4" width="45.6" height="83.8" stroke="#000" stroke-width="1.2" fill="#fff" stroke-dasharray="3.2 1.8"/>
<rect x="258.8" y="1021.8" width="11" height="67.4" fill="#000"/>
<rect x="281.4" y="1021.8" width="10.7" height="67.4" fill="#000"/>
<rect x="273.7" y="1016.5" width="3.6" height="77.7" fill="#000"/>
<text transform="translate(305.3 1063.7) scale(0.78 1)" font-size="12.7">Tr4</text>
<text transform="translate(305.3 1078) scale(0.78 1)" font-size="12.7">ETAL P1200</text>
<path d="M242 1022.2L252.8 1022.2" stroke="#c81414" stroke-width="1.5"/>
<path d="M298.4 1022.2L307.5 1022.2" stroke="#c81414" stroke-width="1.5"/>
<path d="M252.8 1022.2L259 1022.2" stroke="#000" stroke-width="1.3"/>
<path d="M292.2 1022.2L298.4 1022.2" stroke="#000" stroke-width="1.3"/>
<path d="M242 1088.8L252.8 1088.8" stroke="#c81414" stroke-width="1.5"/>
<path d="M298.4 1088.8L307.5 1088.8" stroke="#c81414" stroke-width="1.5"/>
<path d="M252.8 1088.8L259 1088.8" stroke="#000" stroke-width="1.3"/>
<path d="M292.2 1088.8L298.4 1088.8" stroke="#000" stroke-width="1.3"/>
<text transform="translate(251 1028.4) scale(0.85 1)" font-size="6.4" text-anchor="end" fill="#c81414" stroke="#c81414" stroke-width="0.12">1</text>
<text transform="translate(300.2 1028.4) scale(0.85 1)" font-size="6.4" fill="#c81414" stroke="#c81414" stroke-width="0.12">6</text>
<text transform="translate(251 1095) scale(0.85 1)" font-size="6.4" text-anchor="end" fill="#c81414" stroke="#c81414" stroke-width="0.12">3</text>
<text transform="translate(300.2 1095) scale(0.85 1)" font-size="6.4" fill="#c81414" stroke="#c81414" stroke-width="0.12">4</text>
<circle cx="311.5" cy="1088.8" r="2.3" fill="#1ecb1e"/>
<path d="M296.2 1104.5L311.5 1104.5L311.5 1088.8" stroke="#1ecb1e" stroke-width="1.5" fill="none"/>
<path d="M253.5 1104.5L264.5 1104.5" stroke="#c81414" stroke-width="1.5"/>
<path d="M285.2 1104.5L296.2 1104.5" stroke="#c81414" stroke-width="1.5"/>
<rect x="264.5" y="1099" width="20.7" height="11" stroke="#111" stroke-width="1.2" fill="#fff"/>
<text transform="translate(263.3 1110.5) scale(0.85 1)" font-size="6.4" text-anchor="end" fill="#c81414" stroke="#c81414" stroke-width="0.12">2</text>
<text transform="translate(286.7 1110.5) scale(0.85 1)" font-size="6.4" fill="#c81414" stroke="#c81414" stroke-width="0.12">1</text>
<text transform="translate(262.9 1119.5) scale(0.78 1)" font-size="12.7">JP8</text>
<path d="M314.1 1022.2L324.8 1022.2" stroke="#c81414" stroke-width="1.5"/>
<path d="M330.1 1022.2L340.7 1022.2" stroke="#c81414" stroke-width="1.5"/>
<path d="M324.8 1014.1L324.8 1030.7" stroke="#000" stroke-width="2.2"/>
<path d="M330.1 1014.1L330.1 1030.7" stroke="#000" stroke-width="2.2"/>
<text transform="translate(322.6 1028.4) scale(0.85 1)" font-size="6.4" text-anchor="end" fill="#c81414" stroke="#c81414" stroke-width="0.12">2</text>
<text transform="translate(332.3 1028.4) scale(0.85 1)" font-size="6.4" fill="#c81414" stroke="#c81414" stroke-width="0.12">1</text>
<path d="M333.5 1029.2L337.5 1029.2" stroke="#222" stroke-width="0.8"/>
<path d="M335.5 1027.2L335.5 1031.2" stroke="#222" stroke-width="0.8"/>
<text transform="translate(317.2 1010.9) scale(0.78 1)" font-size="12.7">C11</text>
<text transform="translate(315.6 1041.7) scale(0.78 1)" font-size="12.7">10µF</text>
<path d="M340.7 1022.2L346.4 1022.2" stroke="#1ecb1e" stroke-width="1.5" fill="none"/>
<path d="M346.4 1022.2L356.4 1022.2" stroke="#c81414" stroke-width="1.5"/>
<path d="M429.2 1016.5L361.6 1016.5L356.4 1022.2L361.6 1027.9L429.2 1027.9Z" stroke="#111" stroke-width="1.5" fill="#fff"/>
<text transform="translate(424.2 1024.6)" font-size="6.55" text-anchor="end" fill="#111" stroke="#111" stroke-width="0.08">AUDIO_RX_LINK</text>
<circle cx="186.3" cy="1088.8" r="2.3" fill="#1ecb1e"/>
<path d="M186.3 1088.8L186.3 1110.7" stroke="#1ecb1e" stroke-width="1.5" fill="none"/>
<path d="M186.3 1110.7L186.3 1122.9" stroke="#c81414" stroke-width="1.5"/>
<path d="M178.5 1124L195 1124" stroke="#000" stroke-width="2.8"/>
<text x="478.2" y="452.6" font-size="26.2" textLength="148.4" lengthAdjust="spacingAndGlyphs">WATCHDOG</text>
<path d="M477.7 455.4L627.1 455.4" stroke="#000" stroke-width="1.3"/>
<text transform="translate(628 462) scale(0.85 1)" font-size="5.9" text-anchor="end" fill="#4a4aff" font-style="italic">(Optional)</text>
<path d="M607.3 492L607.3 502.7" stroke="#c81414" stroke-width="1.5"/>
<path d="M607.3 502.7L607.3 508.5" stroke="#e020e0" stroke-width="1.5"/>
<path d="M607.3 508.5L607.3 557.5" stroke="#1ecb1e" stroke-width="1.5" fill="none"/>
<circle cx="607.3" cy="486.2" r="5.6" fill="#fff" stroke="#111" stroke-width="1.2"/>
<path d="M604.1 486.2L610.5 486.2" stroke="#111" stroke-width="1.3"/>
<path d="M607.3 483L607.3 489.4" stroke="#111" stroke-width="1.3"/>
<text transform="translate(615.3 489) scale(0.8 1)" font-size="10" fill="#222">+3,3V</text>
<path d="M526.6 510.6L704.8 510.6" stroke="#1ecb1e" stroke-width="1.5" fill="none"/>
<circle cx="554.1" cy="510.6" r="2.3" fill="#1ecb1e"/>
<circle cx="583.3" cy="510.6" r="2.3" fill="#1ecb1e"/>
<circle cx="607.3" cy="510.6" r="2.3" fill="#1ecb1e"/>
<circle cx="671.2" cy="510.6" r="2.3" fill="#1ecb1e"/>
<path d="M526.6 510.6L526.6 522.6" stroke="#c81414" stroke-width="1.5"/>
<path d="M526.6 544.2L526.6 554.9" stroke="#c81414" stroke-width="1.5"/>
<rect x="520.8" y="522.6" width="11.6" height="21.6" stroke="#111" stroke-width="1.2" fill="#fff"/>
<text transform="translate(528.2 520.3) scale(0.85 1)" font-size="6.4" fill="#c81414" stroke="#c81414" stroke-width="0.12">2</text>
<text transform="translate(528.2 550.5) scale(0.85 1)" font-size="6.4" fill="#c81414" stroke="#c81414" stroke-width="0.12">1</text>
<text transform="translate(518.2 544) rotate(-90) scale(0.78 1)" font-size="12.7">JP9</text>
<path d="M554.1 510.6L554.1 522.6" stroke="#c81414" stroke-width="1.5"/>
<path d="M554.1 544.2L554.1 554.9" stroke="#c81414" stroke-width="1.5"/>
<rect x="548.3" y="522.6" width="11.6" height="21.6" stroke="#111" stroke-width="1.2" fill="#fff"/>
<text transform="translate(555.7 520.3) scale(0.85 1)" font-size="6.4" fill="#c81414" stroke="#c81414" stroke-width="0.12">2</text>
<text transform="translate(555.7 550.5) scale(0.85 1)" font-size="6.4" fill="#c81414" stroke="#c81414" stroke-width="0.12">1</text>
<text transform="translate(546.2 544) rotate(-90) scale(0.78 1)" font-size="12.7">JP10</text>
<path d="M583.3 510.6L583.3 522.6" stroke="#c81414" stroke-width="1.5"/>
<path d="M583.3 544.2L583.3 554.9" stroke="#c81414" stroke-width="1.5"/>
<rect x="577.5" y="522.6" width="11.6" height="21.6" stroke="#111" stroke-width="1.2" fill="#fff"/>
<text transform="translate(584.9 520.3) scale(0.85 1)" font-size="6.4" fill="#c81414" stroke="#c81414" stroke-width="0.12">2</text>
<text transform="translate(584.9 550.5) scale(0.85 1)" font-size="6.4" fill="#c81414" stroke="#c81414" stroke-width="0.12">1</text>
<text transform="translate(575.7 544) rotate(-90) scale(0.78 1)" font-size="12.7">JP11</text>
<path d="M526.6 554.9L526.6 621.1L563 621.1" stroke="#1ecb1e" stroke-width="1.5" fill="none"/>
<path d="M554.1 554.9L554.1 599L563 599" stroke="#1ecb1e" stroke-width="1.5" fill="none"/>
<path d="M583.3 554.9L562.7 554.9L562.7 576.1" stroke="#1ecb1e" stroke-width="1.5" fill="none"/>
<path d="M563 576.1L573.7 576.1" stroke="#c81414" stroke-width="1.5"/>
<text transform="translate(572.5 582.1) scale(0.85 1)" font-size="6.4" text-anchor="end" fill="#c81414" stroke="#c81414" stroke-width="0.12">4</text>
<path d="M563 599L573.7 599" stroke="#c81414" stroke-width="1.5"/>
<text transform="translate(572.5 605) scale(0.85 1)" font-size="6.4" text-anchor="end" fill="#c81414" stroke="#c81414" stroke-width="0.12">6</text>
<path d="M563 621.1L573.7 621.1" stroke="#c81414" stroke-width="1.5"/>
<text transform="translate(572.5 627.1) scale(0.85 1)" font-size="6.4" text-anchor="end" fill="#c81414" stroke="#c81414" stroke-width="0.12">5</text>
<path d="M607.3 557.5L607.3 565.6" stroke="#c81414" stroke-width="1.5"/>
<text transform="translate(609 563.5) scale(0.85 1)" font-size="6.4" fill="#c81414" stroke="#c81414" stroke-width="0.12">8</text>
<path d="M607.3 632.1L607.3 642.8" stroke="#c81414" stroke-width="1.5"/>
<text transform="translate(609 638.5) scale(0.85 1)" font-size="6.4" fill="#c81414" stroke="#c81414" stroke-width="0.12">1</text>
<rect x="573.7" y="565.6" width="67.4" height="66.5" stroke="#111" stroke-width="1.3" fill="#fff"/>
<text transform="translate(577.5 579.9) scale(0.8 1)" font-size="10.6">SET0</text>
<text transform="translate(577.5 602) scale(0.8 1)" font-size="10.6">SET2</text>
<text transform="translate(577.5 624.4) scale(0.8 1)" font-size="10.6">SET1</text>
<text transform="translate(636.5 579.9) scale(0.8 1)" font-size="10.6" text-anchor="end">WDO</text>
<path d="M617.5 571.2L636.5 571.2" stroke="#111" stroke-width="0.9"/>
<text transform="translate(636.5 602) scale(0.8 1)" font-size="10.6" text-anchor="end">OUT</text>
<text transform="translate(636.5 624.4) scale(0.8 1)" font-size="10.6" text-anchor="end">GND</text>
<text transform="translate(610 584.2) rotate(-90) scale(0.8 1)" font-size="9.4">VCC</text>
<text transform="translate(610 630) rotate(-90) scale(0.8 1)" font-size="9.4">WDI</text>
<text transform="translate(622.8 562.6) scale(0.78 1)" font-size="12.7">IC5</text>
<text transform="translate(615.7 642.8) scale(0.78 1)" font-size="12.7">MAX6369</text>
<circle cx="644.2" cy="576.1" r="3" fill="#fff" stroke="#c81414" stroke-width="1.2"/>
<path d="M647.2 576.1L651.3 576.1" stroke="#c81414" stroke-width="1.5"/>
<text transform="translate(648.5 582) scale(0.85 1)" font-size="6.4" fill="#c81414" stroke="#c81414" stroke-width="0.12">7</text>
<path d="M651.3 576.1L707.3 576.1" stroke="#1ecb1e" stroke-width="1.5" fill="none"/>
<circle cx="704.8" cy="576.1" r="2.3" fill="#1ecb1e"/>
<path d="M641.1 599L651.8 599" stroke="#c81414" stroke-width="1.5"/>
<text transform="translate(642.8 605) scale(0.85 1)" font-size="6.4" fill="#c81414" stroke="#c81414" stroke-width="0.12">3</text>
<path d="M641.1 621.1L651.8 621.1" stroke="#c81414" stroke-width="1.5"/>
<text transform="translate(642.8 627) scale(0.85 1)" font-size="6.4" fill="#c81414" stroke="#c81414" stroke-width="0.12">2</text>
<path d="M651.8 621.1L708.6 621.1" stroke="#1ecb1e" stroke-width="1.5" fill="none"/>
<circle cx="671.2" cy="621.1" r="2.3" fill="#1ecb1e"/>
<circle cx="706" cy="621.1" r="2.3" fill="#1ecb1e"/>
<path d="M607.3 642.8L607.3 657.3L591.5 657.3" stroke="#1ecb1e" stroke-width="1.5" fill="none"/>
<path d="M591.5 657.3L580.8 657.3" stroke="#c81414" stroke-width="1.5"/>
<path d="M526 651.6L575.6 651.6L580.8 657.3L575.6 663L526 663Z" stroke="#111" stroke-width="1.5" fill="#fff"/>
<text transform="translate(532.4 659.7)" font-size="6.55" fill="#111" stroke="#111" stroke-width="0.08">RPI_WDOG</text>
<path d="M671.2 510.6L671.2 519.3" stroke="#1ecb1e" stroke-width="1.5" fill="none"/>
<path d="M671.2 552.4L671.2 621.1" stroke="#1ecb1e" stroke-width="1.5" fill="none"/>
<path d="M671.2 519.3L671.2 533" stroke="#c81414" stroke-width="1.5"/>
<path d="M671.2 538.8L671.2 552.4" stroke="#c81414" stroke-width="1.5"/>
<path d="M663.3 533L679.3 533" stroke="#000" stroke-width="2.2"/>
<path d="M663.3 538.8L679.3 538.8" stroke="#000" stroke-width="2.2"/>
<text transform="translate(673 530.4) scale(0.85 1)" font-size="6.4" fill="#c81414" stroke="#c81414" stroke-width="0.12">1</text>
<text transform="translate(673 545.8) scale(0.85 1)" font-size="6.4" fill="#c81414" stroke="#c81414" stroke-width="0.12">2</text>
<path d="M676.2 528.2L679.8 528.2" stroke="#222" stroke-width="0.8"/>
<path d="M678 526.4L678 530" stroke="#222" stroke-width="0.8"/>
<text transform="translate(659.5 534.6) rotate(-90) scale(0.78 1)" font-size="12.7">C14</text>
<text transform="translate(659.5 567.1) rotate(-90) scale(0.78 1)" font-size="12.7">0,1µF</text>
<path d="M704.8 510.6L704.8 523.3" stroke="#c81414" stroke-width="1.5"/>
<path d="M704.8 545.5L704.8 557.5" stroke="#c81414" stroke-width="1.5"/>
<rect x="699.1" y="523.3" width="11.4" height="22.2" stroke="#111" stroke-width="1.2" fill="#fff"/>
<text transform="translate(706.3 521.1) scale(0.85 1)" font-size="6.4" fill="#c81414" stroke="#c81414" stroke-width="0.12">1</text>
<text transform="translate(706.3 551.5) scale(0.85 1)" font-size="6.4" fill="#c81414" stroke="#c81414" stroke-width="0.12">2</text>
<text transform="translate(696.6 544.3) rotate(-90) scale(0.78 1)" font-size="12.7">R22</text>
<text transform="translate(722.1 544.3) rotate(-90) scale(0.78 1)" font-size="12.7">10K</text>
<path d="M704.8 557.5L704.8 576.1" stroke="#1ecb1e" stroke-width="1.5" fill="none"/>
<path d="M707.3 576.1L718.8 576.1" stroke="#c81414" stroke-width="1.5"/>
<text transform="translate(717.4 582) scale(0.85 1)" font-size="6.4" text-anchor="end" fill="#c81414" stroke="#c81414" stroke-width="0.12">1</text>
<path d="M707.3 587.5L718.8 587.5" stroke="#c81414" stroke-width="1.5"/>
<text transform="translate(717.4 593.4) scale(0.85 1)" font-size="6.4" text-anchor="end" fill="#c81414" stroke="#c81414" stroke-width="0.12">2</text>
<rect x="718.8" y="570.7" width="10.9" height="22.4" stroke="#111" stroke-width="1.5" fill="#fff"/>
<path d="M707.3 609.7L718.8 609.7" stroke="#c81414" stroke-width="1.5"/>
<text transform="translate(717.4 615.6) scale(0.85 1)" font-size="6.4" text-anchor="end" fill="#c81414" stroke="#c81414" stroke-width="0.12">1</text>
<path d="M707.3 621.1L718.8 621.1" stroke="#c81414" stroke-width="1.5"/>
<text transform="translate(717.4 627) scale(0.85 1)" font-size="6.4" text-anchor="end" fill="#c81414" stroke="#c81414" stroke-width="0.12">2</text>
<rect x="718.8" y="604.6" width="10.9" height="22.1" stroke="#111" stroke-width="1.5" fill="#fff"/>
<path d="M707.3 587.5L702.2 587.5L702.2 609.7L707.3 609.7" stroke="#1ecb1e" stroke-width="1.5" fill="none"/>
<text transform="translate(716.2 568.2) scale(0.78 1)" font-size="12.7">JP12</text>
<text transform="translate(716.2 637.7) scale(0.78 1)" font-size="12.7">J24</text>
<path d="M706 621.1L706 631.3" stroke="#1ecb1e" stroke-width="1.5" fill="none"/>
<path d="M706 631.3L706 642.8" stroke="#c81414" stroke-width="1.5"/>
<path d="M698 644.3L714.5 644.3" stroke="#000" stroke-width="2.8"/>
<text transform="translate(732.8 577.3) scale(0.95 1)" font-size="6.1" fill="#333">Jumper</text>
<text transform="translate(732.8 584.2) scale(0.95 1)" font-size="6.1" fill="#333">to en/disable</text>
<text transform="translate(732.8 610.9) scale(0.95 1)" font-size="6.1" fill="#333">Connect to 'RUN'</text>
<text transform="translate(732.8 617.8) scale(0.95 1)" font-size="6.1" fill="#333">or P6 on</text>
<text transform="translate(732.8 624.9) scale(0.95 1)" font-size="6.1" fill="#333">Raspberry Pi</text>
<text x="886.4" y="453.9" font-size="26.2" textLength="204.6" lengthAdjust="spacingAndGlyphs">CONVERTER A/D</text>
<path d="M885.9 456.7L1091.5 456.7" stroke="#000" stroke-width="1.3"/>
<text transform="translate(1093 463.8) scale(0.85 1)" font-size="5.9" text-anchor="end" fill="#4a4aff" font-style="italic">(Optional)</text>
<path d="M937.2 493.4L937.2 504.1" stroke="#c81414" stroke-width="1.5"/>
<path d="M937.2 504.1L937.2 519.4" stroke="#1ecb1e" stroke-width="1.5" fill="none"/>
<circle cx="937.2" cy="487.7" r="5.6" fill="#fff" stroke="#111" stroke-width="1.2"/>
<path d="M934 487.7L940.4 487.7" stroke="#111" stroke-width="1.3"/>
<path d="M937.2 484.5L937.2 490.9" stroke="#111" stroke-width="1.3"/>
<text transform="translate(945.2 490.5) scale(0.8 1)" font-size="10" fill="#222">+3,3V</text>
<path d="M892.6 519.4L903.9 519.4" stroke="#c81414" stroke-width="1.5"/>
<path d="M926.5 519.4L933.5 519.4" stroke="#c81414" stroke-width="1.5"/>
<rect x="903.9" y="513.7" width="22.6" height="11.4" stroke="#111" stroke-width="1.2" fill="#fff"/>
<text transform="translate(902.9 525.6) scale(0.85 1)" font-size="6.4" text-anchor="end" fill="#c81414" stroke="#c81414" stroke-width="0.12">2</text>
<text transform="translate(928 525.6) scale(0.85 1)" font-size="6.4" fill="#c81414" stroke="#c81414" stroke-width="0.12">1</text>
<path d="M933.5 519.4L940.6 519.4" stroke="#1ecb1e" stroke-width="1.5" fill="none"/>
<circle cx="937.2" cy="519.4" r="2.3" fill="#1ecb1e"/>
<path d="M940.6 519.4L947.6 519.4" stroke="#c81414" stroke-width="1.5"/>
<path d="M970.6 519.4L981.5 519.4" stroke="#c81414" stroke-width="1.5"/>
<rect x="947.6" y="513.7" width="23" height="11.4" stroke="#111" stroke-width="1.2" fill="#fff"/>
<text transform="translate(946.6 525.6) scale(0.85 1)" font-size="6.4" text-anchor="end" fill="#c81414" stroke="#c81414" stroke-width="0.12">2</text>
<text transform="translate(972.1 525.6) scale(0.85 1)" font-size="6.4" fill="#c81414" stroke="#c81414" stroke-width="0.12">1</text>
<text transform="translate(896.8 511.2) scale(0.78 1)" font-size="12.7">R23</text>
<text transform="translate(916 535.2) scale(0.78 1)" font-size="12.7">10</text>
<text transform="translate(954.1 511.2) scale(0.78 1)" font-size="12.7">R24</text>
<text transform="translate(949.6 535.2) scale(0.78 1)" font-size="12.7">10</text>
<path d="M981.5 519.4L990 519.4" stroke="#1ecb1e" stroke-width="1.5" fill="none"/>
<circle cx="990" cy="519.4" r="2.3" fill="#1ecb1e"/>
<path d="M990 572.4L990 509.5L1071.2 509.5" stroke="#1ecb1e" stroke-width="1.5" fill="none"/>
<circle cx="1023.8" cy="509.5" r="2.3" fill="#1ecb1e"/>
<path d="M990 572.4L997 572.4" stroke="#1ecb1e" stroke-width="1.5" fill="none"/>
<path d="M892.6 519.4L892.6 552.7" stroke="#1ecb1e" stroke-width="1.5" fill="none"/>
<path d="M892.6 586.5L892.6 675.4L1165.8 675.4L1165.8 586.5" stroke="#1ecb1e" stroke-width="1.5" fill="none"/>
<circle cx="892.6" cy="541.9" r="2.3" fill="#1ecb1e"/>
<circle cx="892.6" cy="595" r="2.3" fill="#1ecb1e"/>
<path d="M892.6 541.9L967.9 541.9L967.9 583.5L997 583.5" stroke="#1ecb1e" stroke-width="1.5" fill="none"/>
<circle cx="930.1" cy="541.9" r="2.3" fill="#1ecb1e"/>
<path d="M892.6 595L997 595" stroke="#1ecb1e" stroke-width="1.5" fill="none"/>
<circle cx="930.1" cy="595" r="2.3" fill="#1ecb1e"/>
<path d="M930.1 541.9L930.1 552.7" stroke="#1ecb1e" stroke-width="1.5" fill="none"/>
<path d="M930.1 586.5L930.1 595" stroke="#1ecb1e" stroke-width="1.5" fill="none"/>
<path d="M892.6 552.7L892.6 567.1" stroke="#c81414" stroke-width="1.5"/>
<path d="M892.6 572.7L892.6 586.5" stroke="#c81414" stroke-width="1.5"/>
<path d="M884.1 567.1L901 567.1" stroke="#000" stroke-width="2.2"/>
<path d="M884.1 572.7L901 572.7" stroke="#000" stroke-width="2.2"/>
<text transform="translate(894.4 564.5) scale(0.85 1)" font-size="6.4" fill="#c81414" stroke="#c81414" stroke-width="0.12">1</text>
<text transform="translate(894.4 579.7) scale(0.85 1)" font-size="6.4" fill="#c81414" stroke="#c81414" stroke-width="0.12">2</text>
<path d="M898.7 559.7L902.3 559.7" stroke="#222" stroke-width="0.8"/>
<path d="M900.5 557.9L900.5 561.5" stroke="#222" stroke-width="0.8"/>
<path d="M930.1 552.7L930.1 567.1" stroke="#c81414" stroke-width="1.5"/>
<path d="M930.1 572.7L930.1 586.5" stroke="#c81414" stroke-width="1.5"/>
<path d="M922.2 567.1L938.6 567.1" stroke="#000" stroke-width="2.2"/>
<path d="M922.2 572.7L938.6 572.7" stroke="#000" stroke-width="2.2"/>
<text transform="translate(931.9 564.5) scale(0.85 1)" font-size="6.4" fill="#c81414" stroke="#c81414" stroke-width="0.12">1</text>
<text transform="translate(931.9 579.7) scale(0.85 1)" font-size="6.4" fill="#c81414" stroke="#c81414" stroke-width="0.12">2</text>
<path d="M935.4 560.3L939 560.3" stroke="#222" stroke-width="0.8"/>
<path d="M937.2 558.5L937.2 562.1" stroke="#222" stroke-width="0.8"/>
<text transform="translate(909.5 592) rotate(-90) scale(0.78 1)" font-size="12.7">C17</text>
<text transform="translate(909.5 565.3) rotate(-90) scale(0.78 1)" font-size="12.7">1µF</text>
<text transform="translate(949 592) rotate(-90) scale(0.78 1)" font-size="12.7">C18</text>
<text transform="translate(949 568.6) rotate(-90) scale(0.78 1)" font-size="12.7">0,1µF</text>
<path d="M1023.8 509.5L1023.8 524.2" stroke="#c81414" stroke-width="1.5"/>
<path d="M1023.8 529.6L1023.8 543.3" stroke="#c81414" stroke-width="1.5"/>
<path d="M1015.4 524.2L1032.3 524.2" stroke="#000" stroke-width="2.2"/>
<path d="M1015.4 529.6L1032.3 529.6" stroke="#000" stroke-width="2.2"/>
<text transform="translate(1025.6 521.6) scale(0.85 1)" font-size="6.4" fill="#c81414" stroke="#c81414" stroke-width="0.12">1</text>
<text transform="translate(1025.6 536.6) scale(0.85 1)" font-size="6.4" fill="#c81414" stroke="#c81414" stroke-width="0.12">2</text>
<path d="M1028.2 517.9L1031.8 517.9" stroke="#222" stroke-width="0.8"/>
<path d="M1030 516.1L1030 519.7" stroke="#222" stroke-width="0.8"/>
<path d="M1071.2 509.5L1071.2 524.2" stroke="#c81414" stroke-width="1.5"/>
<path d="M1071.2 529.6L1071.2 543.3" stroke="#c81414" stroke-width="1.5"/>
<path d="M1062.8 524.2L1079.7 524.2" stroke="#000" stroke-width="2.2"/>
<path d="M1062.8 529.6L1079.7 529.6" stroke="#000" stroke-width="2.2"/>
<text transform="translate(1073 521.6) scale(0.85 1)" font-size="6.4" fill="#c81414" stroke="#c81414" stroke-width="0.12">1</text>
<text transform="translate(1073 536.6) scale(0.85 1)" font-size="6.4" fill="#c81414" stroke="#c81414" stroke-width="0.12">2</text>
<path d="M1075.7 517.9L1079.3 517.9" stroke="#222" stroke-width="0.8"/>
<path d="M1077.5 516.1L1077.5 519.7" stroke="#222" stroke-width="0.8"/>
<path d="M1023.8 543.3L1071.2 543.3" stroke="#1ecb1e" stroke-width="1.5" fill="none"/>
<path d="M1047.2 543.3L1047.2 554.9" stroke="#c81414" stroke-width="1.5"/>
<path d="M1039 555.6L1055.5 555.6" stroke="#000" stroke-width="2.8"/>
<text transform="translate(1013.1 534.3) rotate(-90) scale(0.78 1)" font-size="12.7">C15</text>
<text transform="translate(1044.1 538.5) rotate(-90) scale(0.78 1)" font-size="12.7">0,1µF</text>
<text transform="translate(1061.1 534.3) rotate(-90) scale(0.78 1)" font-size="12.7">C16</text>
<text transform="translate(1091.6 538.5) rotate(-90) scale(0.78 1)" font-size="12.7">0,1µF</text>
<path d="M997 572.4L1006.9 572.4" stroke="#c81414" stroke-width="1.5"/>
<text transform="translate(1005.5 578.4) scale(0.85 1)" font-size="6.4" text-anchor="end" fill="#c81414" stroke="#c81414" stroke-width="0.12">14</text>
<path d="M1085.4 572.4L1095.8 572.4" stroke="#c81414" stroke-width="1.5"/>
<text transform="translate(1087 578.4) scale(0.85 1)" font-size="6.4" fill="#c81414" stroke="#c81414" stroke-width="0.12">1</text>
<path d="M997 583.5L1006.9 583.5" stroke="#c81414" stroke-width="1.5"/>
<text transform="translate(1005.5 589.5) scale(0.85 1)" font-size="6.4" text-anchor="end" fill="#c81414" stroke="#c81414" stroke-width="0.12">13</text>
<path d="M1085.4 583.5L1095.8 583.5" stroke="#c81414" stroke-width="1.5"/>
<text transform="translate(1087 589.5) scale(0.85 1)" font-size="6.4" fill="#c81414" stroke="#c81414" stroke-width="0.12">2</text>
<path d="M997 594.6L1006.9 594.6" stroke="#c81414" stroke-width="1.5"/>
<text transform="translate(1005.5 600.6) scale(0.85 1)" font-size="6.4" text-anchor="end" fill="#c81414" stroke="#c81414" stroke-width="0.12">12</text>
<path d="M1085.4 594.6L1095.8 594.6" stroke="#c81414" stroke-width="1.5"/>
<text transform="translate(1087 600.6) scale(0.85 1)" font-size="6.4" fill="#c81414" stroke="#c81414" stroke-width="0.12">3</text>
<path d="M997 605.7L1006.9 605.7" stroke="#c81414" stroke-width="1.5"/>
<text transform="translate(1005.5 611.7) scale(0.85 1)" font-size="6.4" text-anchor="end" fill="#c81414" stroke="#c81414" stroke-width="0.12">11</text>
<path d="M1085.4 605.7L1095.8 605.7" stroke="#c81414" stroke-width="1.5"/>
<text transform="translate(1087 611.7) scale(0.85 1)" font-size="6.4" fill="#c81414" stroke="#c81414" stroke-width="0.12">4</text>
<path d="M997 616.8L1006.9 616.8" stroke="#c81414" stroke-width="1.5"/>
<text transform="translate(1005.5 622.8) scale(0.85 1)" font-size="6.4" text-anchor="end" fill="#c81414" stroke="#c81414" stroke-width="0.12">10</text>
<path d="M1085.4 616.8L1095.8 616.8" stroke="#c81414" stroke-width="1.5"/>
<text transform="translate(1087 622.8) scale(0.85 1)" font-size="6.4" fill="#c81414" stroke="#c81414" stroke-width="0.12">5</text>
<path d="M997 627.9L1006.9 627.9" stroke="#c81414" stroke-width="1.5"/>
<text transform="translate(1005.5 633.9) scale(0.85 1)" font-size="6.4" text-anchor="end" fill="#c81414" stroke="#c81414" stroke-width="0.12">9</text>
<path d="M1085.4 627.9L1095.8 627.9" stroke="#c81414" stroke-width="1.5"/>
<text transform="translate(1087 633.9) scale(0.85 1)" font-size="6.4" fill="#c81414" stroke="#c81414" stroke-width="0.12">6</text>
<path d="M997 639L1006.9 639" stroke="#c81414" stroke-width="1.5"/>
<text transform="translate(1005.5 645) scale(0.85 1)" font-size="6.4" text-anchor="end" fill="#c81414" stroke="#c81414" stroke-width="0.12">8</text>
<path d="M1085.4 639L1095.8 639" stroke="#c81414" stroke-width="1.5"/>
<text transform="translate(1087 645) scale(0.85 1)" font-size="6.4" fill="#c81414" stroke="#c81414" stroke-width="0.12">7</text>
<rect x="1006.9" y="561.7" width="78.5" height="88.3" stroke="#111" stroke-width="1.3" fill="#fff"/>
<text transform="translate(1009.1 576.1) scale(0.8 1)" font-size="9.9">VDD</text>
<text transform="translate(1009.1 587.2) scale(0.8 1)" font-size="9.9">VREF</text>
<text transform="translate(1009.1 598.3) scale(0.8 1)" font-size="9.9">AGND</text>
<text transform="translate(1018.2 609.4) scale(0.8 1)" font-size="9.9">CLK</text>
<text transform="translate(1009.1 620.5) scale(0.8 1)" font-size="9.9">DOUT</text>
<text transform="translate(1009.1 631.6) scale(0.8 1)" font-size="9.9">DIN</text>
<text transform="translate(1009.1 642.7) scale(0.8 1)" font-size="9.9">CS/SHDN</text>
<text transform="translate(1082.6 576) scale(0.8 1)" font-size="9.9" text-anchor="end">CH0</text>
<text transform="translate(1082.6 587.1) scale(0.8 1)" font-size="9.9" text-anchor="end">CH1</text>
<text transform="translate(1082.6 598.2) scale(0.8 1)" font-size="9.9" text-anchor="end">CH2</text>
<text transform="translate(1082.6 609.3) scale(0.8 1)" font-size="9.9" text-anchor="end">CH3</text>
<text transform="translate(1082.6 620.4) scale(0.8 1)" font-size="9.9" text-anchor="end">NC</text>
<text transform="translate(1082.6 631.5) scale(0.8 1)" font-size="9.9" text-anchor="end">NC</text>
<text transform="translate(1082.6 642.6) scale(0.8 1)" font-size="9.9" text-anchor="end">DGND</text>
<path d="M1007.5 601.7L1015.9 605.7L1007.5 609.7" stroke="#c81414" stroke-width="1.2" fill="none"/>
<path d="M1009.1 634.4L1018 634.4" stroke="#111" stroke-width="0.9"/>
<text transform="translate(1085.9 558.3) scale(0.78 1)" font-size="12.7">IC7</text>
<text transform="translate(1021 660.8) scale(0.78 1)" font-size="12.7">MCP3204</text>
<path d="M962.6 605.7L973 605.7" stroke="#c81414" stroke-width="1.5"/>
<path d="M973 605.7L997 605.7" stroke="#1ecb1e" stroke-width="1.5" fill="none"/>
<path d="M962.6 600.2L917 600.2L911.8 605.7L917 611.2L962.6 611.2Z" stroke="#111" stroke-width="1.5" fill="#fff"/>
<text transform="translate(960.5 609) scale(0.86 1)" font-size="9.3" text-anchor="end" fill="#111" stroke="#111" stroke-width="0.08">SCLK</text>
<path d="M962.6 616.8L973 616.8" stroke="#c81414" stroke-width="1.5"/>
<path d="M973 616.8L997 616.8" stroke="#1ecb1e" stroke-width="1.5" fill="none"/>
<path d="M962.6 611.3L917 611.3L911.8 616.8L917 622.3L962.6 622.3Z" stroke="#111" stroke-width="1.5" fill="#fff"/>
<text transform="translate(960.5 620.1) scale(0.86 1)" font-size="9.3" text-anchor="end" fill="#111" stroke="#111" stroke-width="0.08">MISO</text>
<path d="M962.6 627.9L973 627.9" stroke="#c81414" stroke-width="1.5"/>
<path d="M973 627.9L997 627.9" stroke="#1ecb1e" stroke-width="1.5" fill="none"/>
<path d="M962.6 622.4L917 622.4L911.8 627.9L917 633.4L962.6 633.4Z" stroke="#111" stroke-width="1.5" fill="#fff"/>
<text transform="translate(960.5 631.2) scale(0.86 1)" font-size="9.3" text-anchor="end" fill="#111" stroke="#111" stroke-width="0.08">MOSI</text>
<path d="M962.6 639L973 639" stroke="#c81414" stroke-width="1.5"/>
<path d="M973 639L997 639" stroke="#1ecb1e" stroke-width="1.5" fill="none"/>
<path d="M962.6 633.5L917 633.5L911.8 639L917 644.5L962.6 644.5Z" stroke="#111" stroke-width="1.5" fill="#fff"/>
<text transform="translate(960.5 642.3) scale(0.86 1)" font-size="9.3" text-anchor="end" fill="#111" stroke="#111" stroke-width="0.08">CS-0</text>
<path d="M1095.8 572.4L1141 572.4L1141 542.8L1165.8 542.8" stroke="#1ecb1e" stroke-width="1.5" fill="none"/>
<path d="M1095.8 583.5L1178.2 583.5L1178.2 542.8L1201.6 542.8" stroke="#1ecb1e" stroke-width="1.5" fill="none"/>
<circle cx="1201.6" cy="542.8" r="2.3" fill="#1ecb1e"/>
<path d="M1095.8 594.6L1214.3 594.6L1214.3 541.9L1236.9 541.9" stroke="#1ecb1e" stroke-width="1.5" fill="none"/>
<circle cx="1236.9" cy="541.9" r="2.3" fill="#1ecb1e"/>
<path d="M1095.8 605.7L1249.6 605.7L1249.6 541.9L1272.8 541.9" stroke="#1ecb1e" stroke-width="1.5" fill="none"/>
<circle cx="1272.8" cy="541.9" r="2.3" fill="#1ecb1e"/>
<path d="M1165.8 496.2L1165.8 506.9" stroke="#c81414" stroke-width="1.5"/>
<path d="M1165.8 529.5L1165.8 538.5" stroke="#c81414" stroke-width="1.5"/>
<rect x="1160.1" y="506.9" width="11.4" height="22.6" stroke="#111" stroke-width="1.2" fill="#fff"/>
<text transform="translate(1167.4 504.5) scale(0.85 1)" font-size="6.4" fill="#c81414" stroke="#c81414" stroke-width="0.12">2</text>
<text transform="translate(1167.4 535.5) scale(0.85 1)" font-size="6.4" fill="#c81414" stroke="#c81414" stroke-width="0.12">1</text>
<path d="M1165.8 538.5L1165.8 547" stroke="#1ecb1e" stroke-width="1.5" fill="none"/>
<path d="M1165.8 547L1165.8 554.1" stroke="#c81414" stroke-width="1.5"/>
<path d="M1165.8 576.6L1165.8 587.1" stroke="#c81414" stroke-width="1.5"/>
<rect x="1160.1" y="554.1" width="11.4" height="22.5" stroke="#111" stroke-width="1.2" fill="#fff"/>
<text transform="translate(1167.4 551.7) scale(0.85 1)" font-size="6.4" fill="#c81414" stroke="#c81414" stroke-width="0.12">2</text>
<text transform="translate(1167.4 582.6) scale(0.85 1)" font-size="6.4" fill="#c81414" stroke="#c81414" stroke-width="0.12">1</text>
<path d="M1165.8 587.1L1165.8 616.8" stroke="#1ecb1e" stroke-width="1.5" fill="none"/>
<circle cx="1165.8" cy="616.8" r="2.3" fill="#1ecb1e"/>
<text transform="translate(1157.9 529.2) rotate(-90) scale(0.78 1)" font-size="12.7">R25</text>
<text transform="translate(1157.9 507.4) rotate(-90) scale(0.78 1)" font-size="12.7">0K</text>
<text transform="translate(1157.9 580.3) rotate(-90) scale(0.78 1)" font-size="12.7">R26</text>
<text transform="translate(1157.9 558.4) rotate(-90) scale(0.78 1)" font-size="12.7">0K</text>
<path d="M1201.6 496.2L1201.6 506.9" stroke="#c81414" stroke-width="1.5"/>
<path d="M1201.6 529.5L1201.6 538.5" stroke="#c81414" stroke-width="1.5"/>
<rect x="1195.9" y="506.9" width="11.4" height="22.6" stroke="#111" stroke-width="1.2" fill="#fff"/>
<text transform="translate(1203.2 504.5) scale(0.85 1)" font-size="6.4" fill="#c81414" stroke="#c81414" stroke-width="0.12">2</text>
<text transform="translate(1203.2 535.5) scale(0.85 1)" font-size="6.4" fill="#c81414" stroke="#c81414" stroke-width="0.12">1</text>
<path d="M1201.6 538.5L1201.6 547" stroke="#1ecb1e" stroke-width="1.5" fill="none"/>
<path d="M1201.6 547L1201.6 554.1" stroke="#c81414" stroke-width="1.5"/>
<path d="M1201.6 576.6L1201.6 587.1" stroke="#c81414" stroke-width="1.5"/>
<rect x="1195.9" y="554.1" width="11.4" height="22.5" stroke="#111" stroke-width="1.2" fill="#fff"/>
<text transform="translate(1203.2 551.7) scale(0.85 1)" font-size="6.4" fill="#c81414" stroke="#c81414" stroke-width="0.12">2</text>
<text transform="translate(1203.2 582.6) scale(0.85 1)" font-size="6.4" fill="#c81414" stroke="#c81414" stroke-width="0.12">1</text>
<path d="M1201.6 587.1L1201.6 616.8" stroke="#1ecb1e" stroke-width="1.5" fill="none"/>
<circle cx="1201.6" cy="616.8" r="2.3" fill="#1ecb1e"/>
<text transform="translate(1194 529.2) rotate(-90) scale(0.78 1)" font-size="12.7">R27</text>
<text transform="translate(1194 507.4) rotate(-90) scale(0.78 1)" font-size="12.7">0K</text>
<text transform="translate(1194 580.3) rotate(-90) scale(0.78 1)" font-size="12.7">R28</text>
<text transform="translate(1194 558.4) rotate(-90) scale(0.78 1)" font-size="12.7">0K</text>
<path d="M1236.9 496.2L1236.9 506.9" stroke="#c81414" stroke-width="1.5"/>
<path d="M1236.9 529.5L1236.9 538.5" stroke="#c81414" stroke-width="1.5"/>
<rect x="1231.2" y="506.9" width="11.4" height="22.6" stroke="#111" stroke-width="1.2" fill="#fff"/>
<text transform="translate(1238.5 504.5) scale(0.85 1)" font-size="6.4" fill="#c81414" stroke="#c81414" stroke-width="0.12">2</text>
<text transform="translate(1238.5 535.5) scale(0.85 1)" font-size="6.4" fill="#c81414" stroke="#c81414" stroke-width="0.12">1</text>
<path d="M1236.9 538.5L1236.9 547" stroke="#1ecb1e" stroke-width="1.5" fill="none"/>
<path d="M1236.9 547L1236.9 552.7" stroke="#c81414" stroke-width="1.5"/>
<path d="M1236.9 575.2L1236.9 585.7" stroke="#c81414" stroke-width="1.5"/>
<rect x="1231.2" y="552.7" width="11.4" height="22.5" stroke="#111" stroke-width="1.2" fill="#fff"/>
<text transform="translate(1238.5 550.3) scale(0.85 1)" font-size="6.4" fill="#c81414" stroke="#c81414" stroke-width="0.12">2</text>
<text transform="translate(1238.5 581.2) scale(0.85 1)" font-size="6.4" fill="#c81414" stroke="#c81414" stroke-width="0.12">1</text>
<path d="M1236.9 585.7L1236.9 616.8" stroke="#1ecb1e" stroke-width="1.5" fill="none"/>
<circle cx="1236.9" cy="616.8" r="2.3" fill="#1ecb1e"/>
<text transform="translate(1229 529.2) rotate(-90) scale(0.78 1)" font-size="12.7">R29</text>
<text transform="translate(1229 507.4) rotate(-90) scale(0.78 1)" font-size="12.7">0K</text>
<text transform="translate(1229 580.3) rotate(-90) scale(0.78 1)" font-size="12.7">R30</text>
<text transform="translate(1229 558.4) rotate(-90) scale(0.78 1)" font-size="12.7">0K</text>
<path d="M1272.8 496.2L1272.8 506.9" stroke="#c81414" stroke-width="1.5"/>
<path d="M1272.8 529.5L1272.8 538.5" stroke="#c81414" stroke-width="1.5"/>
<rect x="1267.1" y="506.9" width="11.4" height="22.6" stroke="#111" stroke-width="1.2" fill="#fff"/>
<text transform="translate(1274.4 504.5) scale(0.85 1)" font-size="6.4" fill="#c81414" stroke="#c81414" stroke-width="0.12">2</text>
<text transform="translate(1274.4 535.5) scale(0.85 1)" font-size="6.4" fill="#c81414" stroke="#c81414" stroke-width="0.12">1</text>
<path d="M1272.8 538.5L1272.8 547" stroke="#1ecb1e" stroke-width="1.5" fill="none"/>
<path d="M1272.8 547L1272.8 556.9" stroke="#c81414" stroke-width="1.5"/>
<path d="M1272.8 579.4L1272.8 589.9" stroke="#c81414" stroke-width="1.5"/>
<rect x="1267.1" y="556.9" width="11.4" height="22.5" stroke="#111" stroke-width="1.2" fill="#fff"/>
<text transform="translate(1274.4 554.5) scale(0.85 1)" font-size="6.4" fill="#c81414" stroke="#c81414" stroke-width="0.12">2</text>
<text transform="translate(1274.4 585.4) scale(0.85 1)" font-size="6.4" fill="#c81414" stroke="#c81414" stroke-width="0.12">1</text>
<path d="M1272.8 589.9L1272.8 616.8" stroke="#1ecb1e" stroke-width="1.5" fill="none"/>
<circle cx="1272.8" cy="616.8" r="2.3" fill="#1ecb1e"/>
<text transform="translate(1264.6 529.2) rotate(-90) scale(0.78 1)" font-size="12.7">R31</text>
<text transform="translate(1264.6 507.4) rotate(-90) scale(0.78 1)" font-size="12.7">0K</text>
<text transform="translate(1264.6 581.9) rotate(-90) scale(0.78 1)" font-size="12.7">R32</text>
<text transform="translate(1264.6 560) rotate(-90) scale(0.78 1)" font-size="12.7">0K</text>
<path d="M1165.8 616.8L1305.5 616.8" stroke="#1ecb1e" stroke-width="1.5" fill="none"/>
<path d="M1170.6 463.2L1165.8 463.2L1165.8 496.2" stroke="#1ecb1e" stroke-width="1.5" fill="none"/>
<path d="M1170.6 463.2L1180.5 463.2" stroke="#c81414" stroke-width="1.5"/>
<path d="M1247.4 457.5L1185.7 457.5L1180.5 463.2L1185.7 468.9L1247.4 468.9Z" stroke="#111" stroke-width="1.5" fill="#fff"/>
<text transform="translate(1243.4 465.6)" font-size="6.55" text-anchor="end" fill="#111" stroke="#111" stroke-width="0.08">SMETER_RPTER</text>
<path d="M1165.8 480.1L1299.6 480.1L1299.6 572.4L1305.5 572.4" stroke="#1ecb1e" stroke-width="1.5" fill="none"/>
<circle cx="1165.8" cy="480.1" r="2.3" fill="#1ecb1e"/>
<path d="M1255.8 463.2L1251 463.2L1251 485.8" stroke="#1ecb1e" stroke-width="1.5" fill="none"/>
<path d="M1255.8 463.2L1265.7 463.2" stroke="#c81414" stroke-width="1.5"/>
<circle cx="1251" cy="485.8" r="2.3" fill="#1ecb1e"/>
<path d="M1332 457.5L1270.9 457.5L1265.7 463.2L1270.9 468.9L1332 468.9Z" stroke="#111" stroke-width="1.5" fill="#fff"/>
<text transform="translate(1328.7 465.6)" font-size="6.55" text-anchor="end" fill="#111" stroke="#111" stroke-width="0.08">SMETER_LINK</text>
<path d="M1201.6 496.2L1201.6 485.8L1294.2 485.8L1294.2 583.5L1305.5 583.5" stroke="#1ecb1e" stroke-width="1.5" fill="none"/>
<path d="M1236.9 496.2L1236.9 491.4L1288.6 491.4L1288.6 594.6L1305.5 594.6" stroke="#1ecb1e" stroke-width="1.5" fill="none"/>
<path d="M1272.8 496.2L1272.8 495.6L1282.9 495.6L1282.9 605.7L1305.5 605.7" stroke="#1ecb1e" stroke-width="1.5" fill="none"/>
<path d="M1305.5 572.4L1316 572.4" stroke="#c81414" stroke-width="1.5"/>
<text transform="translate(1314.6 578.3) scale(0.85 1)" font-size="6.4" text-anchor="end" fill="#c81414" stroke="#c81414" stroke-width="0.12">1</text>
<path d="M1305.5 583.5L1316 583.5" stroke="#c81414" stroke-width="1.5"/>
<text transform="translate(1314.6 589.4) scale(0.85 1)" font-size="6.4" text-anchor="end" fill="#c81414" stroke="#c81414" stroke-width="0.12">2</text>
<path d="M1305.5 594.6L1316 594.6" stroke="#c81414" stroke-width="1.5"/>
<text transform="translate(1314.6 600.5) scale(0.85 1)" font-size="6.4" text-anchor="end" fill="#c81414" stroke="#c81414" stroke-width="0.12">3</text>
<path d="M1305.5 605.7L1316 605.7" stroke="#c81414" stroke-width="1.5"/>
<text transform="translate(1314.6 611.6) scale(0.85 1)" font-size="6.4" text-anchor="end" fill="#c81414" stroke="#c81414" stroke-width="0.12">4</text>
<path d="M1305.5 616.8L1316 616.8" stroke="#c81414" stroke-width="1.5"/>
<text transform="translate(1314.6 622.7) scale(0.85 1)" font-size="6.4" text-anchor="end" fill="#c81414" stroke="#c81414" stroke-width="0.12">5</text>
<rect x="1316" y="566.8" width="11.2" height="55.6" stroke="#111" stroke-width="1.5" fill="#fff"/>
<text transform="translate(1314 564) scale(0.78 1)" font-size="12.7">J25</text>
<path d="M1095.8 639L1143.2 639" stroke="#1ecb1e" stroke-width="1.5" fill="none"/>
<circle cx="1109.9" cy="639" r="2.3" fill="#1ecb1e"/>
<path d="M1109.9 639L1109.9 650" stroke="#1ecb1e" stroke-width="1.5" fill="none"/>
<path d="M1109.9 650L1109.9 661.3" stroke="#c81414" stroke-width="1.5"/>
<path d="M1101.8 662.4L1118.2 662.4" stroke="#000" stroke-width="2.8"/>
<path d="M1143.2 628.3L1143.2 639" stroke="#c81414" stroke-width="1.5"/>
<path d="M1154.5 628.3L1154.5 639" stroke="#c81414" stroke-width="1.5"/>
<path d="M1154.5 639L1165.8 639" stroke="#1ecb1e" stroke-width="1.5" fill="none"/>
<circle cx="1165.8" cy="639" r="2.3" fill="#1ecb1e"/>
<rect x="1137.6" y="617" width="23.1" height="11.3" stroke="#111" stroke-width="1.2" fill="#fff"/>
<text transform="translate(1145 635) scale(0.85 1)" font-size="6.4" fill="#c81414" stroke="#c81414" stroke-width="0.12">1</text>
<text transform="translate(1156.3 635) scale(0.85 1)" font-size="6.4" fill="#c81414" stroke="#c81414" stroke-width="0.12">2</text>
<text transform="translate(1113.6 626.6) scale(0.78 1)" font-size="12.7">JP13</text>
<rect x="1176.8" y="626.6" width="151" height="53.1" stroke="#e40000" stroke-width="1.1" fill="none" stroke-dasharray="1.8 1.2"/>
<text transform="translate(1179.6 638.7)" font-size="10.2" fill="#e40000">Warning</text>
<text transform="translate(1181.3 650) scale(1.03 1)" font-size="7.1" fill="#e40000">Not wiring J25/1</text>
<text transform="translate(1181.3 658.6) scale(1.03 1)" font-size="7.1" fill="#e40000">if Smeter on J6/3, J7/3 connected to RX</text>
<text transform="translate(1181.3 667.6) scale(1.03 1)" font-size="7.1" fill="#e40000">Not wiring J25/2</text>
<text transform="translate(1181.3 676.8) scale(1.03 1)" font-size="7.1" fill="#e40000">if Smeter on J10/3, J11/3 connected to LINK</text>
<rect x="1304.1" y="630.3" width="16.6" height="16.9" rx="2.6" fill="#c00000"/>
<rect x="1311.1" y="633" width="2.8" height="7.6" rx="1" fill="#fff"/><circle cx="1312.5" cy="643.3" r="1.5" fill="#fff"/>
<text x="1418.9" y="453.4" font-size="26.2" textLength="289.4" lengthAdjust="spacingAndGlyphs">OPTOCOUPLED INPUTS</text>
<path d="M1418.4 456.2L1708.8 456.2" stroke="#000" stroke-width="1.3"/>
<text transform="translate(1709.5 463.9) scale(0.85 1)" font-size="5.9" text-anchor="end" fill="#4a4aff" font-style="italic">(Optional)</text>
<path d="M1425.1 476.4L1425.1 486.8" stroke="#c81414" stroke-width="1.5"/>
<path d="M1425.1 486.8L1425.1 597.4L1429.3 597.4" stroke="#1ecb1e" stroke-width="1.5" fill="none"/>
<circle cx="1425.1" cy="470.7" r="5.6" fill="#fff" stroke="#111" stroke-width="1.2"/>
<path d="M1421.9 470.7L1428.3 470.7" stroke="#111" stroke-width="1.3"/>
<path d="M1425.1 467.5L1425.1 473.9" stroke="#111" stroke-width="1.3"/>
<text transform="translate(1433 468.2) scale(0.8 1)" font-size="10" fill="#222">+5V</text>
<path d="M1425.1 563.5L1429.3 563.5" stroke="#1ecb1e" stroke-width="1.5" fill="none"/>
<circle cx="1425.1" cy="563.5" r="2.3" fill="#1ecb1e"/>
<path d="M1425.1 575.1L1429.3 575.1" stroke="#1ecb1e" stroke-width="1.5" fill="none"/>
<circle cx="1425.1" cy="575.1" r="2.3" fill="#1ecb1e"/>
<path d="M1425.1 586.2L1429.3 586.2" stroke="#1ecb1e" stroke-width="1.5" fill="none"/>
<circle cx="1425.1" cy="586.2" r="2.3" fill="#1ecb1e"/>
<path d="M1429.3 608.7L1425.1 608.7L1425.1 622.8L1462.7 622.8" stroke="#1ecb1e" stroke-width="1.5" fill="none"/>
<path d="M1462.7 608.7L1462.7 659.2L1518.3 659.2" stroke="#1ecb1e" stroke-width="1.5" fill="none"/>
<circle cx="1462.7" cy="622.8" r="2.3" fill="#1ecb1e"/>
<path d="M1429.3 563.5L1440.4 563.5" stroke="#c81414" stroke-width="1.5"/>
<text transform="translate(1439 569.5) scale(0.85 1)" font-size="6.4" text-anchor="end" fill="#c81414" stroke="#c81414" stroke-width="0.12">1</text>
<path d="M1429.3 575.1L1440.4 575.1" stroke="#c81414" stroke-width="1.5"/>
<text transform="translate(1439 581.1) scale(0.85 1)" font-size="6.4" text-anchor="end" fill="#c81414" stroke="#c81414" stroke-width="0.12">3</text>
<path d="M1429.3 586.2L1440.4 586.2" stroke="#c81414" stroke-width="1.5"/>
<text transform="translate(1439 592.2) scale(0.85 1)" font-size="6.4" text-anchor="end" fill="#c81414" stroke="#c81414" stroke-width="0.12">5</text>
<path d="M1429.3 597.4L1440.4 597.4" stroke="#c81414" stroke-width="1.5"/>
<text transform="translate(1439 603.4) scale(0.85 1)" font-size="6.4" text-anchor="end" fill="#c81414" stroke="#c81414" stroke-width="0.12">7</text>
<path d="M1429.3 608.7L1440.4 608.7" stroke="#c81414" stroke-width="1.5"/>
<text transform="translate(1439 614.7) scale(0.85 1)" font-size="6.4" text-anchor="end" fill="#c81414" stroke="#c81414" stroke-width="0.12">9</text>
<path d="M1452 563.5L1462.7 563.5" stroke="#c81414" stroke-width="1.5"/>
<text transform="translate(1453.6 569.5) scale(0.85 1)" font-size="6.4" fill="#c81414" stroke="#c81414" stroke-width="0.12">2</text>
<path d="M1452 575.1L1462.7 575.1" stroke="#c81414" stroke-width="1.5"/>
<text transform="translate(1453.6 581.1) scale(0.85 1)" font-size="6.4" fill="#c81414" stroke="#c81414" stroke-width="0.12">4</text>
<path d="M1452 586.2L1462.7 586.2" stroke="#c81414" stroke-width="1.5"/>
<text transform="translate(1453.6 592.2) scale(0.85 1)" font-size="6.4" fill="#c81414" stroke="#c81414" stroke-width="0.12">6</text>
<path d="M1452 597.4L1462.7 597.4" stroke="#c81414" stroke-width="1.5"/>
<text transform="translate(1453.6 603.4) scale(0.85 1)" font-size="6.4" fill="#c81414" stroke="#c81414" stroke-width="0.12">8</text>
<path d="M1452 608.7L1462.7 608.7" stroke="#c81414" stroke-width="1.5"/>
<text transform="translate(1453.6 614.7) scale(0.85 1)" font-size="6.4" fill="#c81414" stroke="#c81414" stroke-width="0.12">10</text>
<rect x="1440.4" y="559" width="11.6" height="55.2" stroke="#111" stroke-width="1.3" fill="#fff"/>
<text transform="translate(1440.2 555.5) scale(0.78 1)" font-size="12.7">J26</text>
<rect x="1533.7" y="508.3" width="55.9" height="145" stroke="#111" stroke-width="1.3" fill="#fff"/>
<path d="M1533.7 519.7L1550.6 519.7L1550.6 541.9L1533.7 541.9" stroke="#111" stroke-width="1.3" fill="none"/>
<path d="M1544.7 524.8L1556.5 524.8L1550.6 536.2Z" stroke="#111" stroke-width="1.2" fill="#fff"/>
<path d="M1544.5 536.2L1556.7 536.2" stroke="#111" stroke-width="1.3"/>
<path d="M1550.6 519.7L1550.6 524.8" stroke="#111" stroke-width="1.3"/>
<path d="M1558.7 528L1564.5 528" stroke="#111" stroke-width="1.2"/>
<path d="M1569.5 528L1564.5 530.3L1564.5 525.7Z" stroke="#111" stroke-width="0.3" fill="#111"/>
<path d="M1558.7 533.5L1564.5 533.5" stroke="#111" stroke-width="1.2"/>
<path d="M1569.5 533.5L1564.5 535.8L1564.5 531.2Z" stroke="#111" stroke-width="0.3" fill="#111"/>
<path d="M1573 522.1L1573 539.7" stroke="#111" stroke-width="1.5"/>
<path d="M1573 526.8L1581.2 519.7L1589.6 519.7" stroke="#111" stroke-width="1.3" fill="none"/>
<path d="M1573 533.4L1581.2 541.9L1589.6 541.9" stroke="#111" stroke-width="1.3" fill="none"/>
<path d="M1575 525.1L1576.9 523.4" stroke="#111" stroke-width="1.2"/>
<path d="M1580.4 520.4L1578.3 525L1575.6 521.8Z" stroke="#111" stroke-width="0.3" fill="#111"/>
<path d="M1533.7 553.1L1550.6 553.1L1550.6 575.3L1533.7 575.3" stroke="#111" stroke-width="1.3" fill="none"/>
<path d="M1544.7 569.9L1556.5 569.9L1550.6 558.6Z" stroke="#111" stroke-width="1.2" fill="#fff"/>
<path d="M1544.5 558.6L1556.7 558.6" stroke="#111" stroke-width="1.3"/>
<path d="M1550.6 569.9L1550.6 575.3" stroke="#111" stroke-width="1.3"/>
<path d="M1558.7 561.4L1564.5 561.4" stroke="#111" stroke-width="1.2"/>
<path d="M1569.5 561.4L1564.5 563.7L1564.5 559.1Z" stroke="#111" stroke-width="0.3" fill="#111"/>
<path d="M1558.7 566.9L1564.5 566.9" stroke="#111" stroke-width="1.2"/>
<path d="M1569.5 566.9L1564.5 569.2L1564.5 564.6Z" stroke="#111" stroke-width="0.3" fill="#111"/>
<path d="M1573 555.5L1573 573.1" stroke="#111" stroke-width="1.5"/>
<path d="M1573 560.2L1581.2 553.1L1589.6 553.1" stroke="#111" stroke-width="1.3" fill="none"/>
<path d="M1573 566.8L1581.2 575.3L1589.6 575.3" stroke="#111" stroke-width="1.3" fill="none"/>
<path d="M1575 569.9L1576.9 571.6" stroke="#111" stroke-width="1.2"/>
<path d="M1580.4 574.6L1575.6 573.2L1578.3 570Z" stroke="#111" stroke-width="0.3" fill="#111"/>
<path d="M1533.7 586.4L1550.6 586.4L1550.6 608.6L1533.7 608.6" stroke="#111" stroke-width="1.3" fill="none"/>
<path d="M1544.7 591.5L1556.5 591.5L1550.6 602.9Z" stroke="#111" stroke-width="1.2" fill="#fff"/>
<path d="M1544.5 602.9L1556.7 602.9" stroke="#111" stroke-width="1.3"/>
<path d="M1550.6 586.4L1550.6 591.5" stroke="#111" stroke-width="1.3"/>
<path d="M1558.7 594.7L1564.5 594.7" stroke="#111" stroke-width="1.2"/>
<path d="M1569.5 594.7L1564.5 597L1564.5 592.4Z" stroke="#111" stroke-width="0.3" fill="#111"/>
<path d="M1558.7 600.2L1564.5 600.2" stroke="#111" stroke-width="1.2"/>
<path d="M1569.5 600.2L1564.5 602.5L1564.5 597.9Z" stroke="#111" stroke-width="0.3" fill="#111"/>
<path d="M1573 588.8L1573 606.4" stroke="#111" stroke-width="1.5"/>
<path d="M1573 593.5L1581.2 586.4L1589.6 586.4" stroke="#111" stroke-width="1.3" fill="none"/>
<path d="M1573 600.1L1581.2 608.6L1589.6 608.6" stroke="#111" stroke-width="1.3" fill="none"/>
<path d="M1575 591.8L1576.9 590.1" stroke="#111" stroke-width="1.2"/>
<path d="M1580.4 587.1L1578.3 591.7L1575.6 588.5Z" stroke="#111" stroke-width="0.3" fill="#111"/>
<path d="M1533.7 619.8L1550.6 619.8L1550.6 642L1533.7 642" stroke="#111" stroke-width="1.3" fill="none"/>
<path d="M1544.7 636.6L1556.5 636.6L1550.6 625.3Z" stroke="#111" stroke-width="1.2" fill="#fff"/>
<path d="M1544.5 625.3L1556.7 625.3" stroke="#111" stroke-width="1.3"/>
<path d="M1550.6 636.6L1550.6 642" stroke="#111" stroke-width="1.3"/>
<path d="M1558.7 628.1L1564.5 628.1" stroke="#111" stroke-width="1.2"/>
<path d="M1569.5 628.1L1564.5 630.4L1564.5 625.8Z" stroke="#111" stroke-width="0.3" fill="#111"/>
<path d="M1558.7 633.6L1564.5 633.6" stroke="#111" stroke-width="1.2"/>
<path d="M1569.5 633.6L1564.5 635.9L1564.5 631.3Z" stroke="#111" stroke-width="0.3" fill="#111"/>
<path d="M1573 622.2L1573 639.8" stroke="#111" stroke-width="1.5"/>
<path d="M1573 626.9L1581.2 619.8L1589.6 619.8" stroke="#111" stroke-width="1.3" fill="none"/>
<path d="M1573 633.5L1581.2 642L1589.6 642" stroke="#111" stroke-width="1.3" fill="none"/>
<path d="M1575 636.6L1576.9 638.3" stroke="#111" stroke-width="1.2"/>
<path d="M1580.4 641.3L1575.6 639.9L1578.3 636.7Z" stroke="#111" stroke-width="0.3" fill="#111"/>
<path d="M1522.9 519.7L1533.7 519.7" stroke="#c81414" stroke-width="1.5"/>
<text transform="translate(1532.2 525.6) scale(0.85 1)" font-size="6.4" text-anchor="end" fill="#c81414" stroke="#c81414" stroke-width="0.12">1</text>
<path d="M1589.6 519.7L1600.4 519.7" stroke="#c81414" stroke-width="1.5"/>
<text transform="translate(1591.4 525.6) scale(0.85 1)" font-size="6.4" fill="#c81414" stroke="#c81414" stroke-width="0.12">16</text>
<path d="M1522.9 541.9L1533.7 541.9" stroke="#c81414" stroke-width="1.5"/>
<text transform="translate(1532.2 547.8) scale(0.85 1)" font-size="6.4" text-anchor="end" fill="#c81414" stroke="#c81414" stroke-width="0.12">2</text>
<path d="M1589.6 541.9L1600.4 541.9" stroke="#c81414" stroke-width="1.5"/>
<text transform="translate(1591.4 547.8) scale(0.85 1)" font-size="6.4" fill="#c81414" stroke="#c81414" stroke-width="0.12">15</text>
<path d="M1522.9 553.1L1533.7 553.1" stroke="#c81414" stroke-width="1.5"/>
<text transform="translate(1532.2 559) scale(0.85 1)" font-size="6.4" text-anchor="end" fill="#c81414" stroke="#c81414" stroke-width="0.12">3</text>
<path d="M1589.6 553.1L1600.4 553.1" stroke="#c81414" stroke-width="1.5"/>
<text transform="translate(1591.4 559) scale(0.85 1)" font-size="6.4" fill="#c81414" stroke="#c81414" stroke-width="0.12">14</text>
<path d="M1522.9 575.3L1533.7 575.3" stroke="#c81414" stroke-width="1.5"/>
<text transform="translate(1532.2 581.2) scale(0.85 1)" font-size="6.4" text-anchor="end" fill="#c81414" stroke="#c81414" stroke-width="0.12">4</text>
<path d="M1589.6 575.3L1600.4 575.3" stroke="#c81414" stroke-width="1.5"/>
<text transform="translate(1591.4 581.2) scale(0.85 1)" font-size="6.4" fill="#c81414" stroke="#c81414" stroke-width="0.12">13</text>
<path d="M1522.9 586.4L1533.7 586.4" stroke="#c81414" stroke-width="1.5"/>
<text transform="translate(1532.2 592.3) scale(0.85 1)" font-size="6.4" text-anchor="end" fill="#c81414" stroke="#c81414" stroke-width="0.12">5</text>
<path d="M1589.6 586.4L1600.4 586.4" stroke="#c81414" stroke-width="1.5"/>
<text transform="translate(1591.4 592.3) scale(0.85 1)" font-size="6.4" fill="#c81414" stroke="#c81414" stroke-width="0.12">12</text>
<path d="M1522.9 608.6L1533.7 608.6" stroke="#c81414" stroke-width="1.5"/>
<text transform="translate(1532.2 614.5) scale(0.85 1)" font-size="6.4" text-anchor="end" fill="#c81414" stroke="#c81414" stroke-width="0.12">6</text>
<path d="M1589.6 608.6L1600.4 608.6" stroke="#c81414" stroke-width="1.5"/>
<text transform="translate(1591.4 614.5) scale(0.85 1)" font-size="6.4" fill="#c81414" stroke="#c81414" stroke-width="0.12">11</text>
<path d="M1522.9 619.8L1533.7 619.8" stroke="#c81414" stroke-width="1.5"/>
<text transform="translate(1532.2 625.7) scale(0.85 1)" font-size="6.4" text-anchor="end" fill="#c81414" stroke="#c81414" stroke-width="0.12">7</text>
<path d="M1589.6 619.8L1600.4 619.8" stroke="#c81414" stroke-width="1.5"/>
<text transform="translate(1591.4 625.7) scale(0.85 1)" font-size="6.4" fill="#c81414" stroke="#c81414" stroke-width="0.12">10</text>
<path d="M1522.9 642L1533.7 642" stroke="#c81414" stroke-width="1.5"/>
<text transform="translate(1532.2 647.9) scale(0.85 1)" font-size="6.4" text-anchor="end" fill="#c81414" stroke="#c81414" stroke-width="0.12">8</text>
<path d="M1589.6 642L1600.4 642" stroke="#c81414" stroke-width="1.5"/>
<text transform="translate(1591.4 647.9) scale(0.85 1)" font-size="6.4" fill="#c81414" stroke="#c81414" stroke-width="0.12">9</text>
<text transform="translate(1533.7 505.5) scale(0.78 1)" font-size="12.7">IC6</text>
<text transform="translate(1541.2 664.3) scale(0.78 1)" font-size="12.7">CNY74-4</text>
<path d="M1462.7 563.5L1468.1 563.5L1468.1 519.7L1474.3 519.7" stroke="#1ecb1e" stroke-width="1.5" fill="none"/>
<path d="M1474.3 519.7L1480.5 519.7" stroke="#c81414" stroke-width="1.5"/>
<path d="M1503.5 519.7L1513.4 519.7" stroke="#c81414" stroke-width="1.5"/>
<rect x="1480.5" y="514" width="23" height="11.4" stroke="#111" stroke-width="1.2" fill="#fff"/>
<text transform="translate(1479.5 525.9) scale(0.85 1)" font-size="6.4" text-anchor="end" fill="#c81414" stroke="#c81414" stroke-width="0.12">2</text>
<text transform="translate(1505 525.9) scale(0.85 1)" font-size="6.4" fill="#c81414" stroke="#c81414" stroke-width="0.12">1</text>
<path d="M1513.4 519.7L1524.5 519.7" stroke="#1ecb1e" stroke-width="1.5" fill="none"/>
<text transform="translate(1481.7 511.5) scale(0.78 1)" font-size="12.7">R33</text>
<text transform="translate(1485.4 536.8) scale(0.78 1)" font-size="12.7">1K</text>
<path d="M1462.7 575.1L1468.8 575.1" stroke="#1ecb1e" stroke-width="1.5" fill="none"/>
<path d="M1468.8 575.1L1480.5 575.1" stroke="#c81414" stroke-width="1.5"/>
<path d="M1503.5 575.1L1513.4 575.1" stroke="#c81414" stroke-width="1.5"/>
<rect x="1480.5" y="569.5" width="23" height="11.2" stroke="#111" stroke-width="1.2" fill="#fff"/>
<text transform="translate(1479.5 581.3) scale(0.85 1)" font-size="6.4" text-anchor="end" fill="#c81414" stroke="#c81414" stroke-width="0.12">2</text>
<text transform="translate(1505 581.3) scale(0.85 1)" font-size="6.4" fill="#c81414" stroke="#c81414" stroke-width="0.12">1</text>
<path d="M1513.4 575.1L1524.5 575.1" stroke="#1ecb1e" stroke-width="1.5" fill="none"/>
<path d="M1462.7 586.2L1468.8 586.2" stroke="#1ecb1e" stroke-width="1.5" fill="none"/>
<path d="M1468.8 586.2L1480.5 586.2" stroke="#c81414" stroke-width="1.5"/>
<path d="M1503.5 586.2L1513.4 586.2" stroke="#c81414" stroke-width="1.5"/>
<rect x="1480.5" y="580.6" width="23" height="11.2" stroke="#111" stroke-width="1.2" fill="#fff"/>
<text transform="translate(1479.5 592.4) scale(0.85 1)" font-size="6.4" text-anchor="end" fill="#c81414" stroke="#c81414" stroke-width="0.12">2</text>
<text transform="translate(1505 592.4) scale(0.85 1)" font-size="6.4" fill="#c81414" stroke="#c81414" stroke-width="0.12">1</text>
<path d="M1513.4 586.2L1524.5 586.2" stroke="#1ecb1e" stroke-width="1.5" fill="none"/>
<text transform="translate(1475 567.2) scale(0.78 1)" font-size="12.7">R34</text>
<text transform="translate(1496.5 567.2) scale(0.78 1)" font-size="12.7">1K</text>
<text transform="translate(1475 603.1) scale(0.78 1)" font-size="12.7">R35</text>
<text transform="translate(1496.5 603.1) scale(0.78 1)" font-size="12.7">1K</text>
<path d="M1462.7 597.4L1468.8 597.4L1468.8 642L1474.3 642" stroke="#1ecb1e" stroke-width="1.5" fill="none"/>
<path d="M1474.3 642L1480.5 642" stroke="#c81414" stroke-width="1.5"/>
<path d="M1503.5 642L1513.4 642" stroke="#c81414" stroke-width="1.5"/>
<rect x="1480.5" y="636.3" width="23" height="11.4" stroke="#111" stroke-width="1.2" fill="#fff"/>
<text transform="translate(1479.5 648.2) scale(0.85 1)" font-size="6.4" text-anchor="end" fill="#c81414" stroke="#c81414" stroke-width="0.12">2</text>
<text transform="translate(1505 648.2) scale(0.85 1)" font-size="6.4" fill="#c81414" stroke="#c81414" stroke-width="0.12">1</text>
<path d="M1513.4 642L1524.5 642" stroke="#1ecb1e" stroke-width="1.5" fill="none"/>
<text transform="translate(1476.3 634) scale(0.78 1)" font-size="12.7">R36</text>
<text transform="translate(1496.5 634) scale(0.78 1)" font-size="12.7">1K</text>
<path d="M1524.5 541.9L1518.3 541.9L1518.3 661.2" stroke="#1ecb1e" stroke-width="1.5" fill="none"/>
<path d="M1518.3 553.1L1524.5 553.1" stroke="#1ecb1e" stroke-width="1.5" fill="none"/>
<circle cx="1518.3" cy="553.1" r="2.3" fill="#1ecb1e"/>
<path d="M1518.3 608.6L1524.5 608.6" stroke="#1ecb1e" stroke-width="1.5" fill="none"/>
<circle cx="1518.3" cy="608.6" r="2.3" fill="#1ecb1e"/>
<path d="M1518.3 619.8L1524.5 619.8" stroke="#1ecb1e" stroke-width="1.5" fill="none"/>
<circle cx="1518.3" cy="619.8" r="2.3" fill="#1ecb1e"/>
<circle cx="1518.3" cy="659.2" r="2.3" fill="#1ecb1e"/>
<path d="M1518.3 661.2L1518.3 670.5" stroke="#c81414" stroke-width="1.5"/>
<path d="M1507.2 671.3L1529.4 671.3" stroke="#000" stroke-width="2.2"/>
<path d="M1510.4 676.9L1526.2 676.9" stroke="#000" stroke-width="2.2"/>
<path d="M1513.4 682.4L1523.3 682.4" stroke="#000" stroke-width="2.2"/>
<path d="M1515.8 687.9L1520.8 687.9" stroke="#000" stroke-width="2.2"/>
<path d="M1600.4 519.7L1601.9 519.7L1601.9 528.8" stroke="#1ecb1e" stroke-width="1.5" fill="none"/>
<path d="M1601.9 528.8L1601.9 538" stroke="#c81414" stroke-width="1.5"/>
<path d="M1593.5 538.9L1610 538.9" stroke="#000" stroke-width="2.8"/>
<path d="M1600.4 541.9L1666.7 541.9" stroke="#1ecb1e" stroke-width="1.5" fill="none"/>
<circle cx="1626.7" cy="541.9" r="2.3" fill="#1ecb1e"/>
<path d="M1600.4 553.1L1666.7 553.1" stroke="#1ecb1e" stroke-width="1.5" fill="none"/>
<circle cx="1654.4" cy="553.1" r="2.3" fill="#1ecb1e"/>
<path d="M1600.4 575.3L1604.4 575.3L1604.4 586.4L1600.4 586.4" stroke="#1ecb1e" stroke-width="1.5" fill="none"/>
<circle cx="1604.4" cy="580.8" r="2.3" fill="#1ecb1e"/>
<path d="M1604.4 580.8L1628.4 580.8L1628.4 585.7" stroke="#1ecb1e" stroke-width="1.5" fill="none"/>
<path d="M1628.4 585.7L1628.4 596.3" stroke="#c81414" stroke-width="1.5"/>
<path d="M1620.2 597.5L1636.7 597.5" stroke="#000" stroke-width="2.8"/>
<path d="M1600.4 608.6L1666.7 608.6" stroke="#1ecb1e" stroke-width="1.5" fill="none"/>
<circle cx="1626.7" cy="608.6" r="2.3" fill="#1ecb1e"/>
<path d="M1600.4 619.8L1666.7 619.8" stroke="#1ecb1e" stroke-width="1.5" fill="none"/>
<circle cx="1654.4" cy="619.8" r="2.3" fill="#1ecb1e"/>
<path d="M1600.4 642L1604.4 642L1604.4 658" stroke="#1ecb1e" stroke-width="1.5" fill="none"/>
<path d="M1604.4 658L1604.4 668.8" stroke="#c81414" stroke-width="1.5"/>
<path d="M1596.7 670L1613.2 670" stroke="#000" stroke-width="2.8"/>
<path d="M1666.7 541.9L1677.1 541.9" stroke="#c81414" stroke-width="1.5"/>
<path d="M1677.1 536.4L1722.6 536.4L1727.8 541.9L1722.6 547.4L1677.1 547.4Z" stroke="#111" stroke-width="1.5" fill="#fff"/>
<text transform="translate(1679.9 544.4) scale(0.9 1)" font-size="7" fill="#111" stroke="#111" stroke-width="0.08">INPUT1</text>
<path d="M1666.7 553.1L1677.1 553.1" stroke="#c81414" stroke-width="1.5"/>
<path d="M1677.1 547.6L1722.6 547.6L1727.8 553.1L1722.6 558.6L1677.1 558.6Z" stroke="#111" stroke-width="1.5" fill="#fff"/>
<text transform="translate(1679.9 555.6) scale(0.9 1)" font-size="7" fill="#111" stroke="#111" stroke-width="0.08">INPUT2</text>
<path d="M1666.7 608.6L1677.1 608.6" stroke="#c81414" stroke-width="1.5"/>
<path d="M1677.1 603.1L1722.6 603.1L1727.8 608.6L1722.6 614.1L1677.1 614.1Z" stroke="#111" stroke-width="1.5" fill="#fff"/>
<text transform="translate(1679.9 611.1) scale(0.9 1)" font-size="7" fill="#111" stroke="#111" stroke-width="0.08">INPUT3</text>
<path d="M1666.7 619.8L1677.1 619.8" stroke="#c81414" stroke-width="1.5"/>
<path d="M1677.1 614.3L1722.6 614.3L1727.8 619.8L1722.6 625.3L1677.1 625.3Z" stroke="#111" stroke-width="1.5" fill="#fff"/>
<text transform="translate(1679.9 622.3) scale(0.9 1)" font-size="7" fill="#111" stroke="#111" stroke-width="0.08">INPUT4</text>
<path d="M1642.5 476.4L1642.5 486.8" stroke="#c81414" stroke-width="1.5"/>
<path d="M1642.5 486.8L1642.5 491.7" stroke="#1ecb1e" stroke-width="1.5" fill="none"/>
<path d="M1626.7 491.7L1654.4 491.7" stroke="#1ecb1e" stroke-width="1.5" fill="none"/>
<circle cx="1642.5" cy="491.7" r="2.3" fill="#1ecb1e"/>
<circle cx="1642.5" cy="470.7" r="5.6" fill="#fff" stroke="#111" stroke-width="1.2"/>
<path d="M1639.3 470.7L1645.7 470.7" stroke="#111" stroke-width="1.3"/>
<path d="M1642.5 467.5L1642.5 473.9" stroke="#111" stroke-width="1.3"/>
<text transform="translate(1649.9 468.2) scale(0.8 1)" font-size="10" fill="#222">+3,3V</text>
<path d="M1626.7 491.7L1626.7 502.9" stroke="#c81414" stroke-width="1.5"/>
<path d="M1626.7 525.1L1626.7 535" stroke="#c81414" stroke-width="1.5"/>
<rect x="1621" y="502.9" width="11.4" height="22.2" stroke="#111" stroke-width="1.2" fill="#fff"/>
<text transform="translate(1628.3 500.5) scale(0.85 1)" font-size="6.4" fill="#c81414" stroke="#c81414" stroke-width="0.12">1</text>
<text transform="translate(1628.3 531.5) scale(0.85 1)" font-size="6.4" fill="#c81414" stroke="#c81414" stroke-width="0.12">2</text>
<path d="M1626.7 535L1626.7 541.9" stroke="#1ecb1e" stroke-width="1.5" fill="none"/>
<text transform="translate(1619.2 533.8) rotate(-90) scale(0.78 1)" font-size="12.7">R37</text>
<text transform="translate(1619.2 513.4) rotate(-90) scale(0.78 1)" font-size="12.7">10K</text>
<path d="M1654.4 491.7L1654.4 502.9" stroke="#c81414" stroke-width="1.5"/>
<path d="M1654.4 525.1L1654.4 535" stroke="#c81414" stroke-width="1.5"/>
<rect x="1648.7" y="502.9" width="11.4" height="22.2" stroke="#111" stroke-width="1.2" fill="#fff"/>
<text transform="translate(1656 500.5) scale(0.85 1)" font-size="6.4" fill="#c81414" stroke="#c81414" stroke-width="0.12">1</text>
<text transform="translate(1656 531.5) scale(0.85 1)" font-size="6.4" fill="#c81414" stroke="#c81414" stroke-width="0.12">2</text>
<path d="M1654.4 535L1654.4 553.1" stroke="#1ecb1e" stroke-width="1.5" fill="none"/>
<text transform="translate(1646.9 533.8) rotate(-90) scale(0.78 1)" font-size="12.7">R38</text>
<text transform="translate(1646.9 513.4) rotate(-90) scale(0.78 1)" font-size="12.7">10K</text>
<path d="M1626.7 608.6L1626.7 621.6" stroke="#1ecb1e" stroke-width="1.5" fill="none"/>
<path d="M1626.7 621.6L1626.7 628.5" stroke="#c81414" stroke-width="1.5"/>
<path d="M1626.7 650.6L1626.7 661.2" stroke="#c81414" stroke-width="1.5"/>
<rect x="1621" y="628.5" width="11.4" height="22.1" stroke="#111" stroke-width="1.2" fill="#fff"/>
<text transform="translate(1628.3 626.2) scale(0.85 1)" font-size="6.4" fill="#c81414" stroke="#c81414" stroke-width="0.12">1</text>
<text transform="translate(1628.3 657) scale(0.85 1)" font-size="6.4" fill="#c81414" stroke="#c81414" stroke-width="0.12">2</text>
<path d="M1626.7 661.2L1626.7 669.8" stroke="#1ecb1e" stroke-width="1.5" fill="none"/>
<text transform="translate(1619.2 662.4) rotate(-90) scale(0.78 1)" font-size="12.7">R39</text>
<text transform="translate(1619.2 640.5) rotate(-90) scale(0.78 1)" font-size="12.7">10K</text>
<path d="M1654.4 619.8L1654.4 621.6" stroke="#1ecb1e" stroke-width="1.5" fill="none"/>
<path d="M1654.4 621.6L1654.4 628.5" stroke="#c81414" stroke-width="1.5"/>
<path d="M1654.4 650.6L1654.4 661.2" stroke="#c81414" stroke-width="1.5"/>
<rect x="1648.7" y="628.5" width="11.4" height="22.1" stroke="#111" stroke-width="1.2" fill="#fff"/>
<text transform="translate(1656 626.2) scale(0.85 1)" font-size="6.4" fill="#c81414" stroke="#c81414" stroke-width="0.12">1</text>
<text transform="translate(1656 657) scale(0.85 1)" font-size="6.4" fill="#c81414" stroke="#c81414" stroke-width="0.12">2</text>
<path d="M1654.4 661.2L1654.4 669.8" stroke="#1ecb1e" stroke-width="1.5" fill="none"/>
<text transform="translate(1646.9 662.4) rotate(-90) scale(0.78 1)" font-size="12.7">R40</text>
<text transform="translate(1646.9 640.5) rotate(-90) scale(0.78 1)" font-size="12.7">10K</text>
<path d="M1626.7 669.8L1677.4 669.8L1677.4 657.5" stroke="#1ecb1e" stroke-width="1.5" fill="none"/>
<circle cx="1654.4" cy="669.8" r="2.3" fill="#1ecb1e"/>
<path d="M1677.4 657.5L1677.4 647.8" stroke="#c81414" stroke-width="1.5"/>
<circle cx="1677.4" cy="642.1" r="5.6" fill="#fff" stroke="#111" stroke-width="1.2"/>
<path d="M1674.2 642.1L1680.6 642.1" stroke="#111" stroke-width="1.3"/>
<path d="M1677.4 638.9L1677.4 645.3" stroke="#111" stroke-width="1.3"/>
<text transform="translate(1682.8 640.9) scale(0.8 1)" font-size="10" fill="#222">+3,3V</text>
<text x="475.4" y="735.4" font-size="26.2" textLength="136.2" lengthAdjust="spacingAndGlyphs">5V SUPPLY</text>
<path d="M474.9 738.2L612.1 738.2" stroke="#000" stroke-width="1.3"/>
<path d="M458.8 834L481.4 834" stroke="#c81414" stroke-width="1.5"/>
<text transform="translate(480 840.2) scale(0.9 1)" font-size="6.2" text-anchor="end" fill="#c81414">V+IN</text>
<text transform="translate(484.2 837.7) scale(0.8 1)" font-size="10.7">V+IN</text>
<path d="M458.8 867.5L481.4 867.5" stroke="#c81414" stroke-width="1.5"/>
<text transform="translate(480 873.7) scale(0.9 1)" font-size="6.2" text-anchor="end" fill="#c81414">GNDIN</text>
<text transform="translate(484.2 871.2) scale(0.8 1)" font-size="10.7">GNDIN</text>
<path d="M593.7 834L615.9 834" stroke="#c81414" stroke-width="1.5"/>
<text transform="translate(594.8 840.2) scale(0.9 1)" font-size="6.2" fill="#c81414">V+OUT1</text>
<text transform="translate(590.5 837.7) scale(0.8 1)" font-size="10.7" text-anchor="end">V+OUT1</text>
<path d="M593.7 845.4L615.9 845.4" stroke="#c81414" stroke-width="1.5"/>
<text transform="translate(594.8 851.6) scale(0.9 1)" font-size="6.2" fill="#c81414">V+OUT2</text>
<text transform="translate(590.5 849.1) scale(0.8 1)" font-size="10.7" text-anchor="end">V+OUT2</text>
<path d="M593.7 867.5L615.9 867.5" stroke="#c81414" stroke-width="1.5"/>
<text transform="translate(594.8 873.7) scale(0.9 1)" font-size="6.2" fill="#c81414">GNDOUT</text>
<text transform="translate(590.5 871.2) scale(0.8 1)" font-size="10.7" text-anchor="end">GNDOUT</text>
<rect x="481.4" y="811.9" width="112.3" height="66.8" stroke="#222" stroke-width="1.3" fill="none"/>
<text transform="translate(535 824.6) scale(0.78 1)" font-size="12.7" text-anchor="middle">KIM-055L</text>
<text transform="translate(635.7 762.1) scale(0.8 1)" font-size="7.8" fill="#222">9-15V</text>
<path d="M629.1 770.9L632.2 770.9" stroke="#111" stroke-width="1"/>
<path d="M635 770.9L640 770.9" stroke="#111" stroke-width="1"/>
<path d="M647.6 767.8A4.4 4.4 0 1 0 647.6 774" stroke="#111" stroke-width="1.6" fill="none"/>
<circle cx="644.5" cy="770.9" r="1.5" fill="#111"/>
<path d="M644.5 770.9L651.9 770.9" stroke="#111" stroke-width="1.1"/>
<path d="M653.9 770.9L658.9 770.9" stroke="#c81414" stroke-width="1"/>
<path d="M656.4 768.4L656.4 773.4" stroke="#c81414" stroke-width="1"/>
<text transform="translate(663.5 774.3) scale(0.78 1)" font-size="12.7">J16</text>
<path d="M677.1 788.1L687.4 788.1" stroke="#c81414" stroke-width="1.5"/>
<text transform="translate(678.6 794.4) scale(0.85 1)" font-size="6.4" fill="#c81414" stroke="#c81414" stroke-width="0.12">1</text>
<path d="M677.1 799.3L687.4 799.3" stroke="#c81414" stroke-width="1.5"/>
<text transform="translate(678.6 805.6) scale(0.85 1)" font-size="6.4" fill="#c81414" stroke="#c81414" stroke-width="0.12">2</text>
<path d="M677.1 810.6L687.4 810.6" stroke="#c81414" stroke-width="1.5"/>
<text transform="translate(678.6 816.9) scale(0.85 1)" font-size="6.4" fill="#c81414" stroke="#c81414" stroke-width="0.12">3</text>
<rect x="629.5" y="779.6" width="47.6" height="39.3" stroke="#111" stroke-width="1.3" fill="#fff"/>
<path d="M665.8 785.2H640a2.85 2.85 0 0 0 0 5.7H665.8M665.8 782.8V793.5M665.8 788.1H677.1" stroke="#111" stroke-width="1.2" fill="none"/>
<path d="M677.1 799.3L657.3 799.3L657.3 810.6" stroke="#111" stroke-width="1.2" fill="none"/>
<path d="M677.1 810.6L648.5 810.6L643.2 805.4L637.6 810.6" stroke="#111" stroke-width="1.2" fill="none"/>
<text transform="translate(659.8 834.5) scale(0.78 1)" font-size="12.7">J17</text>
<path d="M676.7 846.8L687.4 846.8" stroke="#c81414" stroke-width="1.5"/>
<text transform="translate(678.2 853.1) scale(0.85 1)" font-size="6.4" fill="#c81414" stroke="#c81414" stroke-width="0.12">1</text>
<path d="M676.7 858.2L687.4 858.2" stroke="#c81414" stroke-width="1.5"/>
<text transform="translate(678.2 864.5) scale(0.85 1)" font-size="6.4" fill="#c81414" stroke="#c81414" stroke-width="0.12">2</text>
<rect x="665.8" y="835.8" width="10.9" height="33.5" stroke="#111" stroke-width="1.3" fill="#fff"/>
<text transform="translate(671.3 845.2)" font-size="8" text-anchor="middle">+</text>
<text transform="translate(671.3 862)" font-size="8" text-anchor="middle">-</text>
<path d="M687.4 788.1L707.2 788.1L707.2 846.8L687.4 846.8" stroke="#1ecb1e" stroke-width="1.5" fill="none"/>
<circle cx="699.3" cy="788.1" r="2.3" fill="#1ecb1e"/>
<path d="M699.3 788.1L699.3 740.8L704.3 740.8" stroke="#1ecb1e" stroke-width="1.5" fill="none"/>
<path d="M687.4 799.3L699.3 799.3L699.3 858.2" stroke="#1ecb1e" stroke-width="1.5" fill="none"/>
<path d="M687.4 810.6L699.3 810.6" stroke="#1ecb1e" stroke-width="1.5" fill="none"/>
<circle cx="699.3" cy="810.6" r="2.3" fill="#1ecb1e"/>
<path d="M687.4 858.2L1075.4 858.2" stroke="#1ecb1e" stroke-width="1.5" fill="none"/>
<circle cx="699.3" cy="858.2" r="2.3" fill="#1ecb1e"/>
<circle cx="749.1" cy="858.2" r="2.3" fill="#1ecb1e"/>
<circle cx="777.4" cy="858.2" r="2.3" fill="#1ecb1e"/>
<circle cx="811.6" cy="858.2" r="2.3" fill="#1ecb1e"/>
<circle cx="838.2" cy="858.2" r="2.3" fill="#1ecb1e"/>
<circle cx="949.7" cy="858.2" r="2.3" fill="#1ecb1e"/>
<circle cx="1049.9" cy="858.2" r="2.3" fill="#1ecb1e"/>
<circle cx="1075.4" cy="858.2" r="2.3" fill="#1ecb1e"/>
<path d="M742.9 740.8L830 740.8L830 802.1L840.1 802.1" stroke="#1ecb1e" stroke-width="1.5" fill="none"/>
<circle cx="749.1" cy="740.8" r="2.3" fill="#1ecb1e"/>
<circle cx="777.4" cy="740.8" r="2.3" fill="#1ecb1e"/>
<circle cx="811.6" cy="740.8" r="2.3" fill="#1ecb1e"/>
<path d="M704.3 740.8L715.6 740.8" stroke="#c81414" stroke-width="1.5"/>
<path d="M732.6 740.8L742.9 740.8" stroke="#c81414" stroke-width="1.5"/>
<path d="M715.6 732.4L732.6 740.8L715.6 749.3Z" stroke="#111" stroke-width="1.2" fill="#fff"/>
<path d="M726.9 732.4L732.6 732.4L732.6 749.3L738.2 749.3" stroke="#111" stroke-width="1.3" fill="none"/>
<text transform="translate(714 747) scale(0.85 1)" font-size="6.4" text-anchor="end" fill="#c81414" stroke="#c81414" stroke-width="0.12">1</text>
<text transform="translate(734.3 747) scale(0.85 1)" font-size="6.4" fill="#c81414" stroke="#c81414" stroke-width="0.12">2</text>
<text transform="translate(700.6 738.6) scale(0.78 1)" font-size="12.7">D1</text>
<text transform="translate(702.5 760.2) scale(0.78 1)" font-size="12.7">1N5820</text>
<path d="M749.1 724.5L749.1 734.8" stroke="#c81414" stroke-width="1.5"/>
<path d="M749.1 734.8L749.1 793.1" stroke="#1ecb1e" stroke-width="1.5" fill="none"/>
<circle cx="749.1" cy="718.8" r="5.6" fill="#fff" stroke="#111" stroke-width="1.2"/>
<path d="M745.9 718.8L752.3 718.8" stroke="#111" stroke-width="1.3"/>
<path d="M749.1 715.6L749.1 722" stroke="#111" stroke-width="1.3"/>
<text transform="translate(757.1 721.6) scale(0.8 1)" font-size="10" fill="#222">+12V</text>
<path d="M749.1 793.1L749.1 803.1" stroke="#c81414" stroke-width="1.5"/>
<path d="M749.1 815L749.1 825.1" stroke="#c81414" stroke-width="1.5"/>
<path d="M749.1 825.1L749.1 858.2" stroke="#1ecb1e" stroke-width="1.5" fill="none"/>
<rect x="736.3" y="803.1" width="25.8" height="7.5" stroke="#111" stroke-width="1.3" fill="#fff"/>
<path d="M736.3 814.4L762.1 814.4" stroke="#000" stroke-width="2.2"/>
<path d="M736.6 792.6L741.8 792.6" stroke="#222" stroke-width="0.9"/>
<path d="M739.2 790L739.2 795.2" stroke="#222" stroke-width="0.9"/>
<text transform="translate(751 801.8) scale(0.85 1)" font-size="6.4" fill="#c81414" stroke="#c81414" stroke-width="0.12">1</text>
<text transform="translate(751 822) scale(0.85 1)" font-size="6.4" fill="#c81414" stroke="#c81414" stroke-width="0.12">2</text>
<text transform="translate(733.1 833.6) rotate(-90) scale(0.78 1)" font-size="12.7">C1</text>
<text transform="translate(744.8 845.8) rotate(-90) scale(0.78 1)" font-size="12.7">220µF</text>
<path d="M777.4 740.8L777.4 757.5" stroke="#c81414" stroke-width="1.5"/>
<rect x="771.8" y="757.5" width="11.2" height="11.3" stroke="#111" stroke-width="1.2" fill="#fff"/>
<text transform="translate(779.2 755) scale(0.85 1)" font-size="6.4" fill="#c81414" stroke="#c81414" stroke-width="0.12">1</text>
<text transform="translate(757 777.5) scale(0.8 1)" font-size="9.2">V+in KIM055</text>
<path d="M777.4 841.4L777.4 853" stroke="#c81414" stroke-width="1.5"/>
<rect x="771.8" y="830.7" width="11.2" height="10.7" stroke="#111" stroke-width="1.2" fill="#fff"/>
<path d="M777.4 853L777.4 858.2" stroke="#1ecb1e" stroke-width="1.5" fill="none"/>
<text transform="translate(779.2 848) scale(0.85 1)" font-size="6.4" fill="#c81414" stroke="#c81414" stroke-width="0.12">1</text>
<text transform="translate(753.8 828.8) scale(0.8 1)" font-size="9.2">GNDin KIM055</text>
<rect x="797.7" y="729.4" width="233.4" height="147.2" stroke="#222" stroke-width="1.1" fill="none" stroke-dasharray="1.5 1.2"/>
<text transform="translate(835.9 870.4)" font-size="9.95" fill="#222">Zone can be replaced by a KIM-055L</text>
<path d="M811.6 740.8L811.6 799.7" stroke="#1ecb1e" stroke-width="1.5" fill="none"/>
<path d="M811.6 799.7L811.6 811.8" stroke="#c81414" stroke-width="1.5"/>
<path d="M811.6 816L811.6 826.9" stroke="#c81414" stroke-width="1.5"/>
<path d="M811.6 826.9L811.6 858.2" stroke="#1ecb1e" stroke-width="1.5" fill="none"/>
<path d="M803.3 811.8L820.7 811.8" stroke="#000" stroke-width="2"/>
<path d="M803.3 819.3Q811.6 812.6 820.7 819.3" stroke="#000" stroke-width="2" fill="none"/>
<text transform="translate(813.3 809.3) scale(0.85 1)" font-size="6.4" fill="#c81414" stroke="#c81414" stroke-width="0.12">1</text>
<text transform="translate(813.3 823) scale(0.85 1)" font-size="6.4" fill="#c81414" stroke="#c81414" stroke-width="0.12">2</text>
<text transform="translate(822.3 835.6) rotate(-90) scale(0.78 1)" font-size="12.7">C2</text>
<text transform="translate(834.9 833.6) rotate(-90) scale(0.78 1)" font-size="12.7">100nF</text>
<path d="M840.1 768.8L850.8 768.8" stroke="#c81414" stroke-width="1.5"/>
<text transform="translate(849.3 775) scale(0.85 1)" font-size="6.4" text-anchor="end" fill="#c81414" stroke="#c81414" stroke-width="0.12">3</text>
<path d="M840.1 780L850.8 780" stroke="#c81414" stroke-width="1.5"/>
<text transform="translate(849.3 786.2) scale(0.85 1)" font-size="6.4" text-anchor="end" fill="#c81414" stroke="#c81414" stroke-width="0.12">5</text>
<path d="M840.1 802.1L850.8 802.1" stroke="#c81414" stroke-width="1.5"/>
<text transform="translate(849.3 808.3) scale(0.85 1)" font-size="6.4" text-anchor="end" fill="#c81414" stroke="#c81414" stroke-width="0.12">1</text>
<path d="M918.2 780L928.8 780" stroke="#c81414" stroke-width="1.5"/>
<text transform="translate(919.8 786.2) scale(0.85 1)" font-size="6.4" fill="#c81414" stroke="#c81414" stroke-width="0.12">2</text>
<path d="M918.2 802.1L928.8 802.1" stroke="#c81414" stroke-width="1.5"/>
<text transform="translate(919.8 808.3) scale(0.85 1)" font-size="6.4" fill="#c81414" stroke="#c81414" stroke-width="0.12">4</text>
<rect x="850.8" y="757.5" width="67.4" height="55.8" stroke="#111" stroke-width="1.3" fill="#fff"/>
<text transform="translate(853.3 771.9) scale(0.8 1)" font-size="10.8">GND</text>
<text transform="translate(853.3 783.2) scale(0.8 1)" font-size="10.8">ON/OFF</text>
<path d="M853.3 774.4L864.5 774.4" stroke="#111" stroke-width="0.9"/>
<text transform="translate(853.3 805.4) scale(0.8 1)" font-size="10.8">VIN</text>
<text transform="translate(915.3 783.2) scale(0.8 1)" font-size="10.8" text-anchor="end">OUT</text>
<text transform="translate(915.3 805.4) scale(0.8 1)" font-size="10.8" text-anchor="end">FB</text>
<text transform="translate(850.8 755.6) scale(0.78 1)" font-size="12.7">LM2575T-5</text>
<text transform="translate(850.8 824) scale(0.78 1)" font-size="13.2">X1</text>
<path d="M840.1 768.8L838.2 768.8L838.2 858.2" stroke="#1ecb1e" stroke-width="1.5" fill="none"/>
<path d="M838.2 780L840.1 780" stroke="#1ecb1e" stroke-width="1.5" fill="none"/>
<circle cx="838.2" cy="780" r="2.3" fill="#1ecb1e"/>
<path d="M928.8 780L933.7 780L933.7 740.8L975.3 740.8" stroke="#1ecb1e" stroke-width="1.5" fill="none"/>
<circle cx="949.7" cy="740.8" r="2.3" fill="#1ecb1e"/>
<path d="M949.7 740.8L949.7 750.7" stroke="#1ecb1e" stroke-width="1.5" fill="none"/>
<path d="M949.7 750.7L949.7 761.6" stroke="#c81414" stroke-width="1.5"/>
<path d="M949.7 777.5L949.7 789.1" stroke="#c81414" stroke-width="1.5"/>
<path d="M949.7 789.1L949.7 858.2" stroke="#1ecb1e" stroke-width="1.5" fill="none"/>
<path d="M941.4 777.5L958.8 777.5L949.7 761.6Z" stroke="#111" stroke-width="1.2" fill="#fff"/>
<path d="M941.4 765.6L941.4 761.6L958.8 761.6L958.8 757.4" stroke="#111" stroke-width="1.3" fill="none"/>
<text transform="translate(951.5 759) scale(0.85 1)" font-size="6.4" fill="#c81414" stroke="#c81414" stroke-width="0.12">2</text>
<text transform="translate(951.5 784) scale(0.85 1)" font-size="6.4" fill="#c81414" stroke="#c81414" stroke-width="0.12">1</text>
<text transform="translate(947.2 793) rotate(-90) scale(0.78 1)" font-size="12.7">D2</text>
<text transform="translate(971.4 790) rotate(-90) scale(0.78 1)" font-size="12.7">1N5820</text>
<path d="M975.3 740.8L986 740.8" stroke="#c81414" stroke-width="1.5"/>
<path d="M1008.2 740.8L1019.9 740.8" stroke="#c81414" stroke-width="1.5"/>
<rect x="986" y="735.8" width="22.2" height="10.3" fill="#000"/>
<text transform="translate(984.5 747) scale(0.85 1)" font-size="6.4" text-anchor="end" fill="#c81414" stroke="#c81414" stroke-width="0.12">1</text>
<text transform="translate(1009.8 747) scale(0.85 1)" font-size="6.4" fill="#c81414" stroke="#c81414" stroke-width="0.12">2</text>
<text transform="translate(974.9 757.7) scale(0.78 1)" font-size="12.7">L1 330mH</text>
<path d="M1019.9 740.8L1075.4 740.8" stroke="#1ecb1e" stroke-width="1.5" fill="none"/>
<circle cx="1026.2" cy="740.8" r="2.3" fill="#1ecb1e"/>
<circle cx="1049.9" cy="740.8" r="2.3" fill="#1ecb1e"/>
<circle cx="1075.4" cy="740.8" r="2.3" fill="#1ecb1e"/>
<path d="M1026.2 740.8L1026.2 763.9L1021.4 763.9L1021.4 802.1L928.8 802.1" stroke="#1ecb1e" stroke-width="1.5" fill="none"/>
<path d="M1049.9 740.8L1049.9 759.1" stroke="#c81414" stroke-width="1.5"/>
<rect x="1044.3" y="759.1" width="11.2" height="11" stroke="#111" stroke-width="1.2" fill="#fff"/>
<text transform="translate(1051.7 756.5) scale(0.85 1)" font-size="6.4" fill="#c81414" stroke="#c81414" stroke-width="0.12">1</text>
<text transform="translate(1025.3 781) scale(0.8 1)" font-size="9.2">V+Out KIM055</text>
<path d="M1049.9 842.7L1049.9 853" stroke="#c81414" stroke-width="1.5"/>
<rect x="1044.3" y="831.7" width="11.2" height="11" stroke="#111" stroke-width="1.2" fill="#fff"/>
<path d="M1049.9 853L1049.9 858.2" stroke="#1ecb1e" stroke-width="1.5" fill="none"/>
<text transform="translate(1051.7 849.5) scale(0.85 1)" font-size="6.4" fill="#c81414" stroke="#c81414" stroke-width="0.12">1</text>
<text transform="translate(1020.8 829.8) scale(0.8 1)" font-size="9.2">GNDout KIM055</text>
<path d="M1075.4 729.9L1075.4 737.8" stroke="#c81414" stroke-width="1.5"/>
<path d="M1075.4 737.8L1075.4 790" stroke="#1ecb1e" stroke-width="1.5" fill="none"/>
<circle cx="1075.4" cy="724.2" r="5.6" fill="#fff" stroke="#111" stroke-width="1.2"/>
<path d="M1072.2 724.2L1078.6 724.2" stroke="#111" stroke-width="1.3"/>
<path d="M1075.4 721L1075.4 727.4" stroke="#111" stroke-width="1.3"/>
<text transform="translate(1067.4 727) scale(0.8 1)" font-size="10" text-anchor="end" fill="#222">+5V</text>
<path d="M1075.4 790L1075.4 801.1" stroke="#c81414" stroke-width="1.5"/>
<path d="M1075.4 813L1075.4 822.4" stroke="#c81414" stroke-width="1.5"/>
<path d="M1075.4 822.4L1075.4 858.2" stroke="#1ecb1e" stroke-width="1.5" fill="none"/>
<rect x="1062.5" y="801.1" width="25.1" height="6.4" stroke="#111" stroke-width="1.3" fill="#fff"/>
<path d="M1062.5 811.8L1087.6 811.8" stroke="#000" stroke-width="2.2"/>
<path d="M1062.6 790L1067.4 790" stroke="#222" stroke-width="0.9"/>
<path d="M1065 787.6L1065 792.4" stroke="#222" stroke-width="0.9"/>
<text transform="translate(1077.2 799) scale(0.85 1)" font-size="6.4" fill="#c81414" stroke="#c81414" stroke-width="0.12">1</text>
<text transform="translate(1077.2 819.5) scale(0.85 1)" font-size="6.4" fill="#c81414" stroke="#c81414" stroke-width="0.12">2</text>
<path d="M1075.4 858.2L1075.4 869.5" stroke="#c81414" stroke-width="1.5"/>
<path d="M1067.2 870.8L1083.8 870.8" stroke="#000" stroke-width="2.8"/>
<text transform="translate(1100.2 825.9) rotate(-90) scale(0.78 1)" font-size="12.7">C3 220µF</text>
<path d="M592 952.9L603.6 952.9" stroke="#c81414" stroke-width="1.5"/>
<path d="M614.2 952.9L625.5 952.9" stroke="#c81414" stroke-width="1.5"/>
<text transform="translate(601.4 958.9) scale(0.85 1)" font-size="6.7" text-anchor="end" fill="#c81414">1</text>
<text transform="translate(615.5 958.9) scale(0.85 1)" font-size="6.7" fill="#c81414">2</text>
<path d="M592 964.1L603.6 964.1" stroke="#c81414" stroke-width="1.5"/>
<path d="M614.2 964.1L625.5 964.1" stroke="#c81414" stroke-width="1.5"/>
<text transform="translate(601.4 970.1) scale(0.85 1)" font-size="6.7" text-anchor="end" fill="#c81414">3</text>
<text transform="translate(615.5 970.1) scale(0.85 1)" font-size="6.7" fill="#c81414">4</text>
<path d="M592 975.2L603.6 975.2" stroke="#c81414" stroke-width="1.5"/>
<path d="M614.2 975.2L625.5 975.2" stroke="#c81414" stroke-width="1.5"/>
<text transform="translate(601.4 981.2) scale(0.85 1)" font-size="6.7" text-anchor="end" fill="#c81414">5</text>
<text transform="translate(615.5 981.2) scale(0.85 1)" font-size="6.7" fill="#c81414">6</text>
<path d="M592 986.4L603.6 986.4" stroke="#c81414" stroke-width="1.5"/>
<path d="M614.2 986.4L625.5 986.4" stroke="#c81414" stroke-width="1.5"/>
<text transform="translate(601.4 992.4) scale(0.85 1)" font-size="6.7" text-anchor="end" fill="#c81414">7</text>
<text transform="translate(615.5 992.4) scale(0.85 1)" font-size="6.7" fill="#c81414">8</text>
<path d="M592 997.5L603.6 997.5" stroke="#c81414" stroke-width="1.5"/>
<path d="M614.2 997.5L625.5 997.5" stroke="#c81414" stroke-width="1.5"/>
<text transform="translate(601.4 1003.5) scale(0.85 1)" font-size="6.7" text-anchor="end" fill="#c81414">9</text>
<text transform="translate(615.5 1003.5) scale(0.85 1)" font-size="6.7" fill="#c81414">10</text>
<path d="M592 1008.7L603.6 1008.7" stroke="#c81414" stroke-width="1.5"/>
<path d="M614.2 1008.7L625.5 1008.7" stroke="#c81414" stroke-width="1.5"/>
<text transform="translate(601.4 1014.7) scale(0.85 1)" font-size="6.7" text-anchor="end" fill="#c81414">11</text>
<text transform="translate(615.5 1014.7) scale(0.85 1)" font-size="6.7" fill="#c81414">12</text>
<path d="M592 1019.8L603.6 1019.8" stroke="#c81414" stroke-width="1.5"/>
<path d="M614.2 1019.8L625.5 1019.8" stroke="#c81414" stroke-width="1.5"/>
<text transform="translate(601.4 1025.8) scale(0.85 1)" font-size="6.7" text-anchor="end" fill="#c81414">13</text>
<text transform="translate(615.5 1025.8) scale(0.85 1)" font-size="6.7" fill="#c81414">14</text>
<path d="M592 1031L603.6 1031" stroke="#c81414" stroke-width="1.5"/>
<path d="M614.2 1031L625.5 1031" stroke="#c81414" stroke-width="1.5"/>
<text transform="translate(601.4 1037) scale(0.85 1)" font-size="6.7" text-anchor="end" fill="#c81414">15</text>
<text transform="translate(615.5 1037) scale(0.85 1)" font-size="6.7" fill="#c81414">16</text>
<path d="M592 1042.2L603.6 1042.2" stroke="#c81414" stroke-width="1.5"/>
<path d="M614.2 1042.2L625.5 1042.2" stroke="#c81414" stroke-width="1.5"/>
<text transform="translate(601.4 1048.2) scale(0.85 1)" font-size="6.7" text-anchor="end" fill="#c81414">17</text>
<text transform="translate(615.5 1048.2) scale(0.85 1)" font-size="6.7" fill="#c81414">18</text>
<path d="M592 1053.3L603.6 1053.3" stroke="#c81414" stroke-width="1.5"/>
<path d="M614.2 1053.3L625.5 1053.3" stroke="#c81414" stroke-width="1.5"/>
<text transform="translate(601.4 1059.3) scale(0.85 1)" font-size="6.7" text-anchor="end" fill="#c81414">19</text>
<text transform="translate(615.5 1059.3) scale(0.85 1)" font-size="6.7" fill="#c81414">20</text>
<path d="M592 1064.5L603.6 1064.5" stroke="#c81414" stroke-width="1.5"/>
<path d="M614.2 1064.5L625.5 1064.5" stroke="#c81414" stroke-width="1.5"/>
<text transform="translate(601.4 1070.5) scale(0.85 1)" font-size="6.7" text-anchor="end" fill="#c81414">21</text>
<text transform="translate(615.5 1070.5) scale(0.85 1)" font-size="6.7" fill="#c81414">22</text>
<path d="M592 1075.6L603.6 1075.6" stroke="#c81414" stroke-width="1.5"/>
<path d="M614.2 1075.6L625.5 1075.6" stroke="#c81414" stroke-width="1.5"/>
<text transform="translate(601.4 1081.6) scale(0.85 1)" font-size="6.7" text-anchor="end" fill="#c81414">23</text>
<text transform="translate(615.5 1081.6) scale(0.85 1)" font-size="6.7" fill="#c81414">24</text>
<path d="M592 1086.8L603.6 1086.8" stroke="#c81414" stroke-width="1.5"/>
<path d="M614.2 1086.8L625.5 1086.8" stroke="#c81414" stroke-width="1.5"/>
<text transform="translate(601.4 1092.8) scale(0.85 1)" font-size="6.7" text-anchor="end" fill="#c81414">25</text>
<text transform="translate(615.5 1092.8) scale(0.85 1)" font-size="6.7" fill="#c81414">26</text>
<path d="M592 1098L603.6 1098" stroke="#c81414" stroke-width="1.5"/>
<path d="M614.2 1098L625.5 1098" stroke="#c81414" stroke-width="1.5"/>
<text transform="translate(601.4 1104) scale(0.85 1)" font-size="6.7" text-anchor="end" fill="#c81414">27</text>
<text transform="translate(615.5 1104) scale(0.85 1)" font-size="6.7" fill="#c81414">28</text>
<path d="M592 1109.1L603.6 1109.1" stroke="#c81414" stroke-width="1.5"/>
<path d="M614.2 1109.1L625.5 1109.1" stroke="#c81414" stroke-width="1.5"/>
<text transform="translate(601.4 1115.1) scale(0.85 1)" font-size="6.7" text-anchor="end" fill="#c81414">29</text>
<text transform="translate(615.5 1115.1) scale(0.85 1)" font-size="6.7" fill="#c81414">30</text>
<path d="M592 1120.3L603.6 1120.3" stroke="#c81414" stroke-width="1.5"/>
<path d="M614.2 1120.3L625.5 1120.3" stroke="#c81414" stroke-width="1.5"/>
<text transform="translate(601.4 1126.3) scale(0.85 1)" font-size="6.7" text-anchor="end" fill="#c81414">31</text>
<text transform="translate(615.5 1126.3) scale(0.85 1)" font-size="6.7" fill="#c81414">32</text>
<path d="M592 1131.4L603.6 1131.4" stroke="#c81414" stroke-width="1.5"/>
<path d="M614.2 1131.4L625.5 1131.4" stroke="#c81414" stroke-width="1.5"/>
<text transform="translate(601.4 1137.4) scale(0.85 1)" font-size="6.7" text-anchor="end" fill="#c81414">33</text>
<text transform="translate(615.5 1137.4) scale(0.85 1)" font-size="6.7" fill="#c81414">34</text>
<path d="M592 1142.6L603.6 1142.6" stroke="#c81414" stroke-width="1.5"/>
<path d="M614.2 1142.6L625.5 1142.6" stroke="#c81414" stroke-width="1.5"/>
<text transform="translate(601.4 1148.6) scale(0.85 1)" font-size="6.7" text-anchor="end" fill="#c81414">35</text>
<text transform="translate(615.5 1148.6) scale(0.85 1)" font-size="6.7" fill="#c81414">36</text>
<path d="M592 1153.7L603.6 1153.7" stroke="#c81414" stroke-width="1.5"/>
<path d="M614.2 1153.7L625.5 1153.7" stroke="#c81414" stroke-width="1.5"/>
<text transform="translate(601.4 1159.7) scale(0.85 1)" font-size="6.7" text-anchor="end" fill="#c81414">37</text>
<text transform="translate(615.5 1159.7) scale(0.85 1)" font-size="6.7" fill="#c81414">38</text>
<path d="M592 1164.9L603.6 1164.9" stroke="#c81414" stroke-width="1.5"/>
<path d="M614.2 1164.9L625.5 1164.9" stroke="#c81414" stroke-width="1.5"/>
<text transform="translate(601.4 1170.9) scale(0.85 1)" font-size="6.7" text-anchor="end" fill="#c81414">39</text>
<text transform="translate(615.5 1170.9) scale(0.85 1)" font-size="6.7" fill="#c81414">40</text>
<rect x="603.6" y="947.2" width="10.6" height="223.1" stroke="#111" stroke-width="1.3" fill="#fff"/>
<text transform="translate(603.6 944.7) scale(0.78 1)" font-size="12.7">J1</text>
<text transform="translate(611.8 1166.3) rotate(-90) scale(0.8 1)" font-size="7.4">Raspberry Pi B+/2B</text>
<path d="M569.4 964.1L580.7 964.1" stroke="#c81414" stroke-width="1.5"/>
<path d="M580.7 964.1L592 964.1" stroke="#1ecb1e" stroke-width="1.5" fill="none"/>
<path d="M519.5 958.7L564.2 958.7L569.4 964.1L564.2 969.5L519.5 969.5Z" stroke="#111" stroke-width="1.5" fill="#fff"/>
<text transform="translate(522.5 966.4)" font-size="6.6" fill="#111" stroke="#111" stroke-width="0.08">I2C_SDA</text>
<path d="M569.4 975.2L580.7 975.2" stroke="#c81414" stroke-width="1.5"/>
<path d="M580.7 975.2L592 975.2" stroke="#1ecb1e" stroke-width="1.5" fill="none"/>
<path d="M519.5 969.8L564.2 969.8L569.4 975.2L564.2 980.6L519.5 980.6Z" stroke="#111" stroke-width="1.5" fill="#fff"/>
<text transform="translate(522.5 977.6)" font-size="6.6" fill="#111" stroke="#111" stroke-width="0.08">I2C_SCL</text>
<path d="M569.4 986.4L580.7 986.4" stroke="#c81414" stroke-width="1.5"/>
<path d="M580.7 986.4L592 986.4" stroke="#1ecb1e" stroke-width="1.5" fill="none"/>
<path d="M519.5 981L564.2 981L569.4 986.4L564.2 991.8L519.5 991.8Z" stroke="#111" stroke-width="1.5" fill="#fff"/>
<text transform="translate(522.5 988.8)" font-size="6.6" fill="#111" stroke="#111" stroke-width="0.08">GP-CLK0</text>
<path d="M569.4 1008.7L580.7 1008.7" stroke="#c81414" stroke-width="1.5"/>
<path d="M580.7 1008.7L592 1008.7" stroke="#1ecb1e" stroke-width="1.5" fill="none"/>
<path d="M569.4 1003.3L524.7 1003.3L519.5 1008.7L524.7 1014.1L569.4 1014.1Z" stroke="#111" stroke-width="1.5" fill="#fff"/>
<text transform="translate(567.2 1011)" font-size="6.4" text-anchor="end" fill="#111" stroke="#111" stroke-width="0.08">RPI_PTT_LINK</text>
<path d="M569.4 1019.8L580.7 1019.8" stroke="#c81414" stroke-width="1.5"/>
<path d="M580.7 1019.8L592 1019.8" stroke="#1ecb1e" stroke-width="1.5" fill="none"/>
<path d="M519.5 1014.4L564.2 1014.4L569.4 1019.8L564.2 1025.2L519.5 1025.2Z" stroke="#111" stroke-width="1.5" fill="#fff"/>
<text transform="translate(522.5 1022.2)" font-size="6.6" fill="#111" stroke="#111" stroke-width="0.08">INPUT4</text>
<path d="M569.4 1031L580.7 1031" stroke="#c81414" stroke-width="1.5"/>
<path d="M580.7 1031L592 1031" stroke="#1ecb1e" stroke-width="1.5" fill="none"/>
<path d="M569.4 1025.6L524.7 1025.6L519.5 1031L524.7 1036.4L569.4 1036.4Z" stroke="#111" stroke-width="1.5" fill="#fff"/>
<text transform="translate(567.2 1033.3)" font-size="6.4" text-anchor="end" fill="#111" stroke="#111" stroke-width="0.08">RELAY_3</text>
<path d="M569.4 1053.3L580.7 1053.3" stroke="#c81414" stroke-width="1.5"/>
<path d="M580.7 1053.3L592 1053.3" stroke="#1ecb1e" stroke-width="1.5" fill="none"/>
<path d="M519.5 1047.9L564.2 1047.9L569.4 1053.3L564.2 1058.7L519.5 1058.7Z" stroke="#111" stroke-width="1.5" fill="#fff"/>
<text transform="translate(522.5 1055.7)" font-size="6.6" fill="#111" stroke="#111" stroke-width="0.08">MOSI</text>
<path d="M569.4 1064.5L580.7 1064.5" stroke="#c81414" stroke-width="1.5"/>
<path d="M580.7 1064.5L592 1064.5" stroke="#1ecb1e" stroke-width="1.5" fill="none"/>
<path d="M519.5 1059.1L564.2 1059.1L569.4 1064.5L564.2 1069.9L519.5 1069.9Z" stroke="#111" stroke-width="1.5" fill="#fff"/>
<text transform="translate(522.5 1066.9)" font-size="6.6" fill="#111" stroke="#111" stroke-width="0.08">MISO</text>
<path d="M569.4 1075.6L580.7 1075.6" stroke="#c81414" stroke-width="1.5"/>
<path d="M580.7 1075.6L592 1075.6" stroke="#1ecb1e" stroke-width="1.5" fill="none"/>
<path d="M519.5 1070.2L564.2 1070.2L569.4 1075.6L564.2 1081L519.5 1081Z" stroke="#111" stroke-width="1.5" fill="#fff"/>
<text transform="translate(522.5 1078)" font-size="6.6" fill="#111" stroke="#111" stroke-width="0.08">SCLK</text>
<path d="M569.4 1109.1L580.7 1109.1" stroke="#c81414" stroke-width="1.5"/>
<path d="M580.7 1109.1L592 1109.1" stroke="#1ecb1e" stroke-width="1.5" fill="none"/>
<path d="M519.5 1103.7L564.2 1103.7L569.4 1109.1L564.2 1114.5L519.5 1114.5Z" stroke="#111" stroke-width="1.5" fill="#fff"/>
<text transform="translate(522.5 1111.5)" font-size="6.6" fill="#111" stroke="#111" stroke-width="0.08">GPIO05</text>
<path d="M569.4 1120.3L580.7 1120.3" stroke="#c81414" stroke-width="1.5"/>
<path d="M580.7 1120.3L592 1120.3" stroke="#1ecb1e" stroke-width="1.5" fill="none"/>
<path d="M519.5 1114.9L564.2 1114.9L569.4 1120.3L564.2 1125.7L519.5 1125.7Z" stroke="#111" stroke-width="1.5" fill="#fff"/>
<text transform="translate(522.5 1122.6)" font-size="6.6" fill="#111" stroke="#111" stroke-width="0.08">GPIO06</text>
<path d="M569.4 1131.4L580.7 1131.4" stroke="#c81414" stroke-width="1.5"/>
<path d="M580.7 1131.4L592 1131.4" stroke="#1ecb1e" stroke-width="1.5" fill="none"/>
<path d="M519.5 1126L564.2 1126L569.4 1131.4L564.2 1136.8L519.5 1136.8Z" stroke="#111" stroke-width="1.5" fill="#fff"/>
<text transform="translate(522.5 1133.8)" font-size="6.6" fill="#111" stroke="#111" stroke-width="0.08">GPIO13</text>
<path d="M569.4 1142.6L580.7 1142.6" stroke="#c81414" stroke-width="1.5"/>
<path d="M580.7 1142.6L592 1142.6" stroke="#1ecb1e" stroke-width="1.5" fill="none"/>
<path d="M519.5 1137.2L564.2 1137.2L569.4 1142.6L564.2 1148L519.5 1148Z" stroke="#111" stroke-width="1.5" fill="#fff"/>
<text transform="translate(522.5 1145)" font-size="6.6" fill="#111" stroke="#111" stroke-width="0.08">RPI_SQL1</text>
<path d="M569.4 1153.7L580.7 1153.7" stroke="#c81414" stroke-width="1.5"/>
<path d="M580.7 1153.7L592 1153.7" stroke="#1ecb1e" stroke-width="1.5" fill="none"/>
<path d="M519.5 1148.3L564.2 1148.3L569.4 1153.7L564.2 1159.1L519.5 1159.1Z" stroke="#111" stroke-width="1.5" fill="#fff"/>
<text transform="translate(522.5 1156.1)" font-size="6.6" fill="#111" stroke="#111" stroke-width="0.08">INPUT3</text>
<path d="M625.5 986.4L636.5 986.4" stroke="#1ecb1e" stroke-width="1.5" fill="none"/>
<path d="M636.5 986.4L647.1 986.4" stroke="#c81414" stroke-width="1.5"/>
<path d="M647.1 981L692.8 981L698 986.4L692.8 991.8L647.1 991.8Z" stroke="#111" stroke-width="1.5" fill="#fff"/>
<text transform="translate(650 988.8)" font-size="6.6" fill="#111" stroke="#111" stroke-width="0.08">RPI_TX</text>
<path d="M625.5 997.5L636.5 997.5" stroke="#1ecb1e" stroke-width="1.5" fill="none"/>
<path d="M636.5 997.5L647.1 997.5" stroke="#c81414" stroke-width="1.5"/>
<path d="M647.1 992.1L692.8 992.1L698 997.5L692.8 1002.9L647.1 1002.9Z" stroke="#111" stroke-width="1.5" fill="#fff"/>
<text transform="translate(650 999.9)" font-size="6.6" fill="#111" stroke="#111" stroke-width="0.08">RPI_RX</text>
<path d="M625.5 1008.7L636.5 1008.7" stroke="#1ecb1e" stroke-width="1.5" fill="none"/>
<path d="M636.5 1008.7L647.1 1008.7" stroke="#c81414" stroke-width="1.5"/>
<path d="M698 1003.3L652.3 1003.3L647.1 1008.7L652.3 1014.1L698 1014.1Z" stroke="#111" stroke-width="1.5" fill="#fff"/>
<text transform="translate(695.7 1011.1)" font-size="6.6" text-anchor="end" fill="#111" stroke="#111" stroke-width="0.08">RPI_SQL2</text>
<path d="M625.5 1031L636.5 1031" stroke="#1ecb1e" stroke-width="1.5" fill="none"/>
<path d="M636.5 1031L647.1 1031" stroke="#c81414" stroke-width="1.5"/>
<path d="M647.1 1025.6L692.8 1025.6L698 1031L692.8 1036.4L647.1 1036.4Z" stroke="#111" stroke-width="1.5" fill="#fff"/>
<text transform="translate(650 1033.4)" font-size="6.6" fill="#111" stroke="#111" stroke-width="0.08">RELAY_4</text>
<path d="M625.5 1042.2L636.5 1042.2" stroke="#1ecb1e" stroke-width="1.5" fill="none"/>
<path d="M636.5 1042.2L647.1 1042.2" stroke="#c81414" stroke-width="1.5"/>
<path d="M698 1036.8L652.3 1036.8L647.1 1042.2L652.3 1047.6L698 1047.6Z" stroke="#111" stroke-width="1.5" fill="#fff"/>
<text transform="translate(695.7 1044.5)" font-size="6.6" text-anchor="end" fill="#111" stroke="#111" stroke-width="0.08">INPUT1</text>
<path d="M625.5 1064.5L636.5 1064.5" stroke="#1ecb1e" stroke-width="1.5" fill="none"/>
<path d="M636.5 1064.5L647.1 1064.5" stroke="#c81414" stroke-width="1.5"/>
<path d="M698 1059.1L652.3 1059.1L647.1 1064.5L652.3 1069.9L698 1069.9Z" stroke="#111" stroke-width="1.5" fill="#fff"/>
<text transform="translate(695.7 1066.9)" font-size="6.6" text-anchor="end" fill="#111" stroke="#111" stroke-width="0.08">INPUT2</text>
<path d="M625.5 1075.6L636.5 1075.6" stroke="#1ecb1e" stroke-width="1.5" fill="none"/>
<path d="M636.5 1075.6L647.1 1075.6" stroke="#c81414" stroke-width="1.5"/>
<path d="M698 1070.2L652.3 1070.2L647.1 1075.6L652.3 1081L698 1081Z" stroke="#111" stroke-width="1.5" fill="#fff"/>
<text transform="translate(695.7 1078)" font-size="6.6" text-anchor="end" fill="#111" stroke="#111" stroke-width="0.08">CS-0</text>
<path d="M625.5 1086.8L636.5 1086.8" stroke="#1ecb1e" stroke-width="1.5" fill="none"/>
<path d="M636.5 1086.8L647.1 1086.8" stroke="#c81414" stroke-width="1.5"/>
<path d="M698 1081.4L652.3 1081.4L647.1 1086.8L652.3 1092.2L698 1092.2Z" stroke="#111" stroke-width="1.5" fill="#fff"/>
<text transform="translate(695.7 1089.2)" font-size="6.6" text-anchor="end" fill="#111" stroke="#111" stroke-width="0.08">GPIO07/CS-1</text>
<path d="M625.5 1120.3L636.5 1120.3" stroke="#1ecb1e" stroke-width="1.5" fill="none"/>
<path d="M636.5 1120.3L647.1 1120.3" stroke="#c81414" stroke-width="1.5"/>
<path d="M647.1 1114.9L692.8 1114.9L698 1120.3L692.8 1125.7L647.1 1125.7Z" stroke="#111" stroke-width="1.5" fill="#fff"/>
<text transform="translate(650 1122.6)" font-size="6.6" fill="#111" stroke="#111" stroke-width="0.08">RPI_WDOG</text>
<path d="M625.5 1142.6L636.5 1142.6" stroke="#1ecb1e" stroke-width="1.5" fill="none"/>
<path d="M636.5 1142.6L647.1 1142.6" stroke="#c81414" stroke-width="1.5"/>
<path d="M647.1 1137.2L692.8 1137.2L698 1142.6L692.8 1148L647.1 1148Z" stroke="#111" stroke-width="1.5" fill="#fff"/>
<text transform="translate(650 1144.7)" font-size="6.0" fill="#111" stroke="#111" stroke-width="0.08">RPI_PTT_RPTER</text>
<path d="M625.5 1153.7L636.5 1153.7" stroke="#1ecb1e" stroke-width="1.5" fill="none"/>
<path d="M636.5 1153.7L647.1 1153.7" stroke="#c81414" stroke-width="1.5"/>
<path d="M647.1 1148.3L692.8 1148.3L698 1153.7L692.8 1159.1L647.1 1159.1Z" stroke="#111" stroke-width="1.5" fill="#fff"/>
<text transform="translate(650 1156.1)" font-size="6.6" fill="#111" stroke="#111" stroke-width="0.08">RELAY_1</text>
<path d="M625.5 1164.9L636.5 1164.9" stroke="#1ecb1e" stroke-width="1.5" fill="none"/>
<path d="M636.5 1164.9L647.1 1164.9" stroke="#c81414" stroke-width="1.5"/>
<path d="M647.1 1159.5L692.8 1159.5L698 1164.9L692.8 1170.3L647.1 1170.3Z" stroke="#111" stroke-width="1.5" fill="#fff"/>
<text transform="translate(650 1167.3)" font-size="6.6" fill="#111" stroke="#111" stroke-width="0.08">RELAY_2</text>
<path d="M508.2 952.9L592 952.9" stroke="#1ecb1e" stroke-width="1.5" fill="none"/>
<path d="M508.2 942L508.2 952.9" stroke="#c81414" stroke-width="1.5"/>
<circle cx="580.7" cy="952.9" r="2.3" fill="#1ecb1e"/>
<circle cx="508.2" cy="936.4" r="5.6" fill="#fff" stroke="#111" stroke-width="1.2"/>
<path d="M505 936.4L511.4 936.4" stroke="#111" stroke-width="1.3"/>
<path d="M508.2 933.2L508.2 939.6" stroke="#111" stroke-width="1.3"/>
<text transform="translate(498.3 927.7) scale(0.8 1)" font-size="10" fill="#222">+3,3V</text>
<path d="M580.7 952.9L580.7 924.9L572.9 924.9" stroke="#1ecb1e" stroke-width="1.5" fill="none"/>
<path d="M572.9 924.9L566.6 924.9" stroke="#c81414" stroke-width="1.5"/>
<path d="M548.9 924.9L561.9 924.9" stroke="#c81414" stroke-width="1.5"/>
<path d="M540.2 924.9L548.9 924.9" stroke="#1ecb1e" stroke-width="1.5" fill="none"/>
<path d="M561.9 916.6L561.9 932.9" stroke="#000" stroke-width="2.2"/>
<path d="M566.6 916.6L566.6 932.9" stroke="#000" stroke-width="2.2"/>
<path d="M540.2 924.9L540.2 935.9" stroke="#c81414" stroke-width="1.5"/>
<path d="M532.1 937.3L548.6 937.3" stroke="#000" stroke-width="2.8"/>
<text transform="translate(559.5 931) scale(0.85 1)" font-size="6.4" text-anchor="end" fill="#c81414" stroke="#c81414" stroke-width="0.12">2</text>
<text transform="translate(568.6 931) scale(0.85 1)" font-size="6.4" fill="#c81414" stroke="#c81414" stroke-width="0.12">1</text>
<path d="M570.2 932.6L573.4 932.6" stroke="#222" stroke-width="0.8"/>
<path d="M571.8 931L571.8 934.2" stroke="#222" stroke-width="0.8"/>
<text transform="translate(544.7 913.6) scale(0.78 1)" font-size="12.7">C12</text>
<text transform="translate(567.8 913.6) scale(0.78 1)" font-size="12.7">0,1µF</text>
<path d="M627.8 912.6L627.8 923" stroke="#c81414" stroke-width="1.5"/>
<path d="M627.8 923L627.8 964.1L625.5 964.1" stroke="#1ecb1e" stroke-width="1.5" fill="none"/>
<path d="M625.5 952.9L627.8 952.9" stroke="#1ecb1e" stroke-width="1.5" fill="none"/>
<circle cx="627.8" cy="937.6" r="2.3" fill="#1ecb1e"/>
<circle cx="627.8" cy="952.9" r="2.3" fill="#1ecb1e"/>
<circle cx="627.8" cy="907" r="5.6" fill="#fff" stroke="#111" stroke-width="1.2"/>
<path d="M624.6 907L631 907" stroke="#111" stroke-width="1.3"/>
<path d="M627.8 903.8L627.8 910.2" stroke="#111" stroke-width="1.3"/>
<text transform="translate(636.5 903.7) scale(0.8 1)" font-size="10" fill="#222">+5V</text>
<path d="M627.8 937.6L656.1 937.6" stroke="#1ecb1e" stroke-width="1.5" fill="none"/>
<path d="M656.1 937.6L669.8 937.6" stroke="#c81414" stroke-width="1.5"/>
<path d="M675.7 937.6L689.1 937.6" stroke="#c81414" stroke-width="1.5"/>
<path d="M669.8 929.3L669.8 945.8" stroke="#000" stroke-width="2.2"/>
<path d="M675.7 929.3L675.7 945.8" stroke="#000" stroke-width="2.2"/>
<path d="M689.1 937.6L711.5 937.6L711.5 944.2" stroke="#1ecb1e" stroke-width="1.5" fill="none"/>
<path d="M711.5 944.2L711.5 953.8" stroke="#c81414" stroke-width="1.5"/>
<path d="M703.2 955.3L719.8 955.3" stroke="#000" stroke-width="2.8"/>
<text transform="translate(667.3 943.8) scale(0.85 1)" font-size="6.4" text-anchor="end" fill="#c81414" stroke="#c81414" stroke-width="0.12">1</text>
<text transform="translate(677.8 943.8) scale(0.85 1)" font-size="6.4" fill="#c81414" stroke="#c81414" stroke-width="0.12">2</text>
<path d="M662.7 930.5L665.9 930.5" stroke="#222" stroke-width="0.8"/>
<path d="M664.3 928.9L664.3 932.1" stroke="#222" stroke-width="0.8"/>
<text transform="translate(650.9 926) scale(0.78 1)" font-size="12.7">C13</text>
<text transform="translate(676.1 926) scale(0.78 1)" font-size="12.7">0,1µF</text>
<path d="M625.5 975.2L670.2 975.2L670.2 964.2L711.5 964.2" stroke="#1ecb1e" stroke-width="1.5" fill="none"/>
<path d="M711.5 964.2L711.5 975.2" stroke="#c81414" stroke-width="1.5"/>
<path d="M703.2 976.6L719.8 976.6" stroke="#000" stroke-width="2.8"/>
<path d="M592 997.5L506.5 997.5" stroke="#1ecb1e" stroke-width="1.5" fill="none"/>
<path d="M506.5 997.5L506.5 1008.3" stroke="#c81414" stroke-width="1.5"/>
<path d="M498.4 1009.8L514.9 1009.8" stroke="#000" stroke-width="2.8"/>
<path d="M625.5 1019.8L710.3 1019.8" stroke="#1ecb1e" stroke-width="1.5" fill="none"/>
<path d="M710.3 1019.8L710.3 1030.2" stroke="#c81414" stroke-width="1.5"/>
<path d="M702 1031.7L718.5 1031.7" stroke="#000" stroke-width="2.8"/>
<path d="M625.5 1053.3L710.3 1053.3" stroke="#1ecb1e" stroke-width="1.5" fill="none"/>
<path d="M710.3 1053.3L710.3 1063.7" stroke="#c81414" stroke-width="1.5"/>
<path d="M702 1065.2L718.5 1065.2" stroke="#000" stroke-width="2.8"/>
<path d="M625.5 1131.4L710.3 1131.4" stroke="#1ecb1e" stroke-width="1.5" fill="none"/>
<path d="M710.3 1131.4L710.3 1141.8" stroke="#c81414" stroke-width="1.5"/>
<path d="M702 1143.3L718.5 1143.3" stroke="#000" stroke-width="2.8"/>
<path d="M592 1042.2L506.5 1042.2L506.5 1036" stroke="#1ecb1e" stroke-width="1.5" fill="none"/>
<path d="M506.5 1036L506.5 1025.2" stroke="#c81414" stroke-width="1.5"/>
<circle cx="506.9" cy="1019.6" r="5.6" fill="#fff" stroke="#111" stroke-width="1.2"/>
<path d="M503.7 1019.6L510.1 1019.6" stroke="#111" stroke-width="1.3"/>
<path d="M506.9 1016.4L506.9 1022.8" stroke="#111" stroke-width="1.3"/>
<text transform="translate(478.2 1030.9) scale(0.8 1)" font-size="10" fill="#222">+3,3V</text>
<path d="M592 1086.8L580.2 1086.8" stroke="#1ecb1e" stroke-width="1.5" fill="none"/>
<path d="M580.2 1086.8L580.2 1097.2" stroke="#c81414" stroke-width="1.5"/>
<path d="M572.5 1098.7L589 1098.7" stroke="#000" stroke-width="2.8"/>
<path d="M592 1164.9L580.2 1164.9" stroke="#1ecb1e" stroke-width="1.5" fill="none"/>
<path d="M580.2 1164.9L580.2 1175.3" stroke="#c81414" stroke-width="1.5"/>
<path d="M572.5 1176.8L589 1176.8" stroke="#000" stroke-width="2.8"/>
<path d="M625.5 1109.1L669.8 1109.1L669.8 1097.8L709.1 1097.8" stroke="#1ecb1e" stroke-width="1.5" fill="none"/>
<path d="M709.1 1097.8L709.1 1107.9" stroke="#c81414" stroke-width="1.5"/>
<path d="M700.9 1109.5L717.4 1109.5" stroke="#000" stroke-width="2.8"/>
<text x="785.2" y="931.2" font-size="26.2" textLength="160.1" lengthAdjust="spacingAndGlyphs">RS-232 PORT</text>
<path d="M784.7 934L945.8 934" stroke="#000" stroke-width="1.3"/>
<text transform="translate(947.3 941.4) scale(0.85 1)" font-size="5.9" text-anchor="end" fill="#4a4aff" font-style="italic">(Optional)</text>
<path d="M1044.4 933.4L1044.4 959.5" stroke="#c81414" stroke-width="1.5"/>
<circle cx="1044.4" cy="944.6" r="2.3" fill="#1ecb1e"/>
<circle cx="1044.4" cy="927.7" r="5.6" fill="#fff" stroke="#111" stroke-width="1.2"/>
<path d="M1041.2 927.7L1047.6 927.7" stroke="#111" stroke-width="1.3"/>
<path d="M1044.4 924.5L1044.4 930.9" stroke="#111" stroke-width="1.3"/>
<text transform="translate(1052.4 930.5) scale(0.8 1)" font-size="10" fill="#222">+3,3V</text>
<text transform="translate(1046.3 958.5) scale(0.85 1)" font-size="6.4" fill="#c81414" stroke="#c81414" stroke-width="0.12">16</text>
<text transform="translate(1046.3 1033.5) scale(0.85 1)" font-size="6.4" fill="#c81414" stroke="#c81414" stroke-width="0.12">15</text>
<text transform="translate(1048 983.7) rotate(-90) scale(0.8 1)" font-size="8.8">VCC</text>
<text transform="translate(1048 1024.2) rotate(-90) scale(0.8 1)" font-size="8.8">GND</text>
<text transform="translate(1034.3 997.1) scale(0.78 1)" font-size="12.7">IC4</text>
<path d="M1044.4 1026.1L1044.4 1050.1" stroke="#c81414" stroke-width="1.5"/>
<circle cx="1044.4" cy="1038.8" r="2.3" fill="#1ecb1e"/>
<path d="M1036.5 1051.6L1053 1051.6" stroke="#000" stroke-width="2.8"/>
<path d="M1044.4 944.6L1075.5 944.6L1075.5 975.2" stroke="#1ecb1e" stroke-width="1.5" fill="none"/>
<path d="M1075.5 1007.7L1075.5 1038.8L1044.4 1038.8" stroke="#1ecb1e" stroke-width="1.5" fill="none"/>
<path d="M1075.5 975.2L1075.5 989.1" stroke="#c81414" stroke-width="1.5"/>
<path d="M1075.5 994.8L1075.5 1007.7" stroke="#c81414" stroke-width="1.5"/>
<path d="M1067.3 989.1L1083.8 989.1" stroke="#000" stroke-width="2.2"/>
<path d="M1067.3 994.8L1083.8 994.8" stroke="#000" stroke-width="2.2"/>
<text transform="translate(1077.3 986.5) scale(0.85 1)" font-size="6.4" fill="#c81414" stroke="#c81414" stroke-width="0.12">1</text>
<text transform="translate(1077.3 1001.8) scale(0.85 1)" font-size="6.4" fill="#c81414" stroke="#c81414" stroke-width="0.12">2</text>
<path d="M1079.6 983.5L1083.2 983.5" stroke="#222" stroke-width="0.8"/>
<path d="M1081.4 981.7L1081.4 985.3" stroke="#222" stroke-width="0.8"/>
<text transform="translate(1095.5 1013.6) rotate(-90) scale(0.78 1)" font-size="12.7">C19 0,1µF</text>
<path d="M849.5 1052L860.8 1052" stroke="#c81414" stroke-width="1.5"/>
<text transform="translate(859.3 1058.2) scale(0.85 1)" font-size="6.4" text-anchor="end" fill="#c81414" stroke="#c81414" stroke-width="0.12">1</text>
<path d="M849.5 1063.1L860.8 1063.1" stroke="#c81414" stroke-width="1.5"/>
<text transform="translate(859.3 1069.3) scale(0.85 1)" font-size="6.4" text-anchor="end" fill="#c81414" stroke="#c81414" stroke-width="0.12">3</text>
<path d="M849.5 1074.2L860.8 1074.2" stroke="#c81414" stroke-width="1.5"/>
<text transform="translate(859.3 1080.4) scale(0.85 1)" font-size="6.4" text-anchor="end" fill="#c81414" stroke="#c81414" stroke-width="0.12">4</text>
<path d="M849.5 1085.3L860.8 1085.3" stroke="#c81414" stroke-width="1.5"/>
<text transform="translate(859.3 1091.5) scale(0.85 1)" font-size="6.4" text-anchor="end" fill="#c81414" stroke="#c81414" stroke-width="0.12">5</text>
<path d="M849.5 1107.5L860.8 1107.5" stroke="#c81414" stroke-width="1.5"/>
<text transform="translate(859.3 1113.7) scale(0.85 1)" font-size="6.4" text-anchor="end" fill="#c81414" stroke="#c81414" stroke-width="0.12">11</text>
<path d="M849.5 1118.6L860.8 1118.6" stroke="#c81414" stroke-width="1.5"/>
<text transform="translate(859.3 1124.8) scale(0.85 1)" font-size="6.4" text-anchor="end" fill="#c81414" stroke="#c81414" stroke-width="0.12">10</text>
<path d="M849.5 1129.7L860.8 1129.7" stroke="#c81414" stroke-width="1.5"/>
<text transform="translate(859.3 1135.9) scale(0.85 1)" font-size="6.4" text-anchor="end" fill="#c81414" stroke="#c81414" stroke-width="0.12">12</text>
<path d="M849.5 1140.8L860.8 1140.8" stroke="#c81414" stroke-width="1.5"/>
<text transform="translate(859.3 1147) scale(0.85 1)" font-size="6.4" text-anchor="end" fill="#c81414" stroke="#c81414" stroke-width="0.12">9</text>
<path d="M961.3 1052L972.6 1052" stroke="#c81414" stroke-width="1.5"/>
<text transform="translate(963 1058.2) scale(0.85 1)" font-size="6.4" fill="#c81414" stroke="#c81414" stroke-width="0.12">2</text>
<path d="M961.3 1063.1L972.6 1063.1" stroke="#c81414" stroke-width="1.5"/>
<text transform="translate(963 1069.3) scale(0.85 1)" font-size="6.4" fill="#c81414" stroke="#c81414" stroke-width="0.12">6</text>
<path d="M961.3 1085.3L972.6 1085.3" stroke="#c81414" stroke-width="1.5"/>
<text transform="translate(963 1091.5) scale(0.85 1)" font-size="6.4" fill="#c81414" stroke="#c81414" stroke-width="0.12">14</text>
<path d="M961.3 1096.4L972.6 1096.4" stroke="#c81414" stroke-width="1.5"/>
<text transform="translate(963 1102.6) scale(0.85 1)" font-size="6.4" fill="#c81414" stroke="#c81414" stroke-width="0.12">7</text>
<path d="M961.3 1107.5L972.6 1107.5" stroke="#c81414" stroke-width="1.5"/>
<text transform="translate(963 1113.7) scale(0.85 1)" font-size="6.4" fill="#c81414" stroke="#c81414" stroke-width="0.12">13</text>
<path d="M961.3 1118.6L972.6 1118.6" stroke="#c81414" stroke-width="1.5"/>
<text transform="translate(963 1124.8) scale(0.85 1)" font-size="6.4" fill="#c81414" stroke="#c81414" stroke-width="0.12">8</text>
<rect x="860.8" y="1040.2" width="100.5" height="111.9" stroke="#111" stroke-width="1.3" fill="#fff"/>
<text transform="translate(862.9 1055.7) scale(0.8 1)" font-size="10.2">C1+</text>
<text transform="translate(862.9 1066.8) scale(0.8 1)" font-size="10.2">C1-</text>
<text transform="translate(862.9 1077.9) scale(0.8 1)" font-size="10.2">C2+</text>
<text transform="translate(862.9 1089) scale(0.8 1)" font-size="10.2">C2-</text>
<text transform="translate(862.9 1111.2) scale(0.8 1)" font-size="10.2">T1IN</text>
<text transform="translate(862.9 1122.3) scale(0.8 1)" font-size="10.2">T2IN</text>
<text transform="translate(862.9 1133.4) scale(0.8 1)" font-size="10.2">R1OUT</text>
<text transform="translate(862.9 1144.5) scale(0.8 1)" font-size="10.2">R2OUT</text>
<text transform="translate(955.4 1055.7) scale(0.8 1)" font-size="10.2" text-anchor="end">V+</text>
<text transform="translate(955.4 1066.8) scale(0.8 1)" font-size="10.2" text-anchor="end">V-</text>
<text transform="translate(950.5 1089) scale(0.8 1)" font-size="10.2" text-anchor="end">T1OUT</text>
<text transform="translate(950.5 1100.1) scale(0.8 1)" font-size="10.2" text-anchor="end">T2OUT</text>
<text transform="translate(953.2 1111.2) scale(0.8 1)" font-size="10.2" text-anchor="end">R1IN</text>
<text transform="translate(953.2 1122.3) scale(0.8 1)" font-size="10.2" text-anchor="end">R2IN</text>
<text transform="translate(860.8 1037.9) scale(0.78 1)" font-size="12.7">IC4a</text>
<text transform="translate(916.6 1163.8) scale(0.78 1)" font-size="12.7">MAX3232</text>
<path d="M816 1028.9L816 1026.1L831.3 1026.1L831.3 1052L849.5 1052" stroke="#1ecb1e" stroke-width="1.5" fill="none"/>
<path d="M816 1028.9L816 1042.6" stroke="#c81414" stroke-width="1.5"/>
<path d="M816 1047.9L816 1061.9" stroke="#c81414" stroke-width="1.5"/>
<path d="M807.8 1042.6L824.3 1042.6" stroke="#000" stroke-width="2.2"/>
<path d="M807.8 1047.9L824.3 1047.9" stroke="#000" stroke-width="2.2"/>
<text transform="translate(817.8 1040) scale(0.85 1)" font-size="6.4" fill="#c81414" stroke="#c81414" stroke-width="0.12">1</text>
<text transform="translate(817.8 1054.9) scale(0.85 1)" font-size="6.4" fill="#c81414" stroke="#c81414" stroke-width="0.12">2</text>
<path d="M821.8 1036.5L825.4 1036.5" stroke="#222" stroke-width="0.8"/>
<path d="M823.6 1034.7L823.6 1038.3" stroke="#222" stroke-width="0.8"/>
<path d="M816 1061.9L816 1063.1L849.5 1063.1" stroke="#1ecb1e" stroke-width="1.5" fill="none"/>
<text transform="translate(805.4 1060.7) rotate(-90) scale(0.78 1)" font-size="12.7">C21 0,1µF</text>
<path d="M816 1076L816 1074.2L849.5 1074.2" stroke="#1ecb1e" stroke-width="1.5" fill="none"/>
<path d="M816 1076L816 1088" stroke="#c81414" stroke-width="1.5"/>
<path d="M816 1093.6L816 1106.6" stroke="#c81414" stroke-width="1.5"/>
<path d="M807.8 1088L824.3 1088" stroke="#000" stroke-width="2.2"/>
<path d="M807.8 1093.6L824.3 1093.6" stroke="#000" stroke-width="2.2"/>
<text transform="translate(817.8 1085.4) scale(0.85 1)" font-size="6.4" fill="#c81414" stroke="#c81414" stroke-width="0.12">1</text>
<text transform="translate(817.8 1100.6) scale(0.85 1)" font-size="6.4" fill="#c81414" stroke="#c81414" stroke-width="0.12">2</text>
<path d="M821.8 1082.4L825.4 1082.4" stroke="#222" stroke-width="0.8"/>
<path d="M823.6 1080.6L823.6 1084.2" stroke="#222" stroke-width="0.8"/>
<path d="M816 1106.6L831.3 1106.6L831.3 1085.3L849.5 1085.3" stroke="#1ecb1e" stroke-width="1.5" fill="none"/>
<text transform="translate(805.4 1113.7) rotate(-90) scale(0.78 1)" font-size="12.7">C22 0,1µF</text>
<path d="M824.8 1125L835.3 1125" stroke="#c81414" stroke-width="1.5"/>
<path d="M835.3 1125L840.1 1125L840.1 1107.5L849.5 1107.5" stroke="#1ecb1e" stroke-width="1.5" fill="none"/>
<path d="M774.1 1119.5L819.6 1119.5L824.8 1125L819.6 1130.5L774.1 1130.5Z" stroke="#111" stroke-width="1.5" fill="#fff"/>
<text transform="translate(819 1128.3) scale(0.86 1)" font-size="9.3" text-anchor="end" fill="#111" stroke="#111" stroke-width="0.08">RPI_TX</text>
<path d="M824.8 1147.8L835.3 1147.8" stroke="#c81414" stroke-width="1.5"/>
<path d="M835.3 1147.8L844.1 1147.8L844.1 1129.7L849.5 1129.7" stroke="#1ecb1e" stroke-width="1.5" fill="none"/>
<path d="M774.1 1142.3L819.6 1142.3L824.8 1147.8L819.6 1153.3L774.1 1153.3Z" stroke="#111" stroke-width="1.5" fill="#fff"/>
<text transform="translate(819 1151.1) scale(0.86 1)" font-size="9.3" text-anchor="end" fill="#111" stroke="#111" stroke-width="0.08">RPI_RX</text>
<path d="M972.6 1052L973.1 1052L973.1 1038.8L982.5 1038.8" stroke="#1ecb1e" stroke-width="1.5" fill="none"/>
<path d="M982.5 1038.8L996.8 1038.8" stroke="#c81414" stroke-width="1.5"/>
<path d="M1001.8 1038.8L1015.5 1038.8" stroke="#c81414" stroke-width="1.5"/>
<path d="M996.8 1030.8L996.8 1047.3" stroke="#000" stroke-width="2.2"/>
<path d="M1001.8 1030.8L1001.8 1047.3" stroke="#000" stroke-width="2.2"/>
<path d="M1015.5 1038.8L1020.9 1038.8" stroke="#1ecb1e" stroke-width="1.5" fill="none"/>
<path d="M1020.9 1038.8L1020.9 1050.1" stroke="#c81414" stroke-width="1.5"/>
<path d="M1012.6 1051.6L1029.2 1051.6" stroke="#000" stroke-width="2.8"/>
<text transform="translate(994.5 1045.2) scale(0.85 1)" font-size="6.4" text-anchor="end" fill="#c81414" stroke="#c81414" stroke-width="0.12">1</text>
<text transform="translate(1003.8 1045.2) scale(0.85 1)" font-size="6.4" fill="#c81414" stroke="#c81414" stroke-width="0.12">2</text>
<path d="M988.7 1032L991.9 1032" stroke="#222" stroke-width="0.8"/>
<path d="M990.3 1030.4L990.3 1033.6" stroke="#222" stroke-width="0.8"/>
<text transform="translate(988.9 1027.3) scale(0.78 1)" font-size="12.7">C20</text>
<text transform="translate(984.9 1057.2) scale(0.78 1)" font-size="12.7">0,1µF</text>
<path d="M972.6 1063.1L1026.5 1063.1L1026.5 1068.5" stroke="#1ecb1e" stroke-width="1.5" fill="none"/>
<path d="M1026.5 1068.5L1026.5 1076.7" stroke="#c81414" stroke-width="1.5"/>
<path d="M1026.5 1082.3L1026.5 1092.5" stroke="#c81414" stroke-width="1.5"/>
<path d="M1018.3 1076.7L1034.8 1076.7" stroke="#000" stroke-width="2.2"/>
<path d="M1018.3 1082.3L1034.8 1082.3" stroke="#000" stroke-width="2.2"/>
<text transform="translate(1028.3 1074.1) scale(0.85 1)" font-size="6.4" fill="#c81414" stroke="#c81414" stroke-width="0.12">1</text>
<text transform="translate(1028.3 1089.3) scale(0.85 1)" font-size="6.4" fill="#c81414" stroke="#c81414" stroke-width="0.12">2</text>
<path d="M1031.3 1071.3L1034.9 1071.3" stroke="#222" stroke-width="0.8"/>
<path d="M1033.1 1069.5L1033.1 1073.1" stroke="#222" stroke-width="0.8"/>
<path d="M1026.5 1092.5L1026.5 1111.3L1032 1111.3" stroke="#1ecb1e" stroke-width="1.5" fill="none"/>
<circle cx="1026.5" cy="1098.9" r="2.3" fill="#1ecb1e"/>
<path d="M1026.5 1098.9L1013.8 1098.9" stroke="#1ecb1e" stroke-width="1.5" fill="none"/>
<path d="M1013.8 1098.9L1013.8 1110.2" stroke="#c81414" stroke-width="1.5"/>
<path d="M1005.6 1111.5L1022.1 1111.5" stroke="#000" stroke-width="2.8"/>
<text transform="translate(1046.1 1085.4) rotate(-90) scale(0.78 1)" font-size="12.7">C23</text>
<text transform="translate(1013.1 1090.1) rotate(-90) scale(0.78 1)" font-size="12.7">0,1µF</text>
<path d="M1032 1111.3L1043.3 1111.3" stroke="#c81414" stroke-width="1.5"/>
<text transform="translate(1041.9 1117.2) scale(0.85 1)" font-size="6.4" text-anchor="end" fill="#c81414" stroke="#c81414" stroke-width="0.12">1</text>
<path d="M1032 1122.6L1043.3 1122.6" stroke="#c81414" stroke-width="1.5"/>
<text transform="translate(1041.9 1128.5) scale(0.85 1)" font-size="6.4" text-anchor="end" fill="#c81414" stroke="#c81414" stroke-width="0.12">2</text>
<path d="M1032 1134.2L1043.3 1134.2" stroke="#c81414" stroke-width="1.5"/>
<text transform="translate(1041.9 1140.1) scale(0.85 1)" font-size="6.4" text-anchor="end" fill="#c81414" stroke="#c81414" stroke-width="0.12">3</text>
<rect x="1043.3" y="1105.9" width="11" height="33.2" stroke="#111" stroke-width="1.5" fill="#fff"/>
<text transform="translate(1041.4 1103.1) scale(0.78 1)" font-size="12.7">J27</text>
<text transform="translate(1057.9 1114.9) scale(0.8 1)" font-size="10.6">GND</text>
<text transform="translate(1057.9 1126.3) scale(0.8 1)" font-size="10.6">TXD</text>
<text transform="translate(1057.9 1137.2) scale(0.8 1)" font-size="10.6">RXD</text>
<text transform="translate(1043.7 1150.9) scale(0.95 1)" font-size="13.6">RS232</text>
<path d="M972.6 1085.3L999.7 1085.3L999.7 1122.6L1032 1122.6" stroke="#1ecb1e" stroke-width="1.5" fill="none"/>
<path d="M972.6 1107.5L989.1 1107.5L989.1 1134.2L1032 1134.2" stroke="#1ecb1e" stroke-width="1.5" fill="none"/>
<text x="1141.9" y="735.3" font-size="26.2" textLength="224.1" lengthAdjust="spacingAndGlyphs">RELAYS OUTPUTS</text>
<path d="M1141.4 738.1L1366.5 738.1" stroke="#000" stroke-width="1.3"/>
<text transform="translate(1367.3 745.6) scale(0.85 1)" font-size="5.9" text-anchor="end" fill="#4a4aff" font-style="italic">(Optional)</text>
<rect x="1261.8" y="786.6" width="61.3" height="175.6" stroke="#111" stroke-width="1.3" fill="#fff"/>
<path d="M1261.8 797.9L1269.6 797.9" stroke="#111" stroke-width="1.2"/>
<path d="M1269.6 792.3L1280.8 797.9L1269.6 803.5Z" stroke="#111" stroke-width="1.2" fill="#fff"/>
<circle cx="1284" cy="797.9" r="1.7" fill="#fff" stroke="#111" stroke-width="1.1"/>
<path d="M1285.7 797.9L1323.1 797.9" stroke="#111" stroke-width="1.2"/>
<circle cx="1314.7" cy="797.9" r="1.5" fill="#111"/>
<path d="M1314.7 797.9L1314.7 809.1L1289.5 809.1" stroke="#111" stroke-width="1.2" fill="none"/>
<path d="M1298.1 803.5L1298.1 814.7" stroke="#111" stroke-width="1.3"/>
<path d="M1303.7 803.5L1298.1 809.1L1303.7 814.7Z" stroke="#111" stroke-width="1.2" fill="#fff"/>
<path d="M1261.8 820.2L1269.6 820.2" stroke="#111" stroke-width="1.2"/>
<path d="M1269.6 814.6L1280.8 820.2L1269.6 825.8Z" stroke="#111" stroke-width="1.2" fill="#fff"/>
<circle cx="1284" cy="820.2" r="1.7" fill="#fff" stroke="#111" stroke-width="1.1"/>
<path d="M1285.7 820.2L1323.1 820.2" stroke="#111" stroke-width="1.2"/>
<circle cx="1314.7" cy="820.2" r="1.5" fill="#111"/>
<path d="M1314.7 820.2L1314.7 831.4L1289.5 831.4" stroke="#111" stroke-width="1.2" fill="none"/>
<path d="M1298.1 825.8L1298.1 837" stroke="#111" stroke-width="1.3"/>
<path d="M1303.7 825.8L1298.1 831.4L1303.7 837Z" stroke="#111" stroke-width="1.2" fill="#fff"/>
<circle cx="1289.5" cy="831.4" r="2.0" fill="#111"/>
<path d="M1261.8 842.5L1269.6 842.5" stroke="#111" stroke-width="1.2"/>
<path d="M1269.6 836.9L1280.8 842.5L1269.6 848.1Z" stroke="#111" stroke-width="1.2" fill="#fff"/>
<circle cx="1284" cy="842.5" r="1.7" fill="#fff" stroke="#111" stroke-width="1.1"/>
<path d="M1285.7 842.5L1323.1 842.5" stroke="#111" stroke-width="1.2"/>
<circle cx="1314.7" cy="842.5" r="1.5" fill="#111"/>
<path d="M1314.7 842.5L1314.7 853.7L1289.5 853.7" stroke="#111" stroke-width="1.2" fill="none"/>
<path d="M1298.1 848.1L1298.1 859.3" stroke="#111" stroke-width="1.3"/>
<path d="M1303.7 848.1L1298.1 853.7L1303.7 859.3Z" stroke="#111" stroke-width="1.2" fill="#fff"/>
<circle cx="1289.5" cy="853.7" r="2.0" fill="#111"/>
<path d="M1261.8 864.8L1269.6 864.8" stroke="#111" stroke-width="1.2"/>
<path d="M1269.6 859.2L1280.8 864.8L1269.6 870.4Z" stroke="#111" stroke-width="1.2" fill="#fff"/>
<circle cx="1284" cy="864.8" r="1.7" fill="#fff" stroke="#111" stroke-width="1.1"/>
<path d="M1285.7 864.8L1323.1 864.8" stroke="#111" stroke-width="1.2"/>
<circle cx="1314.7" cy="864.8" r="1.5" fill="#111"/>
<path d="M1314.7 864.8L1314.7 876L1289.5 876" stroke="#111" stroke-width="1.2" fill="none"/>
<path d="M1298.1 870.4L1298.1 881.6" stroke="#111" stroke-width="1.3"/>
<path d="M1303.7 870.4L1298.1 876L1303.7 881.6Z" stroke="#111" stroke-width="1.2" fill="#fff"/>
<circle cx="1289.5" cy="876" r="2.0" fill="#111"/>
<path d="M1261.8 887.1L1269.6 887.1" stroke="#111" stroke-width="1.2"/>
<path d="M1269.6 881.5L1280.8 887.1L1269.6 892.7Z" stroke="#111" stroke-width="1.2" fill="#fff"/>
<circle cx="1284" cy="887.1" r="1.7" fill="#fff" stroke="#111" stroke-width="1.1"/>
<path d="M1285.7 887.1L1323.1 887.1" stroke="#111" stroke-width="1.2"/>
<circle cx="1314.7" cy="887.1" r="1.5" fill="#111"/>
<path d="M1314.7 887.1L1314.7 898.3L1289.5 898.3" stroke="#111" stroke-width="1.2" fill="none"/>
<path d="M1298.1 892.7L1298.1 903.9" stroke="#111" stroke-width="1.3"/>
<path d="M1303.7 892.7L1298.1 898.3L1303.7 903.9Z" stroke="#111" stroke-width="1.2" fill="#fff"/>
<circle cx="1289.5" cy="898.3" r="2.0" fill="#111"/>
<path d="M1261.8 909.4L1269.6 909.4" stroke="#111" stroke-width="1.2"/>
<path d="M1269.6 903.8L1280.8 909.4L1269.6 915Z" stroke="#111" stroke-width="1.2" fill="#fff"/>
<circle cx="1284" cy="909.4" r="1.7" fill="#fff" stroke="#111" stroke-width="1.1"/>
<path d="M1285.7 909.4L1323.1 909.4" stroke="#111" stroke-width="1.2"/>
<circle cx="1314.7" cy="909.4" r="1.5" fill="#111"/>
<path d="M1314.7 909.4L1314.7 920.6L1289.5 920.6" stroke="#111" stroke-width="1.2" fill="none"/>
<path d="M1298.1 915L1298.1 926.2" stroke="#111" stroke-width="1.3"/>
<path d="M1303.7 915L1298.1 920.6L1303.7 926.2Z" stroke="#111" stroke-width="1.2" fill="#fff"/>
<circle cx="1289.5" cy="920.6" r="2.0" fill="#111"/>
<path d="M1261.8 931.7L1269.6 931.7" stroke="#111" stroke-width="1.2"/>
<path d="M1269.6 926.1L1280.8 931.7L1269.6 937.3Z" stroke="#111" stroke-width="1.2" fill="#fff"/>
<circle cx="1284" cy="931.7" r="1.7" fill="#fff" stroke="#111" stroke-width="1.1"/>
<path d="M1285.7 931.7L1323.1 931.7" stroke="#111" stroke-width="1.2"/>
<circle cx="1314.7" cy="931.7" r="1.5" fill="#111"/>
<path d="M1314.7 931.7L1314.7 942.9L1289.5 942.9" stroke="#111" stroke-width="1.2" fill="none"/>
<path d="M1298.1 937.3L1298.1 948.5" stroke="#111" stroke-width="1.3"/>
<path d="M1303.7 937.3L1298.1 942.9L1303.7 948.5Z" stroke="#111" stroke-width="1.2" fill="#fff"/>
<circle cx="1289.5" cy="942.9" r="2.0" fill="#111"/>
<path d="M1289.5 809.1L1289.5 954L1323.1 954" stroke="#111" stroke-width="1.2" fill="none"/>
<path d="M1250.6 797.9L1261.8 797.9" stroke="#c81414" stroke-width="1.5"/>
<text transform="translate(1260.6 803.7) scale(0.85 1)" font-size="6.4" text-anchor="end" fill="#c81414" stroke="#c81414" stroke-width="0.12">1</text>
<path d="M1323.1 797.9L1334.3 797.9" stroke="#c81414" stroke-width="1.5"/>
<text transform="translate(1324.6 803.7) scale(0.85 1)" font-size="6.4" fill="#c81414" stroke="#c81414" stroke-width="0.12">16</text>
<path d="M1250.6 820.2L1261.8 820.2" stroke="#c81414" stroke-width="1.5"/>
<text transform="translate(1260.6 826) scale(0.85 1)" font-size="6.4" text-anchor="end" fill="#c81414" stroke="#c81414" stroke-width="0.12">2</text>
<path d="M1323.1 820.2L1334.3 820.2" stroke="#c81414" stroke-width="1.5"/>
<text transform="translate(1324.6 826) scale(0.85 1)" font-size="6.4" fill="#c81414" stroke="#c81414" stroke-width="0.12">15</text>
<path d="M1250.6 842.5L1261.8 842.5" stroke="#c81414" stroke-width="1.5"/>
<text transform="translate(1260.6 848.3) scale(0.85 1)" font-size="6.4" text-anchor="end" fill="#c81414" stroke="#c81414" stroke-width="0.12">3</text>
<path d="M1323.1 842.5L1334.3 842.5" stroke="#c81414" stroke-width="1.5"/>
<text transform="translate(1324.6 848.3) scale(0.85 1)" font-size="6.4" fill="#c81414" stroke="#c81414" stroke-width="0.12">14</text>
<path d="M1250.6 864.8L1261.8 864.8" stroke="#c81414" stroke-width="1.5"/>
<text transform="translate(1260.6 870.6) scale(0.85 1)" font-size="6.4" text-anchor="end" fill="#c81414" stroke="#c81414" stroke-width="0.12">4</text>
<path d="M1323.1 864.8L1334.3 864.8" stroke="#c81414" stroke-width="1.5"/>
<text transform="translate(1324.6 870.6) scale(0.85 1)" font-size="6.4" fill="#c81414" stroke="#c81414" stroke-width="0.12">13</text>
<path d="M1250.6 887.1L1261.8 887.1" stroke="#c81414" stroke-width="1.5"/>
<text transform="translate(1260.6 892.9) scale(0.85 1)" font-size="6.4" text-anchor="end" fill="#c81414" stroke="#c81414" stroke-width="0.12">5</text>
<path d="M1323.1 887.1L1334.3 887.1" stroke="#c81414" stroke-width="1.5"/>
<text transform="translate(1324.6 892.9) scale(0.85 1)" font-size="6.4" fill="#c81414" stroke="#c81414" stroke-width="0.12">12</text>
<path d="M1250.6 909.4L1261.8 909.4" stroke="#c81414" stroke-width="1.5"/>
<text transform="translate(1260.6 915.2) scale(0.85 1)" font-size="6.4" text-anchor="end" fill="#c81414" stroke="#c81414" stroke-width="0.12">6</text>
<path d="M1323.1 909.4L1334.3 909.4" stroke="#c81414" stroke-width="1.5"/>
<text transform="translate(1324.6 915.2) scale(0.85 1)" font-size="6.4" fill="#c81414" stroke="#c81414" stroke-width="0.12">11</text>
<path d="M1250.6 931.7L1261.8 931.7" stroke="#c81414" stroke-width="1.5"/>
<text transform="translate(1260.6 937.5) scale(0.85 1)" font-size="6.4" text-anchor="end" fill="#c81414" stroke="#c81414" stroke-width="0.12">7</text>
<path d="M1323.1 931.7L1334.3 931.7" stroke="#c81414" stroke-width="1.5"/>
<text transform="translate(1324.6 937.5) scale(0.85 1)" font-size="6.4" fill="#c81414" stroke="#c81414" stroke-width="0.12">10</text>
<path d="M1250.6 954L1261.8 954" stroke="#c81414" stroke-width="1.5"/>
<text transform="translate(1260.6 959.8) scale(0.85 1)" font-size="6.4" text-anchor="end" fill="#c81414" stroke="#c81414" stroke-width="0.12">8</text>
<path d="M1323.1 954L1334.3 954" stroke="#c81414" stroke-width="1.5"/>
<text transform="translate(1324.6 959.8) scale(0.85 1)" font-size="6.4" fill="#c81414" stroke="#c81414" stroke-width="0.12">9</text>
<text transform="translate(1264 957.5) scale(0.8 1)" font-size="10.3">GND</text>
<text transform="translate(1326.7 792.3) scale(0.78 1)" font-size="12.7">IC1</text>
<text transform="translate(1264.8 973.2) scale(0.78 1)" font-size="12.7">ULN2003</text>
<path d="M1223.1 797.9L1234 797.9" stroke="#c81414" stroke-width="1.5"/>
<path d="M1234 797.9L1250.6 797.9" stroke="#1ecb1e" stroke-width="1.5" fill="none"/>
<path d="M1161.2 792.2L1217.9 792.2L1223.1 797.9L1217.9 803.6L1161.2 803.6Z" stroke="#111" stroke-width="1.5" fill="#fff"/>
<text transform="translate(1167.6 800.3)" font-size="6.6" fill="#111" stroke="#111" stroke-width="0.08">RELAY_1</text>
<path d="M1223.1 820.2L1234 820.2" stroke="#c81414" stroke-width="1.5"/>
<path d="M1234 820.2L1250.6 820.2" stroke="#1ecb1e" stroke-width="1.5" fill="none"/>
<path d="M1161.2 814.5L1217.9 814.5L1223.1 820.2L1217.9 825.9L1161.2 825.9Z" stroke="#111" stroke-width="1.5" fill="#fff"/>
<text transform="translate(1167.6 822.6)" font-size="6.6" fill="#111" stroke="#111" stroke-width="0.08">RELAY_2</text>
<path d="M1223.1 842.5L1234 842.5" stroke="#c81414" stroke-width="1.5"/>
<path d="M1234 842.5L1250.6 842.5" stroke="#1ecb1e" stroke-width="1.5" fill="none"/>
<path d="M1161.2 836.8L1217.9 836.8L1223.1 842.5L1217.9 848.2L1161.2 848.2Z" stroke="#111" stroke-width="1.5" fill="#fff"/>
<text transform="translate(1167.6 844.9)" font-size="6.6" fill="#111" stroke="#111" stroke-width="0.08">RELAY_3</text>
<path d="M1223.1 864.8L1234 864.8" stroke="#c81414" stroke-width="1.5"/>
<path d="M1234 864.8L1250.6 864.8" stroke="#1ecb1e" stroke-width="1.5" fill="none"/>
<path d="M1161.2 859.1L1217.9 859.1L1223.1 864.8L1217.9 870.5L1161.2 870.5Z" stroke="#111" stroke-width="1.5" fill="#fff"/>
<text transform="translate(1167.6 867.2)" font-size="6.6" fill="#111" stroke="#111" stroke-width="0.08">RELAY_4</text>
<path d="M1250.6 954L1242.5 954L1242.5 965.1" stroke="#1ecb1e" stroke-width="1.5" fill="none"/>
<path d="M1242.5 965.1L1242.5 976.5" stroke="#c81414" stroke-width="1.5"/>
<path d="M1234.2 977.8L1250.7 977.8" stroke="#000" stroke-width="2.8"/>
<path d="M1334.3 797.9L1593.6 797.9" stroke="#1ecb1e" stroke-width="1.5" fill="none"/>
<path d="M1334.3 820.2L1556.6 820.2L1556.6 881.7L1593.6 881.7" stroke="#1ecb1e" stroke-width="1.5" fill="none"/>
<path d="M1334.3 842.5L1544.7 842.5L1544.7 969.6L1593.4 969.6" stroke="#1ecb1e" stroke-width="1.5" fill="none"/>
<path d="M1334.3 864.8L1532.2 864.8L1532.2 1061.4L1593.4 1061.4" stroke="#1ecb1e" stroke-width="1.5" fill="none"/>
<path d="M1334.3 954L1340 954L1340 963.8L1517.4 963.8L1517.4 924.3" stroke="#1ecb1e" stroke-width="1.5" fill="none"/>
<path d="M1517.4 924.3L1517.4 914" stroke="#c81414" stroke-width="1.5"/>
<circle cx="1517.4" cy="908.3" r="5.6" fill="#fff" stroke="#111" stroke-width="1.2"/>
<path d="M1514.2 908.3L1520.6 908.3" stroke="#111" stroke-width="1.3"/>
<path d="M1517.4 905.1L1517.4 911.5" stroke="#111" stroke-width="1.3"/>
<text transform="translate(1507.9 899.9) scale(0.8 1)" font-size="10" fill="#222">+12V</text>
<circle cx="1369.1" cy="797.9" r="2.3" fill="#1ecb1e"/>
<path d="M1369.1 797.9L1369.1 865.9" stroke="#1ecb1e" stroke-width="1.5" fill="none"/>
<path d="M1369.1 865.9L1369.1 876.3" stroke="#c81414" stroke-width="1.5"/>
<path d="M1369.1 898.6L1369.1 909.2" stroke="#c81414" stroke-width="1.5"/>
<rect x="1363.4" y="876.3" width="11.4" height="22.3" stroke="#111" stroke-width="1.2" fill="#fff"/>
<text transform="translate(1370.7 874) scale(0.85 1)" font-size="6.4" fill="#c81414" stroke="#c81414" stroke-width="0.12">1</text>
<text transform="translate(1370.7 905) scale(0.85 1)" font-size="6.4" fill="#c81414" stroke="#c81414" stroke-width="0.12">2</text>
<text transform="translate(1362.1 895.3) rotate(-90) scale(0.78 1)" font-size="12.7">R41</text>
<text transform="translate(1385.1 895.3) rotate(-90) scale(0.78 1)" font-size="12.7">470</text>
<path d="M1369.1 909.2L1369.1 911.5" stroke="#1ecb1e" stroke-width="1.5" fill="none"/>
<path d="M1369.1 911.5L1369.1 924.8" stroke="#c81414" stroke-width="1.5"/>
<path d="M1369.1 941.3L1369.1 952.1" stroke="#c81414" stroke-width="1.5"/>
<path d="M1369.1 952.1L1369.1 963.8" stroke="#1ecb1e" stroke-width="1.5" fill="none"/>
<circle cx="1369.1" cy="963.8" r="2.3" fill="#1ecb1e"/>
<path d="M1360.8 941.3L1377.3 941.3L1369.1 924.8Z" stroke="#111" stroke-width="1.2" fill="#0f0"/>
<path d="M1369.1 926.3L1369.1 940.7" stroke="#0a9a0a" stroke-width="1.5"/>
<path d="M1360.5 924.8L1377.6 924.8" stroke="#111" stroke-width="1.3"/>
<text transform="translate(1370.7 922.5) scale(0.85 1)" font-size="6.4" fill="#c81414" stroke="#c81414" stroke-width="0.12">2</text>
<text transform="translate(1370.7 948) scale(0.85 1)" font-size="6.4" fill="#c81414" stroke="#c81414" stroke-width="0.12">1</text>
<path d="M1362.5 930.4L1353.8 924.4" stroke="#111" stroke-width="1.1"/>
<path d="M1348.5 920.7L1355.1 922.6L1352.6 926.2Z" stroke="#111" stroke-width="0.3" fill="#111"/>
<path d="M1358.7 936.6L1350 930.4" stroke="#111" stroke-width="1.1"/>
<path d="M1344.7 926.6L1351.3 928.6L1348.7 932.2Z" stroke="#111" stroke-width="0.3" fill="#111"/>
<text transform="translate(1355.3 958) rotate(-90) scale(0.78 1)" font-size="12.7">D13</text>
<circle cx="1408.3" cy="820.2" r="2.3" fill="#1ecb1e"/>
<path d="M1408.3 820.2L1408.3 865.9" stroke="#1ecb1e" stroke-width="1.5" fill="none"/>
<path d="M1408.3 865.9L1408.3 876.3" stroke="#c81414" stroke-width="1.5"/>
<path d="M1408.3 898.6L1408.3 909.2" stroke="#c81414" stroke-width="1.5"/>
<rect x="1402.6" y="876.3" width="11.4" height="22.3" stroke="#111" stroke-width="1.2" fill="#fff"/>
<text transform="translate(1409.9 874) scale(0.85 1)" font-size="6.4" fill="#c81414" stroke="#c81414" stroke-width="0.12">1</text>
<text transform="translate(1409.9 905) scale(0.85 1)" font-size="6.4" fill="#c81414" stroke="#c81414" stroke-width="0.12">2</text>
<text transform="translate(1401.3 895.3) rotate(-90) scale(0.78 1)" font-size="12.7">R42</text>
<text transform="translate(1424.3 895.3) rotate(-90) scale(0.78 1)" font-size="12.7">470</text>
<path d="M1408.3 909.2L1408.3 911.5" stroke="#1ecb1e" stroke-width="1.5" fill="none"/>
<path d="M1408.3 911.5L1408.3 924.8" stroke="#c81414" stroke-width="1.5"/>
<path d="M1408.3 941.3L1408.3 952.1" stroke="#c81414" stroke-width="1.5"/>
<path d="M1408.3 952.1L1408.3 963.8" stroke="#1ecb1e" stroke-width="1.5" fill="none"/>
<circle cx="1408.3" cy="963.8" r="2.3" fill="#1ecb1e"/>
<path d="M1400 941.3L1416.5 941.3L1408.3 924.8Z" stroke="#111" stroke-width="1.2" fill="#0f0"/>
<path d="M1408.3 926.3L1408.3 940.7" stroke="#0a9a0a" stroke-width="1.5"/>
<path d="M1399.8 924.8L1416.8 924.8" stroke="#111" stroke-width="1.3"/>
<text transform="translate(1409.9 922.5) scale(0.85 1)" font-size="6.4" fill="#c81414" stroke="#c81414" stroke-width="0.12">2</text>
<text transform="translate(1409.9 948) scale(0.85 1)" font-size="6.4" fill="#c81414" stroke="#c81414" stroke-width="0.12">1</text>
<path d="M1401.7 930.4L1393 924.4" stroke="#111" stroke-width="1.1"/>
<path d="M1387.7 920.7L1394.3 922.6L1391.8 926.2Z" stroke="#111" stroke-width="0.3" fill="#111"/>
<path d="M1397.9 936.6L1389.2 930.4" stroke="#111" stroke-width="1.1"/>
<path d="M1383.9 926.6L1390.5 928.6L1387.9 932.2Z" stroke="#111" stroke-width="0.3" fill="#111"/>
<text transform="translate(1394.5 958) rotate(-90) scale(0.78 1)" font-size="12.7">D14</text>
<circle cx="1447.3" cy="842.5" r="2.3" fill="#1ecb1e"/>
<path d="M1447.3 842.5L1447.3 865.9" stroke="#1ecb1e" stroke-width="1.5" fill="none"/>
<path d="M1447.3 865.9L1447.3 876.3" stroke="#c81414" stroke-width="1.5"/>
<path d="M1447.3 898.6L1447.3 909.2" stroke="#c81414" stroke-width="1.5"/>
<rect x="1441.6" y="876.3" width="11.4" height="22.3" stroke="#111" stroke-width="1.2" fill="#fff"/>
<text transform="translate(1448.9 874) scale(0.85 1)" font-size="6.4" fill="#c81414" stroke="#c81414" stroke-width="0.12">1</text>
<text transform="translate(1448.9 905) scale(0.85 1)" font-size="6.4" fill="#c81414" stroke="#c81414" stroke-width="0.12">2</text>
<text transform="translate(1440.3 895.3) rotate(-90) scale(0.78 1)" font-size="12.7">R43</text>
<text transform="translate(1463.3 895.3) rotate(-90) scale(0.78 1)" font-size="12.7">470</text>
<path d="M1447.3 909.2L1447.3 911.5" stroke="#1ecb1e" stroke-width="1.5" fill="none"/>
<path d="M1447.3 911.5L1447.3 924.8" stroke="#c81414" stroke-width="1.5"/>
<path d="M1447.3 941.3L1447.3 952.1" stroke="#c81414" stroke-width="1.5"/>
<path d="M1447.3 952.1L1447.3 963.8" stroke="#1ecb1e" stroke-width="1.5" fill="none"/>
<circle cx="1447.3" cy="963.8" r="2.3" fill="#1ecb1e"/>
<path d="M1439 941.3L1455.5 941.3L1447.3 924.8Z" stroke="#111" stroke-width="1.2" fill="#0f0"/>
<path d="M1447.3 926.3L1447.3 940.7" stroke="#0a9a0a" stroke-width="1.5"/>
<path d="M1438.8 924.8L1455.8 924.8" stroke="#111" stroke-width="1.3"/>
<text transform="translate(1448.9 922.5) scale(0.85 1)" font-size="6.4" fill="#c81414" stroke="#c81414" stroke-width="0.12">2</text>
<text transform="translate(1448.9 948) scale(0.85 1)" font-size="6.4" fill="#c81414" stroke="#c81414" stroke-width="0.12">1</text>
<path d="M1440.7 930.4L1432 924.4" stroke="#111" stroke-width="1.1"/>
<path d="M1426.7 920.7L1433.3 922.6L1430.8 926.2Z" stroke="#111" stroke-width="0.3" fill="#111"/>
<path d="M1436.9 936.6L1428.2 930.4" stroke="#111" stroke-width="1.1"/>
<path d="M1422.9 926.6L1429.5 928.6L1426.9 932.2Z" stroke="#111" stroke-width="0.3" fill="#111"/>
<text transform="translate(1433.5 958) rotate(-90) scale(0.78 1)" font-size="12.7">D15</text>
<circle cx="1484.9" cy="864.8" r="2.3" fill="#1ecb1e"/>
<path d="M1484.9 864.8L1484.9 865.9" stroke="#1ecb1e" stroke-width="1.5" fill="none"/>
<path d="M1484.9 865.9L1484.9 876.3" stroke="#c81414" stroke-width="1.5"/>
<path d="M1484.9 898.6L1484.9 909.2" stroke="#c81414" stroke-width="1.5"/>
<rect x="1479.2" y="876.3" width="11.4" height="22.3" stroke="#111" stroke-width="1.2" fill="#fff"/>
<text transform="translate(1486.5 874) scale(0.85 1)" font-size="6.4" fill="#c81414" stroke="#c81414" stroke-width="0.12">1</text>
<text transform="translate(1486.5 905) scale(0.85 1)" font-size="6.4" fill="#c81414" stroke="#c81414" stroke-width="0.12">2</text>
<text transform="translate(1477.9 895.3) rotate(-90) scale(0.78 1)" font-size="12.7">R44</text>
<text transform="translate(1500.9 895.3) rotate(-90) scale(0.78 1)" font-size="12.7">470</text>
<path d="M1484.9 909.2L1484.9 911.5" stroke="#1ecb1e" stroke-width="1.5" fill="none"/>
<path d="M1484.9 911.5L1484.9 924.8" stroke="#c81414" stroke-width="1.5"/>
<path d="M1484.9 941.3L1484.9 952.1" stroke="#c81414" stroke-width="1.5"/>
<path d="M1484.9 952.1L1484.9 963.8" stroke="#1ecb1e" stroke-width="1.5" fill="none"/>
<circle cx="1484.9" cy="963.8" r="2.3" fill="#1ecb1e"/>
<path d="M1476.7 941.3L1493.2 941.3L1484.9 924.8Z" stroke="#111" stroke-width="1.2" fill="#0f0"/>
<path d="M1484.9 926.3L1484.9 940.7" stroke="#0a9a0a" stroke-width="1.5"/>
<path d="M1476.4 924.8L1493.5 924.8" stroke="#111" stroke-width="1.3"/>
<text transform="translate(1486.5 922.5) scale(0.85 1)" font-size="6.4" fill="#c81414" stroke="#c81414" stroke-width="0.12">2</text>
<text transform="translate(1486.5 948) scale(0.85 1)" font-size="6.4" fill="#c81414" stroke="#c81414" stroke-width="0.12">1</text>
<path d="M1478.3 930.4L1469.6 924.4" stroke="#111" stroke-width="1.1"/>
<path d="M1464.3 920.7L1470.9 922.6L1468.4 926.2Z" stroke="#111" stroke-width="0.3" fill="#111"/>
<path d="M1474.5 936.6L1465.8 930.4" stroke="#111" stroke-width="1.1"/>
<path d="M1460.5 926.6L1467.1 928.6L1464.5 932.2Z" stroke="#111" stroke-width="0.3" fill="#111"/>
<text transform="translate(1471.1 958) rotate(-90) scale(0.78 1)" font-size="12.7">D16</text>
<circle cx="1593.6" cy="797.9" r="2.3" fill="#1ecb1e"/>
<path d="M1593.6 797.9L1593.6 817.9" stroke="#1ecb1e" stroke-width="1.5" fill="none"/>
<path d="M1593.6 817.9L1593.6 828.3" stroke="#c81414" stroke-width="1.5"/>
<path d="M1593.6 845.1L1593.6 856.1" stroke="#c81414" stroke-width="1.5"/>
<path d="M1593.6 856.1L1593.6 867.3" stroke="#1ecb1e" stroke-width="1.5" fill="none"/>
<circle cx="1593.6" cy="867.3" r="2.3" fill="#1ecb1e"/>
<path d="M1585 828.3L1602.2 828.3L1593.6 845.1Z" stroke="#111" stroke-width="1.2" fill="#fff"/>
<path d="M1584.8 845.1L1602.4 845.1" stroke="#111" stroke-width="1.3"/>
<path d="M1593.6 828.3L1593.6 845.1" stroke="#111" stroke-width="1.2"/>
<text transform="translate(1595.3 826.1) scale(0.85 1)" font-size="6.4" fill="#c81414" stroke="#c81414" stroke-width="0.12">1</text>
<text transform="translate(1595.3 851.3) scale(0.85 1)" font-size="6.4" fill="#c81414" stroke="#c81414" stroke-width="0.12">2</text>
<text transform="translate(1579.4 810.3) rotate(-90) scale(0.78 1)" font-size="12.7" text-anchor="end">1N4148</text>
<text transform="translate(1590.9 810.3) rotate(-90) scale(0.78 1)" font-size="12.7" text-anchor="end">D9</text>
<path d="M1575.4 856.5L1575.4 867.3" stroke="#c81414" stroke-width="1.5"/>
<path d="M1575.4 867.3L1626.9 867.3L1626.9 860.6" stroke="#1ecb1e" stroke-width="1.5" fill="none"/>
<circle cx="1575.4" cy="850.8" r="5.6" fill="#fff" stroke="#111" stroke-width="1.2"/>
<path d="M1572.2 850.8L1578.6 850.8" stroke="#111" stroke-width="1.3"/>
<path d="M1575.4 847.6L1575.4 854" stroke="#111" stroke-width="1.3"/>
<text transform="translate(1560.5 878.6) scale(0.8 1)" font-size="10" fill="#222">+12V</text>
<path d="M1593.6 797.9L1626.9 797.9" stroke="#1ecb1e" stroke-width="1.5" fill="none"/>
<path d="M1626.9 797.9L1626.9 810.6" stroke="#c81414" stroke-width="1.5"/>
<text transform="translate(1628.4 808.8) scale(0.85 1)" font-size="5.8" fill="#c81414">A2</text>
<path d="M1649.1 797.9L1649.1 810.6" stroke="#c81414" stroke-width="1.5"/>
<text transform="translate(1650.6 808.8) scale(0.85 1)" font-size="5.8" fill="#c81414">11</text>
<path d="M1626.9 849.5L1626.9 860.6" stroke="#c81414" stroke-width="1.5"/>
<text transform="translate(1628.6 855.5) scale(0.85 1)" font-size="5.8" fill="#c81414">A1</text>
<path d="M1649.1 849.5L1649.1 860.6" stroke="#c81414" stroke-width="1.5"/>
<text transform="translate(1650.8 855.5) scale(0.85 1)" font-size="5.8" fill="#c81414">14</text>
<path d="M1660.6 849.5L1660.6 860.6" stroke="#c81414" stroke-width="1.5"/>
<text transform="translate(1662.3 855.5) scale(0.85 1)" font-size="5.8" fill="#c81414">12</text>
<rect x="1615.5" y="810.6" width="56.1" height="38.9" stroke="#111" stroke-width="1.4" fill="#fff"/>
<path d="M1626.9 810.6L1626.9 849.5" stroke="#111" stroke-width="1.3"/>
<rect x="1621.5" y="821.7" width="10.9" height="16.8" stroke="#111" stroke-width="1.3" fill="#fff"/>
<path d="M1621.5 821.7L1632.4 838.5" stroke="#111" stroke-width="1.2"/>
<path d="M1632.4 830.3L1654.1 830.3" stroke="#111" stroke-width="1.2" stroke-dasharray="2.6 1.7"/>
<path d="M1649.1 810.6L1649.1 821.9" stroke="#111" stroke-width="1.2"/>
<circle cx="1649.1" cy="821.9" r="1.1" fill="#111"/>
<path d="M1649.1 821.9L1658.1 836.3" stroke="#111" stroke-width="1.2"/>
<path d="M1660.6 849.5L1660.6 832.8L1656.1 832.8" stroke="#111" stroke-width="1.2" fill="none"/>
<circle cx="1660.6" cy="838.5" r="0.9" fill="#111"/>
<path d="M1649.1 849.5L1649.1 832.8" stroke="#111" stroke-width="1.2"/>
<circle cx="1649.1" cy="838.5" r="0.9" fill="#111"/>
<text transform="translate(1612.8 848.9) rotate(-90) scale(0.78 1)" font-size="12.7">K1</text>
<text transform="translate(1683 854.8) rotate(-90) scale(0.78 1)" font-size="12.7">RT314A12</text>
<path d="M1649.1 797.9L1690 797.9L1690 830.3L1705.4 830.3" stroke="#1ecb1e" stroke-width="1.5" fill="none"/>
<path d="M1660.6 860.6L1660.6 861.9L1697 861.9L1697 818.9L1705.4 818.9" stroke="#1ecb1e" stroke-width="1.5" fill="none"/>
<path d="M1649.1 860.6L1649.1 867.3L1703.9 867.3L1703.9 841.4L1705.4 841.4" stroke="#1ecb1e" stroke-width="1.5" fill="none"/>
<path d="M1705.4 818.9L1716.4 818.9" stroke="#c81414" stroke-width="1.5"/>
<text transform="translate(1715 824.8) scale(0.85 1)" font-size="6.4" text-anchor="end" fill="#c81414" stroke="#c81414" stroke-width="0.12">3</text>
<path d="M1705.4 830.3L1716.4 830.3" stroke="#c81414" stroke-width="1.5"/>
<text transform="translate(1715 836.2) scale(0.85 1)" font-size="6.4" text-anchor="end" fill="#c81414" stroke="#c81414" stroke-width="0.12">2</text>
<path d="M1705.4 841.4L1716.4 841.4" stroke="#c81414" stroke-width="1.5"/>
<text transform="translate(1715 847.3) scale(0.85 1)" font-size="6.4" text-anchor="end" fill="#c81414" stroke="#c81414" stroke-width="0.12">1</text>
<rect x="1716.4" y="807.7" width="11.2" height="44.3" stroke="#111" stroke-width="1.5" fill="#fff"/>
<text transform="translate(1712.1 863.5) scale(0.78 1)" font-size="12.7">J28</text>
<circle cx="1593.2" cy="881.7" r="2.3" fill="#1ecb1e"/>
<path d="M1593.2 881.7L1593.2 904.5" stroke="#1ecb1e" stroke-width="1.5" fill="none"/>
<path d="M1593.2 904.5L1593.2 914.9" stroke="#c81414" stroke-width="1.5"/>
<path d="M1593.2 931.7L1593.2 942.7" stroke="#c81414" stroke-width="1.5"/>
<path d="M1593.2 942.7L1593.2 953.9" stroke="#1ecb1e" stroke-width="1.5" fill="none"/>
<circle cx="1593.2" cy="953.9" r="2.3" fill="#1ecb1e"/>
<path d="M1584.6 914.9L1601.8 914.9L1593.2 931.7Z" stroke="#111" stroke-width="1.2" fill="#fff"/>
<path d="M1584.4 931.7L1602 931.7" stroke="#111" stroke-width="1.3"/>
<path d="M1593.2 914.9L1593.2 931.7" stroke="#111" stroke-width="1.2"/>
<text transform="translate(1594.9 912.7) scale(0.85 1)" font-size="6.4" fill="#c81414" stroke="#c81414" stroke-width="0.12">1</text>
<text transform="translate(1594.9 937.9) scale(0.85 1)" font-size="6.4" fill="#c81414" stroke="#c81414" stroke-width="0.12">2</text>
<text transform="translate(1579 895.1) rotate(-90) scale(0.78 1)" font-size="12.7" text-anchor="end">1N4148</text>
<text transform="translate(1590.5 895.1) rotate(-90) scale(0.78 1)" font-size="12.7" text-anchor="end">D10</text>
<path d="M1575.5 943.2L1575.5 953.9" stroke="#c81414" stroke-width="1.5"/>
<path d="M1575.5 953.9L1626.9 953.9L1626.9 945.4" stroke="#1ecb1e" stroke-width="1.5" fill="none"/>
<circle cx="1575.5" cy="937.5" r="5.6" fill="#fff" stroke="#111" stroke-width="1.2"/>
<path d="M1572.3 937.5L1578.7 937.5" stroke="#111" stroke-width="1.3"/>
<path d="M1575.5 934.3L1575.5 940.7" stroke="#111" stroke-width="1.3"/>
<text transform="translate(1549.3 940.4) scale(0.8 1)" font-size="10" fill="#222">+12V</text>
<path d="M1593.2 881.7L1626.9 881.7" stroke="#1ecb1e" stroke-width="1.5" fill="none"/>
<path d="M1626.9 881.7L1626.9 895.4" stroke="#c81414" stroke-width="1.5"/>
<text transform="translate(1628.4 893.6) scale(0.85 1)" font-size="5.8" fill="#c81414">A2</text>
<path d="M1649.1 881.7L1649.1 895.4" stroke="#c81414" stroke-width="1.5"/>
<text transform="translate(1650.6 893.6) scale(0.85 1)" font-size="5.8" fill="#c81414">11</text>
<path d="M1626.9 934.3L1626.9 945.4" stroke="#c81414" stroke-width="1.5"/>
<text transform="translate(1628.6 940.3) scale(0.85 1)" font-size="5.8" fill="#c81414">A1</text>
<path d="M1649.1 934.3L1649.1 945.4" stroke="#c81414" stroke-width="1.5"/>
<text transform="translate(1650.8 940.3) scale(0.85 1)" font-size="5.8" fill="#c81414">14</text>
<path d="M1660.6 934.3L1660.6 945.4" stroke="#c81414" stroke-width="1.5"/>
<text transform="translate(1662.3 940.3) scale(0.85 1)" font-size="5.8" fill="#c81414">12</text>
<rect x="1615.5" y="895.4" width="56.1" height="38.9" stroke="#111" stroke-width="1.4" fill="#fff"/>
<path d="M1626.9 895.4L1626.9 934.3" stroke="#111" stroke-width="1.3"/>
<rect x="1621.5" y="906.5" width="10.9" height="16.8" stroke="#111" stroke-width="1.3" fill="#fff"/>
<path d="M1621.5 906.5L1632.4 923.3" stroke="#111" stroke-width="1.2"/>
<path d="M1632.4 915.1L1654.1 915.1" stroke="#111" stroke-width="1.2" stroke-dasharray="2.6 1.7"/>
<path d="M1649.1 895.4L1649.1 906.7" stroke="#111" stroke-width="1.2"/>
<circle cx="1649.1" cy="906.7" r="1.1" fill="#111"/>
<path d="M1649.1 906.7L1658.1 921.1" stroke="#111" stroke-width="1.2"/>
<path d="M1660.6 934.3L1660.6 917.6L1656.1 917.6" stroke="#111" stroke-width="1.2" fill="none"/>
<circle cx="1660.6" cy="923.3" r="0.9" fill="#111"/>
<path d="M1649.1 934.3L1649.1 917.6" stroke="#111" stroke-width="1.2"/>
<circle cx="1649.1" cy="923.3" r="0.9" fill="#111"/>
<text transform="translate(1612.8 933.7) rotate(-90) scale(0.78 1)" font-size="12.7">K2</text>
<text transform="translate(1683 939.6) rotate(-90) scale(0.78 1)" font-size="12.7">RT314A12</text>
<path d="M1649.1 881.7L1690.5 881.7L1690.5 918.1L1707.9 918.1" stroke="#1ecb1e" stroke-width="1.5" fill="none"/>
<path d="M1660.6 945.4L1660.6 948.6L1696.8 948.6L1696.8 906.5L1707.9 906.5" stroke="#1ecb1e" stroke-width="1.5" fill="none"/>
<path d="M1649.1 945.4L1649.1 953.9L1704.1 953.9L1704.1 928.8L1707.9 928.8" stroke="#1ecb1e" stroke-width="1.5" fill="none"/>
<path d="M1707.9 906.5L1718.9 906.5" stroke="#c81414" stroke-width="1.5"/>
<text transform="translate(1717.5 912.4) scale(0.85 1)" font-size="6.4" text-anchor="end" fill="#c81414" stroke="#c81414" stroke-width="0.12">3</text>
<path d="M1707.9 918.1L1718.9 918.1" stroke="#c81414" stroke-width="1.5"/>
<text transform="translate(1717.5 924) scale(0.85 1)" font-size="6.4" text-anchor="end" fill="#c81414" stroke="#c81414" stroke-width="0.12">2</text>
<path d="M1707.9 928.8L1718.9 928.8" stroke="#c81414" stroke-width="1.5"/>
<text transform="translate(1717.5 934.7) scale(0.85 1)" font-size="6.4" text-anchor="end" fill="#c81414" stroke="#c81414" stroke-width="0.12">1</text>
<rect x="1718.9" y="895.4" width="11.2" height="44.8" stroke="#111" stroke-width="1.5" fill="#fff"/>
<text transform="translate(1714.8 951.1) scale(0.78 1)" font-size="12.7">J29</text>
<circle cx="1593.4" cy="969.6" r="2.3" fill="#1ecb1e"/>
<path d="M1593.4 969.6L1593.4 992.4" stroke="#1ecb1e" stroke-width="1.5" fill="none"/>
<path d="M1593.4 992.4L1593.4 1002.8" stroke="#c81414" stroke-width="1.5"/>
<path d="M1593.4 1019.6L1593.4 1030.6" stroke="#c81414" stroke-width="1.5"/>
<path d="M1593.4 1030.6L1593.4 1044.6" stroke="#1ecb1e" stroke-width="1.5" fill="none"/>
<circle cx="1593.4" cy="1044.6" r="2.3" fill="#1ecb1e"/>
<path d="M1584.8 1002.8L1602 1002.8L1593.4 1019.6Z" stroke="#111" stroke-width="1.2" fill="#fff"/>
<path d="M1584.6 1019.6L1602.2 1019.6" stroke="#111" stroke-width="1.3"/>
<path d="M1593.4 1002.8L1593.4 1019.6" stroke="#111" stroke-width="1.2"/>
<text transform="translate(1595.1 1000.6) scale(0.85 1)" font-size="6.4" fill="#c81414" stroke="#c81414" stroke-width="0.12">1</text>
<text transform="translate(1595.1 1025.8) scale(0.85 1)" font-size="6.4" fill="#c81414" stroke="#c81414" stroke-width="0.12">2</text>
<text transform="translate(1579.2 983.3) rotate(-90) scale(0.78 1)" font-size="12.7" text-anchor="end">1N4148</text>
<text transform="translate(1590.7 983.3) rotate(-90) scale(0.78 1)" font-size="12.7" text-anchor="end">D11</text>
<path d="M1575.6 1033.3L1575.6 1044.6" stroke="#c81414" stroke-width="1.5"/>
<path d="M1575.6 1044.6L1626.9 1044.6L1626.9 1033.6" stroke="#1ecb1e" stroke-width="1.5" fill="none"/>
<circle cx="1575.6" cy="1027.6" r="5.6" fill="#fff" stroke="#111" stroke-width="1.2"/>
<path d="M1572.4 1027.6L1578.8 1027.6" stroke="#111" stroke-width="1.3"/>
<path d="M1575.6 1024.4L1575.6 1030.8" stroke="#111" stroke-width="1.3"/>
<text transform="translate(1547.6 1030.8) scale(0.8 1)" font-size="10" fill="#222">+12V</text>
<path d="M1593.4 969.6L1626.9 969.6" stroke="#1ecb1e" stroke-width="1.5" fill="none"/>
<path d="M1626.9 969.6L1626.9 983.6" stroke="#c81414" stroke-width="1.5"/>
<text transform="translate(1628.4 981.8) scale(0.85 1)" font-size="5.8" fill="#c81414">A2</text>
<path d="M1649.1 969.6L1649.1 983.6" stroke="#c81414" stroke-width="1.5"/>
<text transform="translate(1650.6 981.8) scale(0.85 1)" font-size="5.8" fill="#c81414">11</text>
<path d="M1626.9 1022.5L1626.9 1033.6" stroke="#c81414" stroke-width="1.5"/>
<text transform="translate(1628.6 1028.5) scale(0.85 1)" font-size="5.8" fill="#c81414">A1</text>
<path d="M1649.1 1022.5L1649.1 1033.6" stroke="#c81414" stroke-width="1.5"/>
<text transform="translate(1650.8 1028.5) scale(0.85 1)" font-size="5.8" fill="#c81414">14</text>
<path d="M1660.6 1022.5L1660.6 1033.6" stroke="#c81414" stroke-width="1.5"/>
<text transform="translate(1662.3 1028.5) scale(0.85 1)" font-size="5.8" fill="#c81414">12</text>
<rect x="1615.5" y="983.6" width="56.1" height="38.9" stroke="#111" stroke-width="1.4" fill="#fff"/>
<path d="M1626.9 983.6L1626.9 1022.5" stroke="#111" stroke-width="1.3"/>
<rect x="1621.5" y="994.7" width="10.9" height="16.8" stroke="#111" stroke-width="1.3" fill="#fff"/>
<path d="M1621.5 994.7L1632.4 1011.5" stroke="#111" stroke-width="1.2"/>
<path d="M1632.4 1003.3L1654.1 1003.3" stroke="#111" stroke-width="1.2" stroke-dasharray="2.6 1.7"/>
<path d="M1649.1 983.6L1649.1 994.9" stroke="#111" stroke-width="1.2"/>
<circle cx="1649.1" cy="994.9" r="1.1" fill="#111"/>
<path d="M1649.1 994.9L1658.1 1009.3" stroke="#111" stroke-width="1.2"/>
<path d="M1660.6 1022.5L1660.6 1005.8L1656.1 1005.8" stroke="#111" stroke-width="1.2" fill="none"/>
<circle cx="1660.6" cy="1011.5" r="0.9" fill="#111"/>
<path d="M1649.1 1022.5L1649.1 1005.8" stroke="#111" stroke-width="1.2"/>
<circle cx="1649.1" cy="1011.5" r="0.9" fill="#111"/>
<text transform="translate(1612.8 1021.9) rotate(-90) scale(0.78 1)" font-size="12.7">K3</text>
<text transform="translate(1683 1027.8) rotate(-90) scale(0.78 1)" font-size="12.7">RT314A12</text>
<path d="M1649.1 969.6L1691.8 969.6L1691.8 997L1708.3 997" stroke="#1ecb1e" stroke-width="1.5" fill="none"/>
<path d="M1660.6 1033.6L1660.6 1036.5L1697.6 1036.5L1697.6 986.4L1708.3 986.4" stroke="#1ecb1e" stroke-width="1.5" fill="none"/>
<path d="M1649.1 1033.6L1649.1 1044.6L1705.8 1044.6L1705.8 1008.5L1708.3 1008.5" stroke="#1ecb1e" stroke-width="1.5" fill="none"/>
<path d="M1708.3 986.4L1719.3 986.4" stroke="#c81414" stroke-width="1.5"/>
<text transform="translate(1717.9 992.3) scale(0.85 1)" font-size="6.4" text-anchor="end" fill="#c81414" stroke="#c81414" stroke-width="0.12">3</text>
<path d="M1708.3 997L1719.3 997" stroke="#c81414" stroke-width="1.5"/>
<text transform="translate(1717.9 1002.9) scale(0.85 1)" font-size="6.4" text-anchor="end" fill="#c81414" stroke="#c81414" stroke-width="0.12">2</text>
<path d="M1708.3 1008.5L1719.3 1008.5" stroke="#c81414" stroke-width="1.5"/>
<text transform="translate(1717.9 1014.4) scale(0.85 1)" font-size="6.4" text-anchor="end" fill="#c81414" stroke="#c81414" stroke-width="0.12">1</text>
<rect x="1719.3" y="974.7" width="11.2" height="44.5" stroke="#111" stroke-width="1.5" fill="#fff"/>
<text transform="translate(1715.2 1030.6) scale(0.78 1)" font-size="12.7">J30</text>
<circle cx="1593.4" cy="1061.4" r="2.3" fill="#1ecb1e"/>
<path d="M1593.4 1061.4L1593.4 1084.1" stroke="#1ecb1e" stroke-width="1.5" fill="none"/>
<path d="M1593.4 1084.1L1593.4 1094.5" stroke="#c81414" stroke-width="1.5"/>
<path d="M1593.4 1111.3L1593.4 1122.3" stroke="#c81414" stroke-width="1.5"/>
<path d="M1593.4 1122.3L1593.4 1136.9" stroke="#1ecb1e" stroke-width="1.5" fill="none"/>
<circle cx="1593.4" cy="1136.9" r="2.3" fill="#1ecb1e"/>
<path d="M1584.8 1094.5L1602 1094.5L1593.4 1111.3Z" stroke="#111" stroke-width="1.2" fill="#fff"/>
<path d="M1584.6 1111.3L1602.2 1111.3" stroke="#111" stroke-width="1.3"/>
<path d="M1593.4 1094.5L1593.4 1111.3" stroke="#111" stroke-width="1.2"/>
<text transform="translate(1595.1 1092.3) scale(0.85 1)" font-size="6.4" fill="#c81414" stroke="#c81414" stroke-width="0.12">1</text>
<text transform="translate(1595.1 1117.5) scale(0.85 1)" font-size="6.4" fill="#c81414" stroke="#c81414" stroke-width="0.12">2</text>
<text transform="translate(1579.2 1074.8) rotate(-90) scale(0.78 1)" font-size="12.7" text-anchor="end">1N4148</text>
<text transform="translate(1590.7 1074.8) rotate(-90) scale(0.78 1)" font-size="12.7" text-anchor="end">D12</text>
<path d="M1574 1125.6L1574 1136.9" stroke="#c81414" stroke-width="1.5"/>
<path d="M1574 1136.9L1626.9 1136.9L1626.9 1125.1" stroke="#1ecb1e" stroke-width="1.5" fill="none"/>
<circle cx="1574" cy="1119.9" r="5.6" fill="#fff" stroke="#111" stroke-width="1.2"/>
<path d="M1570.8 1119.9L1577.2 1119.9" stroke="#111" stroke-width="1.3"/>
<path d="M1574 1116.7L1574 1123.1" stroke="#111" stroke-width="1.3"/>
<text transform="translate(1546.3 1123.1) scale(0.8 1)" font-size="10" fill="#222">+12V</text>
<path d="M1593.4 1061.4L1626.9 1061.4" stroke="#1ecb1e" stroke-width="1.5" fill="none"/>
<path d="M1626.9 1061.4L1626.9 1075.1" stroke="#c81414" stroke-width="1.5"/>
<text transform="translate(1628.4 1073.3) scale(0.85 1)" font-size="5.8" fill="#c81414">A2</text>
<path d="M1649.1 1061.4L1649.1 1075.1" stroke="#c81414" stroke-width="1.5"/>
<text transform="translate(1650.6 1073.3) scale(0.85 1)" font-size="5.8" fill="#c81414">11</text>
<path d="M1626.9 1114L1626.9 1125.1" stroke="#c81414" stroke-width="1.5"/>
<text transform="translate(1628.6 1120) scale(0.85 1)" font-size="5.8" fill="#c81414">A1</text>
<path d="M1649.1 1114L1649.1 1125.1" stroke="#c81414" stroke-width="1.5"/>
<text transform="translate(1650.8 1120) scale(0.85 1)" font-size="5.8" fill="#c81414">14</text>
<path d="M1660.6 1114L1660.6 1125.1" stroke="#c81414" stroke-width="1.5"/>
<text transform="translate(1662.3 1120) scale(0.85 1)" font-size="5.8" fill="#c81414">12</text>
<rect x="1615.5" y="1075.1" width="56.1" height="38.9" stroke="#111" stroke-width="1.4" fill="#fff"/>
<path d="M1626.9 1075.1L1626.9 1114" stroke="#111" stroke-width="1.3"/>
<rect x="1621.5" y="1086.2" width="10.9" height="16.8" stroke="#111" stroke-width="1.3" fill="#fff"/>
<path d="M1621.5 1086.2L1632.4 1103" stroke="#111" stroke-width="1.2"/>
<path d="M1632.4 1094.8L1654.1 1094.8" stroke="#111" stroke-width="1.2" stroke-dasharray="2.6 1.7"/>
<path d="M1649.1 1075.1L1649.1 1086.4" stroke="#111" stroke-width="1.2"/>
<circle cx="1649.1" cy="1086.4" r="1.1" fill="#111"/>
<path d="M1649.1 1086.4L1658.1 1100.8" stroke="#111" stroke-width="1.2"/>
<path d="M1660.6 1114L1660.6 1097.3L1656.1 1097.3" stroke="#111" stroke-width="1.2" fill="none"/>
<circle cx="1660.6" cy="1103" r="0.9" fill="#111"/>
<path d="M1649.1 1114L1649.1 1097.3" stroke="#111" stroke-width="1.2"/>
<circle cx="1649.1" cy="1103" r="0.9" fill="#111"/>
<text transform="translate(1612.8 1113.4) rotate(-90) scale(0.78 1)" font-size="12.7">K4</text>
<text transform="translate(1683 1119.3) rotate(-90) scale(0.78 1)" font-size="12.7">RT314A12</text>
<path d="M1649.1 1061.4L1692.5 1061.4L1692.5 1089.1L1709.3 1089.1" stroke="#1ecb1e" stroke-width="1.5" fill="none"/>
<path d="M1660.6 1125.1L1660.6 1126.8L1699.4 1126.8L1699.4 1078.4L1709.3 1078.4" stroke="#1ecb1e" stroke-width="1.5" fill="none"/>
<path d="M1649.1 1125.1L1649.1 1136.9L1708.3 1136.9L1708.3 1100.6L1709.3 1100.6" stroke="#1ecb1e" stroke-width="1.5" fill="none"/>
<path d="M1709.3 1078.4L1720.3 1078.4" stroke="#c81414" stroke-width="1.5"/>
<text transform="translate(1718.9 1084.3) scale(0.85 1)" font-size="6.4" text-anchor="end" fill="#c81414" stroke="#c81414" stroke-width="0.12">3</text>
<path d="M1709.3 1089.1L1720.3 1089.1" stroke="#c81414" stroke-width="1.5"/>
<text transform="translate(1718.9 1095) scale(0.85 1)" font-size="6.4" text-anchor="end" fill="#c81414" stroke="#c81414" stroke-width="0.12">2</text>
<path d="M1709.3 1100.6L1720.3 1100.6" stroke="#c81414" stroke-width="1.5"/>
<text transform="translate(1718.9 1106.5) scale(0.85 1)" font-size="6.4" text-anchor="end" fill="#c81414" stroke="#c81414" stroke-width="0.12">1</text>
<rect x="1720.3" y="1067" width="11.2" height="44.5" stroke="#111" stroke-width="1.5" fill="#fff"/>
<text transform="translate(1716.4 1122.9) scale(0.78 1)" font-size="12.7">J31</text>
<defs><filter id="sh" x="-30%" y="-30%" width="160%" height="160%"><feGaussianBlur stdDeviation="28"/></filter><filter id="ts" x="-10%" y="-20%" width="120%" height="150%"><feGaussianBlur stdDeviation="1"/></filter></defs>
<g transform="translate(1200 1010) scale(0.11068)">
<path d="M145 160L410 140L415 118L470 112L475 85L600 85L610 110L660 112L665 135L700 135L705 112L720 100L760 100L790 125L830 125L850 110L880 112L900 130L940 130L960 110L990 105L1020 125L1060 128L1080 112L1100 115L1130 135L1300 160L1575 175L1590 300L1585 380L1610 420L1615 530L1580 545L1555 575L1625 580L1640 700L1665 890L1600 900L1590 925L1625 935L1615 985L1600 1000L1610 1060L1400 1062L1000 1068L700 1072L105 1075L100 1000L85 960L105 900L100 800L130 700L125 600L150 500L165 400L150 300L140 200Z" fill="#74aa24"/>
<ellipse cx="540" cy="900" rx="270" ry="280" fill="#000" opacity="0.55" filter="url(#sh)"/>
<ellipse cx="560" cy="520" rx="190" ry="90" fill="#000" opacity="0.4" filter="url(#sh)"/>
<path d="M482 605C400 615 300 600 255 545C222 505 215 462 232 438C300 408 405 420 452 480C478 520 492 565 482 605Z" fill="#7cb530" stroke="#000" stroke-width="26" stroke-linejoin="round"/>
<path d="M498 605C580 615 680 600 725 545C758 505 765 462 748 438C680 408 575 420 528 480C502 520 488 565 498 605Z" fill="#7cb530" stroke="#000" stroke-width="26" stroke-linejoin="round"/>
<path d="M310 485C380 520 440 560 478 600M670 485C600 520 540 560 502 600" stroke="#000" stroke-width="12" fill="none"/>
<path d="M490 1165C380 1165 330 1100 280 1050C215 1000 195 900 215 830C225 760 260 700 300 660C340 610 420 585 490 590C560 585 640 610 680 660C720 700 755 760 765 830C785 900 765 1000 700 1050C650 1100 600 1165 490 1165Z" fill="#000"/>
<ellipse cx="490" cy="668" rx="82" ry="48" fill="#bc1142"/>
<ellipse cx="338" cy="690" rx="66" ry="46" fill="#bc1142" transform="rotate(-35 338 690)"/>
<ellipse cx="642" cy="690" rx="66" ry="46" fill="#bc1142" transform="rotate(35 642 690)"/>
<ellipse cx="400" cy="800" rx="84" ry="84" fill="#bc1142"/>
<ellipse cx="585" cy="800" rx="84" ry="84" fill="#bc1142"/>
<ellipse cx="252" cy="832" rx="38" ry="74" fill="#bc1142" transform="rotate(8 252 832)"/>
<ellipse cx="732" cy="832" rx="38" ry="74" fill="#bc1142" transform="rotate(-8 732 832)"/>
<ellipse cx="490" cy="940" rx="84" ry="84" fill="#bc1142"/>
<ellipse cx="322" cy="972" rx="54" ry="76" fill="#bc1142" transform="rotate(-28 322 972)"/>
<ellipse cx="660" cy="972" rx="54" ry="76" fill="#bc1142" transform="rotate(28 660 972)"/>
<ellipse cx="490" cy="1085" rx="86" ry="48" fill="#bc1142"/>
</g>
<text x="1213.8" y="1048.9" font-size="24.4" font-weight="bold" textLength="157" lengthAdjust="spacingAndGlyphs" fill="#444" opacity="0.5" filter="url(#ts)" transform="translate(0.8 1)">SVXLink Card</text>
<text x="1213.8" y="1048.9" font-size="24.4" font-weight="bold" textLength="157" lengthAdjust="spacingAndGlyphs" fill="#c0143c" stroke="#fff" stroke-width="3.6" stroke-linejoin="round" paint-order="stroke">SVXLink Card</text>
<text x="1286.9" y="1062" font-size="8.6" textLength="85.8" lengthAdjust="spacing" fill="#f4f8ea" font-weight="bold">for Raspberry Pi</text>
<text x="1371.6" y="1111.3" font-size="9.4" text-anchor="end" fill="#f4f8ea" font-weight="bold" transform="translate(1371.6 0) scale(0.9 1) translate(-1371.6 0)">design by</text>
<text x="1288" y="1123.4" font-size="9.4" textLength="83.6" lengthAdjust="spacingAndGlyphs" fill="#f4f8ea" font-weight="bold">F5UII, F8ASB, W4EAE</text>
</svg>
</body></html>
